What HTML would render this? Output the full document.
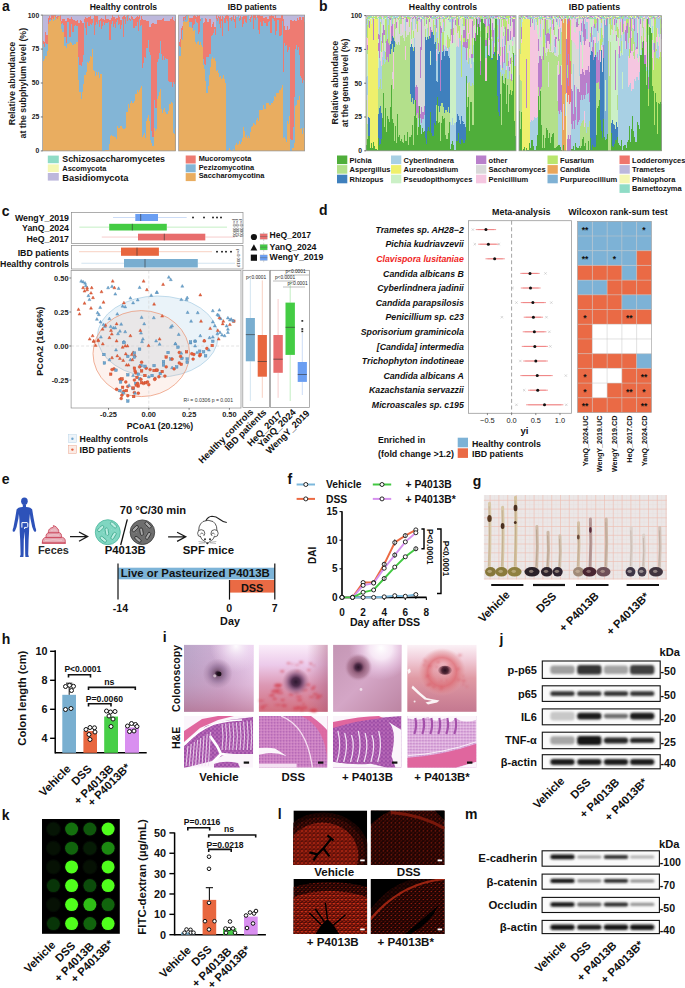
<!DOCTYPE html>
<html><head><meta charset="utf-8"><style>
html,body{margin:0;padding:0;background:#fff;}
svg{display:block;font-family:"Liberation Sans", sans-serif;}
</style></head><body>
<svg width="685" height="988" viewBox="0 0 685 988">
<defs><filter id="blur1" x="-20%" y="-50%" width="140%" height="200%"><feGaussianBlur stdDeviation="0.9"/></filter><filter id="blur2" x="-30%" y="-30%" width="160%" height="160%"><feGaussianBlur stdDeviation="1.3"/></filter></defs>
<rect x="0" y="0" width="685" height="988" fill="#fff"/>
<path fill="#e9ad60" d="M42.6 61.0h1.5v89.9h-1.5zM43.8 58.6h1.5v92.4h-1.5zM45.0 55.9h1.5v95.1h-1.5zM46.1 51.3h1.5v99.6h-1.5zM47.3 26.4h1.1v124.5h-1.1zM48.0 24.3h1.1v126.6h-1.1zM48.8 22.4h1.3v128.6h-1.3zM49.8 20.9h1.3v130.1h-1.3zM50.8 20.4h1.3v130.6h-1.3zM51.7 17.8h1.3v133.1h-1.3zM52.7 21.3h1.3v129.7h-1.3zM53.7 15.6h1.3v135.4h-1.3zM54.6 19.8h1.3v131.2h-1.3zM55.6 18.3h1.3v132.7h-1.3zM56.6 18.8h1.3v132.2h-1.3zM57.6 16.9h1.3v134.1h-1.3zM58.5 16.0h1.3v134.9h-1.3zM59.5 21.0h1.3v129.9h-1.3zM60.5 29.4h1.3v121.5h-1.3zM61.4 26.8h1.3v124.2h-1.3zM62.4 31.9h1.3v119.1h-1.3zM63.3 30.3h1.3v120.6h-1.3zM64.2 45.6h1.3v105.3h-1.3zM65.2 43.3h1.3v107.6h-1.3zM66.1 48.2h1.3v102.8h-1.3zM67.1 44.3h1.4v106.7h-1.4zM68.1 43.2h1.4v107.8h-1.4zM69.1 42.3h1.4v108.7h-1.4zM70.1 39.4h1.4v111.5h-1.4zM71.1 43.4h1.4v107.6h-1.4zM72.1 44.9h1.4v106.1h-1.4zM73.2 42.5h1.4v108.4h-1.4zM74.2 43.6h1.4v107.4h-1.4zM75.2 42.4h1.4v108.6h-1.4zM76.2 41.6h1.4v109.4h-1.4zM77.2 40.8h1.4v110.1h-1.4zM78.2 79.5h1.5v71.5h-1.5zM79.3 92.1h1.5v58.9h-1.5zM80.5 98.5h1.3v52.5h-1.3zM81.4 91.7h1.3v59.3h-1.3zM82.4 84.2h1.3v66.7h-1.3zM83.3 73.0h1.3v77.9h-1.3zM84.2 74.6h1.3v76.3h-1.3zM85.2 72.2h1.3v78.8h-1.3zM86.1 65.4h1.3v85.5h-1.3zM87.1 61.5h1.3v89.4h-1.3zM88.0 62.9h1.3v88.0h-1.3zM89.0 61.1h1.3v89.9h-1.3zM90.0 56.1h1.3v94.8h-1.3zM90.9 56.5h1.3v94.4h-1.3zM91.8 48.5h1.3v102.5h-1.3zM92.8 69.8h1.3v81.1h-1.3zM93.8 71.4h1.3v79.6h-1.3zM94.8 76.0h1.3v75.0h-1.3zM95.7 71.9h1.3v79.0h-1.3zM96.7 75.3h1.3v75.7h-1.3zM97.7 71.6h1.3v79.4h-1.3zM98.7 77.9h1.3v73.1h-1.3zM99.6 73.7h1.3v77.2h-1.3zM100.6 74.3h1.3v76.7h-1.3zM101.6 125.3h1.2v25.6h-1.2zM105.0 149.9h1.5v1.0h-1.5zM106.1 149.4h1.5v1.5h-1.5zM107.2 149.5h1.5v1.4h-1.5zM108.3 144.0h1.5v6.9h-1.5zM109.4 136.0h1.4v15.0h-1.4zM110.5 134.6h1.4v16.3h-1.4zM111.6 136.2h1.4v14.7h-1.4zM112.7 135.9h1.4v15.1h-1.4zM113.8 137.0h1.3v13.9h-1.3zM114.8 137.0h1.3v13.9h-1.3zM115.7 138.8h1.3v12.1h-1.3zM116.7 125.5h1.3v25.5h-1.3zM117.7 127.6h1.3v23.3h-1.3zM118.7 127.8h1.3v23.2h-1.3zM119.7 125.8h1.3v25.1h-1.3zM120.7 126.1h1.3v24.8h-1.3zM121.6 127.9h1.3v23.1h-1.3zM122.6 128.8h1.3v22.1h-1.3zM123.6 128.7h1.3v22.3h-1.3zM124.6 127.7h1.3v23.3h-1.3zM125.6 111.6h1.3v39.4h-1.3zM126.6 111.8h1.3v39.1h-1.3zM127.6 104.3h1.3v46.6h-1.3zM128.5 107.8h1.3v43.2h-1.3zM129.5 102.9h1.3v48.0h-1.3zM130.5 100.4h1.3v50.5h-1.3zM131.5 101.3h1.3v49.6h-1.3zM132.4 102.7h1.3v48.3h-1.3zM133.4 100.9h1.3v50.0h-1.3zM134.4 90.3h1.4v60.7h-1.4zM135.4 93.6h1.4v57.3h-1.4zM136.5 90.1h1.4v60.8h-1.4zM137.5 92.2h1.4v58.7h-1.4zM138.6 89.4h1.4v61.6h-1.4zM139.6 88.1h1.4v62.8h-1.4zM140.7 85.9h1.4v65.1h-1.4zM141.7 137.2h1.4v13.7h-1.4zM142.8 134.6h1.4v16.4h-1.4zM143.8 133.3h1.4v17.7h-1.4zM144.9 137.7h1.4v13.3h-1.4zM146.0 121.3h1.4v29.6h-1.4zM147.0 118.2h1.4v32.7h-1.4zM148.0 115.0h1.4v35.9h-1.4zM149.0 120.9h1.5v30.0h-1.5zM150.2 140.4h1.5v10.5h-1.5zM151.3 142.6h1.4v8.4h-1.4zM152.4 145.9h1.4v5.0h-1.4zM153.5 127.8h1.3v23.2h-1.3zM154.5 131.2h1.3v19.8h-1.3zM155.4 128.8h1.3v22.1h-1.3zM156.4 98.5h1.5v52.5h-1.5zM157.5 95.9h1.5v55.1h-1.5zM158.6 91.9h1.5v59.0h-1.5zM159.7 89.1h1.5v61.9h-1.5zM160.8 109.1h1.4v41.8h-1.4zM161.9 112.8h1.4v38.2h-1.4zM162.9 109.4h1.4v41.6h-1.4zM164.0 107.6h1.4v43.3h-1.4zM165.0 111.9h1.4v39.1h-1.4zM166.1 113.8h1.4v37.2h-1.4zM167.1 110.8h1.4v40.1h-1.4zM168.2 101.0h1.5v49.9h-1.5zM169.3 103.5h1.5v47.4h-1.5zM170.4 101.9h1.5v49.0h-1.5zM171.5 102.6h1.5v48.3h-1.5zM172.6 132.8h1.3v18.2h-1.3zM173.5 133.9h1.3v17.0h-1.3zM174.4 128.1h1.3v22.9h-1.3z" shape-rendering="crispEdges"/>
<path fill="#83b5d6" d="M42.6 43.5h1.5v17.6h-1.5zM43.8 46.7h1.5v11.9h-1.5zM45.0 43.4h1.5v12.5h-1.5zM46.1 43.6h1.5v7.8h-1.5zM47.3 22.6h1.1v3.9h-1.1zM48.8 19.4h1.3v3.0h-1.3zM49.8 19.3h1.3v1.6h-1.3zM52.7 18.5h1.3v2.8h-1.3zM54.6 16.4h1.3v3.4h-1.3zM59.5 20.9h1.3v0.2h-1.3zM60.5 24.1h1.3v5.3h-1.3zM61.4 21.0h1.3v5.8h-1.3zM62.4 23.1h1.3v8.8h-1.3zM63.3 25.1h1.3v5.2h-1.3zM64.2 37.2h1.3v8.4h-1.3zM65.2 37.0h1.3v6.4h-1.3zM66.1 43.2h1.3v5.1h-1.3zM67.1 21.9h1.4v22.5h-1.4zM68.1 21.7h1.4v21.5h-1.4zM69.1 37.2h1.4v5.1h-1.4zM70.1 19.9h1.4v19.6h-1.4zM71.1 23.9h1.4v19.5h-1.4zM72.1 32.2h1.4v12.7h-1.4zM73.2 26.2h1.4v16.3h-1.4zM74.2 24.7h1.4v18.9h-1.4zM75.2 23.2h1.4v19.2h-1.4zM76.2 25.7h1.4v16.0h-1.4zM77.2 25.6h1.4v15.3h-1.4zM78.2 57.1h1.5v22.5h-1.5zM79.3 65.0h1.5v27.1h-1.5zM80.5 65.5h1.3v33.0h-1.3zM81.4 61.4h1.3v30.3h-1.3zM82.4 54.8h1.3v29.5h-1.3zM83.3 21.5h1.3v51.5h-1.3zM84.2 20.7h1.3v54.0h-1.3zM85.2 28.0h1.3v44.2h-1.3zM86.1 34.6h1.3v30.9h-1.3zM87.1 21.7h1.3v39.8h-1.3zM88.0 25.5h1.3v37.5h-1.3zM89.0 26.0h1.3v35.1h-1.3zM90.0 23.9h1.3v32.3h-1.3zM90.9 24.6h1.3v32.0h-1.3zM91.8 23.2h1.3v25.3h-1.3zM92.8 18.4h1.3v51.5h-1.3zM93.8 35.1h1.3v36.3h-1.3zM94.8 24.9h1.3v51.1h-1.3zM95.7 21.6h1.3v50.4h-1.3zM96.7 24.3h1.3v51.0h-1.3zM97.7 19.6h1.3v52.1h-1.3zM98.7 26.7h1.3v51.3h-1.3zM99.6 20.4h1.3v53.4h-1.3zM100.6 29.3h1.3v45.0h-1.3zM101.6 25.5h1.2v99.9h-1.2zM102.4 22.2h1.2v128.7h-1.2zM103.3 19.2h1.2v131.7h-1.2zM104.1 25.2h1.2v125.7h-1.2zM105.0 22.7h1.5v127.3h-1.5zM106.1 23.2h1.5v126.2h-1.5zM107.2 17.2h1.5v132.4h-1.5zM108.3 22.2h1.5v121.9h-1.5zM109.4 39.5h1.4v96.6h-1.4zM110.5 23.8h1.4v110.9h-1.4zM111.6 21.2h1.4v115.0h-1.4zM112.7 26.9h1.4v109.0h-1.4zM113.8 24.4h1.3v112.6h-1.3zM114.8 27.5h1.3v109.6h-1.3zM115.7 22.0h1.3v116.8h-1.3zM116.7 19.7h1.3v105.9h-1.3zM117.7 24.4h1.3v103.3h-1.3zM118.7 23.9h1.3v103.9h-1.3zM119.7 29.3h1.3v96.6h-1.3zM120.7 25.4h1.3v100.8h-1.3zM121.6 19.2h1.3v108.8h-1.3zM122.6 36.9h1.3v92.0h-1.3zM123.6 18.6h1.3v110.1h-1.3zM124.6 23.7h1.3v104.0h-1.3zM125.6 16.0h1.3v95.6h-1.3zM126.6 20.7h1.3v91.2h-1.3zM127.6 16.4h1.3v88.0h-1.3zM128.5 19.7h1.3v88.1h-1.3zM129.5 21.2h1.3v81.8h-1.3zM130.5 18.8h1.3v81.7h-1.3zM131.5 20.0h1.3v81.3h-1.3zM132.4 18.0h1.3v84.8h-1.3zM133.4 27.6h1.3v73.4h-1.3zM134.4 22.7h1.4v67.6h-1.4zM135.4 25.9h1.4v67.8h-1.4zM136.5 22.4h1.4v67.8h-1.4zM137.5 31.0h1.4v61.3h-1.4zM138.6 18.6h1.4v70.9h-1.4zM139.6 25.6h1.4v62.6h-1.4zM140.7 24.7h1.4v61.3h-1.4zM141.7 67.9h1.4v69.4h-1.4zM142.8 63.0h1.4v71.7h-1.4zM143.8 56.6h1.4v76.7h-1.4zM144.9 58.1h1.4v79.6h-1.4zM146.0 47.6h1.4v73.8h-1.4zM147.0 48.4h1.4v69.9h-1.4zM148.0 39.8h1.4v75.3h-1.4zM149.0 52.1h1.5v68.9h-1.5zM150.2 54.5h1.5v85.9h-1.5zM151.3 130.8h1.4v11.9h-1.4zM152.4 137.3h1.4v8.6h-1.4zM153.5 99.6h1.3v28.2h-1.3zM154.5 106.5h1.3v24.7h-1.3zM155.4 107.4h1.3v21.5h-1.3zM156.4 61.6h1.5v36.9h-1.5zM157.5 58.5h1.5v37.4h-1.5zM158.6 52.9h1.5v39.1h-1.5zM159.7 41.1h1.5v48.0h-1.5zM160.8 53.6h1.4v55.5h-1.4zM161.9 59.5h1.4v53.3h-1.4zM162.9 56.4h1.4v53.1h-1.4zM164.0 60.2h1.4v47.5h-1.4zM165.0 57.6h1.4v54.3h-1.4zM166.1 58.6h1.4v55.3h-1.4zM167.1 56.2h1.4v54.6h-1.4zM168.2 81.3h1.5v19.8h-1.5zM169.3 82.2h1.5v21.4h-1.5zM170.4 81.7h1.5v20.2h-1.5zM171.5 86.4h1.5v16.2h-1.5zM172.6 82.0h1.3v50.8h-1.3zM173.5 83.9h1.3v50.0h-1.3zM174.4 82.3h1.3v45.8h-1.3z" shape-rendering="crispEdges"/>
<path fill="#ee7b72" d="M42.6 40.8h1.5v2.7h-1.5zM43.8 41.4h1.5v5.4h-1.5zM45.0 32.3h1.5v11.1h-1.5zM46.1 34.4h1.5v9.2h-1.5zM47.3 18.3h1.1v4.4h-1.1zM48.0 18.3h1.1v6.1h-1.1zM48.8 16.4h1.3v3.1h-1.3zM49.8 17.6h1.3v1.8h-1.3zM50.8 15.1h1.3v5.3h-1.3zM51.7 15.1h1.3v2.8h-1.3zM52.7 15.1h1.3v3.5h-1.3zM53.7 15.1h1.3v0.5h-1.3zM54.6 15.1h1.3v1.4h-1.3zM55.6 16.4h1.3v1.9h-1.3zM56.6 15.8h1.3v3.0h-1.3zM57.6 16.4h1.3v0.5h-1.3zM59.5 15.1h1.3v5.8h-1.3zM60.5 21.0h1.3v3.2h-1.3zM61.4 19.0h1.3v2.1h-1.3zM62.4 16.7h1.3v6.5h-1.3zM63.3 18.9h1.3v6.3h-1.3zM64.2 18.8h1.3v18.5h-1.3zM65.2 20.4h1.3v16.6h-1.3zM66.1 18.5h1.3v24.7h-1.3zM67.1 17.9h1.4v4.0h-1.4zM68.1 17.1h1.4v4.6h-1.4zM69.1 19.3h1.4v18.0h-1.4zM70.1 16.2h1.4v3.7h-1.4zM71.1 16.9h1.4v7.1h-1.4zM72.1 19.2h1.4v13.1h-1.4zM73.2 19.7h1.4v6.6h-1.4zM74.2 16.7h1.4v8.1h-1.4zM75.2 20.4h1.4v2.8h-1.4zM76.2 19.9h1.4v5.8h-1.4zM77.2 17.2h1.4v8.4h-1.4zM78.2 22.5h1.5v34.7h-1.5zM79.3 19.6h1.5v45.5h-1.5zM80.5 18.9h1.3v46.7h-1.3zM81.4 21.1h1.3v40.4h-1.3zM82.4 22.9h1.3v31.9h-1.3zM83.3 18.9h1.3v2.7h-1.3zM84.2 16.5h1.3v4.3h-1.3zM85.2 15.8h1.3v12.3h-1.3zM86.1 17.4h1.3v17.2h-1.3zM87.1 17.8h1.3v4.0h-1.3zM88.0 16.9h1.3v8.7h-1.3zM89.0 16.9h1.3v9.2h-1.3zM90.0 15.8h1.3v8.2h-1.3zM90.9 18.8h1.3v5.9h-1.3zM91.8 19.4h1.3v3.9h-1.3zM93.8 15.2h1.3v20.0h-1.3zM94.8 15.6h1.3v9.4h-1.3zM95.7 16.0h1.3v5.7h-1.3zM96.7 15.8h1.3v8.5h-1.3zM98.7 20.1h1.3v6.6h-1.3zM99.6 18.7h1.3v1.8h-1.3zM100.6 17.4h1.3v11.9h-1.3zM101.6 17.5h1.2v8.1h-1.2zM102.4 19.0h1.2v3.3h-1.2zM104.1 19.9h1.2v5.4h-1.2zM105.0 15.1h1.5v7.6h-1.5zM106.1 18.5h1.5v4.8h-1.5zM108.3 18.5h1.5v3.8h-1.5zM109.4 20.3h1.4v19.2h-1.4zM110.5 18.1h1.4v5.8h-1.4zM111.6 15.3h1.4v6.0h-1.4zM112.7 17.2h1.4v9.8h-1.4zM113.8 16.9h1.3v7.5h-1.3zM114.8 19.2h1.3v8.4h-1.3zM115.7 18.1h1.3v4.0h-1.3zM116.7 17.7h1.3v2.0h-1.3zM117.7 15.3h1.3v9.2h-1.3zM118.7 16.9h1.3v7.1h-1.3zM119.7 19.7h1.3v9.6h-1.3zM120.7 19.4h1.3v6.0h-1.3zM121.6 17.2h1.3v2.0h-1.3zM122.6 15.5h1.3v21.4h-1.3zM123.6 15.1h1.3v3.6h-1.3zM124.6 17.1h1.3v6.7h-1.3zM126.6 15.1h1.3v5.6h-1.3zM127.6 15.1h1.3v1.3h-1.3zM128.5 18.3h1.3v1.5h-1.3zM129.5 18.8h1.3v2.4h-1.3zM130.5 16.2h1.3v2.6h-1.3zM131.5 17.3h1.3v2.7h-1.3zM132.4 16.9h1.3v1.1h-1.3zM133.4 18.4h1.3v9.2h-1.3zM134.4 17.7h1.4v5.1h-1.4zM135.4 17.0h1.4v9.0h-1.4zM136.5 16.1h1.4v6.3h-1.4zM137.5 17.3h1.4v13.8h-1.4zM138.6 15.1h1.4v3.5h-1.4zM139.6 19.5h1.4v6.2h-1.4zM140.7 15.7h1.4v9.0h-1.4zM141.7 18.6h1.4v49.3h-1.4zM142.8 20.0h1.4v43.0h-1.4zM143.8 20.1h1.4v36.5h-1.4zM144.9 20.2h1.4v38.0h-1.4zM146.0 20.7h1.4v26.9h-1.4zM147.0 20.6h1.4v27.8h-1.4zM148.0 21.2h1.4v18.6h-1.4zM149.0 26.6h1.5v25.6h-1.5zM150.2 23.5h1.5v31.1h-1.5zM151.3 22.5h1.4v108.3h-1.4zM152.4 22.8h1.4v114.5h-1.4zM153.5 24.0h1.3v75.7h-1.3zM154.5 23.0h1.3v83.5h-1.3zM155.4 23.6h1.3v83.9h-1.3zM156.4 20.0h1.5v41.7h-1.5zM157.5 20.3h1.5v38.2h-1.5zM158.6 19.5h1.5v33.4h-1.5zM159.7 20.3h1.5v20.9h-1.5zM160.8 20.1h1.4v33.5h-1.4zM161.9 18.9h1.4v40.7h-1.4zM162.9 18.0h1.4v38.4h-1.4zM164.0 20.5h1.4v39.7h-1.4zM165.0 21.3h1.4v36.4h-1.4zM166.1 20.8h1.4v37.8h-1.4zM167.1 19.5h1.4v36.8h-1.4zM168.2 20.8h1.5v60.5h-1.5zM169.3 17.1h1.5v65.1h-1.5zM170.4 19.4h1.5v62.4h-1.5zM171.5 16.5h1.5v70.0h-1.5zM172.6 20.4h1.3v61.7h-1.3zM173.5 20.9h1.3v63.0h-1.3zM174.4 19.3h1.3v63.1h-1.3z" shape-rendering="crispEdges"/>
<path fill="#bdb8dc" d="M42.6 15.1h1.5v25.8h-1.5zM43.8 15.1h1.5v26.4h-1.5zM45.0 15.1h1.5v17.2h-1.5zM46.1 15.1h1.5v19.4h-1.5zM47.3 15.1h1.1v3.2h-1.1zM48.0 15.1h1.1v3.3h-1.1zM48.8 15.1h1.3v1.3h-1.3zM49.8 15.1h1.3v2.5h-1.3zM55.6 15.1h1.3v1.4h-1.3zM56.6 15.1h1.3v0.7h-1.3zM57.6 15.1h1.3v1.3h-1.3zM58.5 15.1h1.3v1.0h-1.3zM60.5 15.1h1.3v5.9h-1.3zM61.4 15.1h1.3v3.9h-1.3zM62.4 15.1h1.3v1.7h-1.3zM63.3 15.1h1.3v3.9h-1.3zM64.2 15.1h1.3v3.7h-1.3zM65.2 15.1h1.3v5.4h-1.3zM66.1 15.1h1.3v3.5h-1.3zM67.1 15.1h1.4v2.8h-1.4zM68.1 15.1h1.4v2.1h-1.4zM69.1 15.1h1.4v4.2h-1.4zM70.1 15.1h1.4v1.2h-1.4zM71.1 15.1h1.4v1.8h-1.4zM72.1 15.1h1.4v4.1h-1.4zM73.2 15.1h1.4v4.6h-1.4zM74.2 15.1h1.4v1.6h-1.4zM75.2 15.1h1.4v5.4h-1.4zM76.2 15.1h1.4v4.9h-1.4zM77.2 15.1h1.4v2.2h-1.4zM78.2 15.1h1.5v7.4h-1.5zM79.3 15.1h1.5v4.5h-1.5zM80.5 15.1h1.3v3.9h-1.3zM81.4 15.1h1.3v6.1h-1.3zM82.4 15.1h1.3v7.9h-1.3zM83.3 15.1h1.3v3.8h-1.3zM84.2 15.1h1.3v1.4h-1.3zM85.2 15.1h1.3v0.7h-1.3zM86.1 15.1h1.3v2.4h-1.3zM87.1 15.1h1.3v2.7h-1.3zM88.0 15.1h1.3v1.8h-1.3zM89.0 15.1h1.3v1.9h-1.3zM90.0 15.1h1.3v0.7h-1.3zM90.9 15.1h1.3v3.7h-1.3zM91.8 15.1h1.3v4.3h-1.3zM92.8 15.1h1.3v3.3h-1.3zM93.8 15.1h1.3v0.1h-1.3zM94.8 15.1h1.3v0.5h-1.3zM95.7 15.1h1.3v0.9h-1.3zM96.7 15.1h1.3v0.8h-1.3zM97.7 15.1h1.3v4.5h-1.3zM98.7 15.1h1.3v5.1h-1.3zM99.6 15.1h1.3v3.6h-1.3zM100.6 15.1h1.3v2.4h-1.3zM101.6 15.1h1.2v2.4h-1.2zM102.4 15.1h1.2v4.0h-1.2zM103.3 15.1h1.2v4.2h-1.2zM104.1 15.1h1.2v4.9h-1.2zM106.1 15.1h1.5v3.5h-1.5zM107.2 15.1h1.5v2.1h-1.5zM108.3 15.1h1.5v3.4h-1.5zM109.4 15.1h1.4v5.3h-1.4zM110.5 15.1h1.4v3.0h-1.4zM111.6 15.1h1.4v0.2h-1.4zM112.7 15.1h1.4v2.1h-1.4zM113.8 15.1h1.3v1.9h-1.3zM114.8 15.1h1.3v4.1h-1.3zM115.7 15.1h1.3v3.0h-1.3zM116.7 15.1h1.3v2.7h-1.3zM117.7 15.1h1.3v0.2h-1.3zM118.7 15.1h1.3v1.8h-1.3zM119.7 15.1h1.3v4.7h-1.3zM120.7 15.1h1.3v4.4h-1.3zM121.6 15.1h1.3v2.1h-1.3zM122.6 15.1h1.3v0.5h-1.3zM124.6 15.1h1.3v2.0h-1.3zM125.6 15.1h1.3v0.9h-1.3zM128.5 15.1h1.3v3.3h-1.3zM129.5 15.1h1.3v3.8h-1.3zM130.5 15.1h1.3v1.2h-1.3zM131.5 15.1h1.3v2.3h-1.3zM132.4 15.1h1.3v1.9h-1.3zM133.4 15.1h1.3v3.4h-1.3zM134.4 15.1h1.4v2.6h-1.4zM135.4 15.1h1.4v1.9h-1.4zM136.5 15.1h1.4v1.1h-1.4zM137.5 15.1h1.4v2.2h-1.4zM139.6 15.1h1.4v4.4h-1.4zM140.7 15.1h1.4v0.6h-1.4zM141.7 15.1h1.4v3.6h-1.4zM142.8 15.1h1.4v5.0h-1.4zM143.8 15.1h1.4v5.1h-1.4zM144.9 15.1h1.4v5.1h-1.4zM146.0 15.1h1.4v5.7h-1.4zM147.0 15.1h1.4v5.6h-1.4zM148.0 15.1h1.4v6.1h-1.4zM149.0 15.1h1.5v11.5h-1.5zM150.2 15.1h1.5v8.5h-1.5zM151.3 15.1h1.4v7.5h-1.4zM152.4 15.1h1.4v7.8h-1.4zM153.5 15.1h1.3v8.9h-1.3zM154.5 15.1h1.3v8.0h-1.3zM155.4 15.1h1.3v8.5h-1.3zM156.4 15.1h1.5v4.9h-1.5zM157.5 15.1h1.5v5.3h-1.5zM158.6 15.1h1.5v4.5h-1.5zM159.7 15.1h1.5v5.2h-1.5zM160.8 15.1h1.4v5.1h-1.4zM161.9 15.1h1.4v3.8h-1.4zM162.9 15.1h1.4v3.0h-1.4zM164.0 15.1h1.4v5.5h-1.4zM165.0 15.1h1.4v6.3h-1.4zM166.1 15.1h1.4v5.8h-1.4zM167.1 15.1h1.4v4.5h-1.4zM168.2 15.1h1.5v5.7h-1.5zM169.3 15.1h1.5v2.1h-1.5zM170.4 15.1h1.5v4.3h-1.5zM171.5 15.1h1.5v1.5h-1.5zM172.6 15.1h1.3v5.3h-1.3zM173.5 15.1h1.3v5.9h-1.3zM174.4 15.1h1.3v4.2h-1.3z" shape-rendering="crispEdges"/>
<path fill="#e9ad60" d="M178.6 55.5h1.3v95.5h-1.3zM179.5 56.3h1.3v94.7h-1.3zM180.4 38.8h1.4v112.1h-1.4zM181.5 40.3h1.4v110.7h-1.4zM182.6 21.6h1.3v129.4h-1.3zM183.5 21.2h1.3v129.7h-1.3zM184.5 19.9h1.3v131.0h-1.3zM185.4 21.6h1.3v129.3h-1.3zM186.4 20.4h1.3v130.5h-1.3zM187.3 15.1h1.3v135.9h-1.3zM188.3 15.1h1.3v135.9h-1.3zM189.2 27.2h1.3v123.7h-1.3zM190.2 26.6h1.3v124.3h-1.3zM191.1 27.7h1.3v123.2h-1.3zM192.1 28.3h1.3v122.7h-1.3zM193.1 30.6h1.3v120.4h-1.3zM194.0 30.0h1.3v121.0h-1.3zM195.0 42.2h1.4v108.7h-1.4zM196.0 43.9h1.4v107.0h-1.4zM197.0 42.2h1.4v108.8h-1.4zM198.0 40.7h1.4v110.3h-1.4zM199.0 45.4h1.4v105.6h-1.4zM200.0 41.8h1.4v109.2h-1.4zM201.0 45.1h1.4v105.8h-1.4zM202.0 47.2h1.4v103.7h-1.4zM203.0 64.5h1.4v86.5h-1.4zM204.0 68.7h1.4v82.3h-1.4zM205.0 81.1h1.4v69.9h-1.4zM206.0 92.9h1.5v58.0h-1.5zM207.1 85.6h1.5v65.3h-1.5zM208.2 74.4h1.5v76.5h-1.5zM209.4 67.0h1.5v84.0h-1.5zM210.5 58.8h1.4v92.1h-1.4zM211.5 57.0h1.4v93.9h-1.4zM212.5 59.1h1.4v91.8h-1.4zM213.6 58.2h1.4v92.8h-1.4zM214.6 61.0h1.4v90.0h-1.4zM215.6 71.2h1.4v79.7h-1.4zM216.6 69.7h1.4v81.3h-1.4zM217.7 73.3h1.4v77.6h-1.4zM218.7 76.5h1.4v74.4h-1.4zM219.7 76.4h1.4v74.6h-1.4zM220.8 78.8h1.4v72.1h-1.4zM221.8 77.8h1.4v73.1h-1.4zM222.8 75.3h1.4v75.6h-1.4zM223.8 78.8h1.4v72.1h-1.4zM224.9 82.4h1.4v68.5h-1.4zM226.9 150.6h1.3v0.4h-1.3zM227.9 150.2h1.3v0.7h-1.3zM228.8 147.6h1.3v3.4h-1.3zM229.8 150.1h1.3v0.8h-1.3zM232.7 149.3h1.3v1.7h-1.3zM233.7 150.8h1.3v0.2h-1.3zM234.7 144.5h1.4v6.4h-1.4zM235.7 143.0h1.4v7.9h-1.4zM236.8 144.6h1.4v6.4h-1.4zM237.8 143.9h1.4v7.1h-1.4zM238.8 140.9h1.4v10.1h-1.4zM239.9 144.2h1.4v6.8h-1.4zM240.9 141.4h1.4v9.6h-1.4zM242.0 138.0h1.4v12.9h-1.4zM243.0 126.5h1.4v24.5h-1.4zM244.0 131.0h1.4v20.0h-1.4zM245.0 137.2h1.4v13.8h-1.4zM246.0 135.0h1.4v15.9h-1.4zM247.0 137.9h1.4v13.1h-1.4zM248.0 136.3h1.4v14.6h-1.4zM249.0 137.6h1.4v13.4h-1.4zM250.0 132.0h1.4v18.9h-1.4zM251.0 127.1h1.4v23.8h-1.4zM252.0 125.5h1.4v25.5h-1.4zM253.0 123.1h1.4v27.9h-1.4zM254.0 123.6h1.4v27.3h-1.4zM255.0 125.1h1.4v25.8h-1.4zM256.0 119.6h1.4v31.3h-1.4zM257.0 117.9h1.4v33.0h-1.4zM258.0 121.0h1.4v29.9h-1.4zM259.0 109.6h1.4v41.4h-1.4zM260.0 109.7h1.4v41.2h-1.4zM261.1 110.4h1.4v40.6h-1.4zM262.1 105.2h1.4v45.8h-1.4zM263.1 105.4h1.4v45.6h-1.4zM264.1 108.8h1.4v42.1h-1.4zM265.2 103.0h1.4v47.9h-1.4zM266.2 101.9h1.4v49.1h-1.4zM267.2 103.2h1.4v47.8h-1.4zM268.3 98.8h1.4v52.1h-1.4zM269.3 105.1h1.3v45.8h-1.3zM270.3 103.3h1.3v47.7h-1.3zM271.2 102.9h1.3v48.1h-1.3zM272.2 100.7h1.3v50.2h-1.3zM273.1 99.1h1.3v51.8h-1.3zM274.1 95.9h1.3v55.0h-1.3zM275.0 97.0h1.3v53.9h-1.3zM276.0 93.3h1.4v57.6h-1.4zM277.1 93.4h1.4v57.5h-1.4zM278.2 86.9h1.4v64.0h-1.4zM279.2 89.6h1.4v61.3h-1.4zM280.3 87.9h1.4v63.0h-1.4zM281.4 84.8h1.4v66.1h-1.4zM282.5 137.5h1.1v13.5h-1.1zM283.2 137.0h1.1v14.0h-1.1zM284.0 137.1h1.4v13.9h-1.4zM285.0 139.2h1.4v11.7h-1.4zM286.0 142.2h1.4v8.7h-1.4zM287.0 121.1h1.4v29.9h-1.4zM288.0 124.2h1.4v26.7h-1.4zM289.0 115.7h1.4v35.2h-1.4zM291.3 145.9h1.3v5.1h-1.3zM292.2 147.8h1.3v3.2h-1.3zM293.1 143.7h1.3v7.2h-1.3zM294.1 143.2h1.3v7.8h-1.3zM295.0 105.6h1.4v45.3h-1.4zM296.0 105.2h1.4v45.7h-1.4zM297.0 99.7h1.4v51.3h-1.4zM298.0 100.0h1.4v50.9h-1.4zM299.0 95.8h1.4v55.2h-1.4zM300.0 128.6h1.3v22.4h-1.3zM300.9 127.5h1.3v23.4h-1.3zM301.8 133.6h1.3v17.3h-1.3zM302.8 128.2h1.3v22.7h-1.3zM303.7 133.2h1.3v17.7h-1.3z" shape-rendering="crispEdges"/>
<path fill="#83b5d6" d="M178.6 45.4h1.3v10.1h-1.3zM179.5 47.1h1.3v9.2h-1.3zM181.5 29.6h1.4v10.7h-1.4zM182.6 21.3h1.3v0.3h-1.3zM183.5 17.9h1.3v3.3h-1.3zM185.4 16.4h1.3v5.3h-1.3zM186.4 15.1h1.3v5.4h-1.3zM189.2 22.2h1.3v5.1h-1.3zM190.2 21.9h1.3v4.8h-1.3zM191.1 18.6h1.3v9.1h-1.3zM192.1 28.1h1.3v0.2h-1.3zM193.1 24.6h1.3v6.0h-1.3zM194.0 23.4h1.3v6.6h-1.3zM195.0 19.0h1.4v23.3h-1.4zM196.0 21.6h1.4v22.4h-1.4zM197.0 22.6h1.4v19.6h-1.4zM198.0 33.7h1.4v7.0h-1.4zM199.0 31.9h1.4v13.5h-1.4zM200.0 21.3h1.4v20.6h-1.4zM201.0 17.4h1.4v27.8h-1.4zM202.0 17.8h1.4v29.5h-1.4zM203.0 59.4h1.4v5.1h-1.4zM204.0 64.1h1.4v4.6h-1.4zM205.0 65.0h1.4v16.1h-1.4zM206.0 57.1h1.5v35.9h-1.5zM207.1 57.2h1.5v28.5h-1.5zM208.2 53.9h1.5v20.6h-1.5zM209.4 54.2h1.5v12.8h-1.5zM210.5 35.6h1.4v23.3h-1.4zM211.5 35.1h1.4v22.0h-1.4zM212.5 32.9h1.4v26.2h-1.4zM213.6 28.7h1.4v29.6h-1.4zM214.6 34.8h1.4v26.2h-1.4zM215.6 19.1h1.4v52.2h-1.4zM216.6 21.4h1.4v48.4h-1.4zM217.7 18.2h1.4v55.2h-1.4zM218.7 24.3h1.4v52.2h-1.4zM219.7 27.6h1.4v48.8h-1.4zM220.8 21.4h1.4v57.5h-1.4zM221.8 35.9h1.4v42.0h-1.4zM222.8 17.3h1.4v58.1h-1.4zM223.8 22.8h1.4v56.0h-1.4zM224.9 22.5h1.4v60.0h-1.4zM225.9 19.0h1.3v131.9h-1.3zM226.9 20.9h1.3v129.7h-1.3zM227.9 30.9h1.3v119.4h-1.3zM228.8 17.8h1.3v129.9h-1.3zM229.8 19.3h1.3v130.9h-1.3zM230.8 20.9h1.3v130.0h-1.3zM231.8 17.1h1.3v133.9h-1.3zM232.7 19.5h1.3v129.8h-1.3zM233.7 22.3h1.3v128.5h-1.3zM234.7 27.6h1.4v117.0h-1.4zM235.7 17.4h1.4v125.7h-1.4zM236.8 16.7h1.4v127.9h-1.4zM237.8 15.5h1.4v128.5h-1.4zM238.8 20.8h1.4v120.1h-1.4zM239.9 19.8h1.4v124.5h-1.4zM240.9 16.6h1.4v124.9h-1.4zM242.0 27.2h1.4v110.9h-1.4zM243.0 23.6h1.4v103.0h-1.4zM244.0 18.5h1.4v112.6h-1.4zM245.0 22.3h1.4v114.9h-1.4zM246.0 22.5h1.4v112.6h-1.4zM247.0 16.0h1.4v122.0h-1.4zM248.0 15.1h1.4v121.3h-1.4zM249.0 19.7h1.4v118.0h-1.4zM250.0 21.8h1.4v110.3h-1.4zM251.0 17.5h1.4v109.7h-1.4zM252.0 15.4h1.4v110.1h-1.4zM253.0 28.7h1.4v94.4h-1.4zM254.0 17.8h1.4v105.9h-1.4zM255.0 19.5h1.4v105.7h-1.4zM256.0 16.6h1.4v103.1h-1.4zM257.0 18.3h1.4v99.7h-1.4zM258.0 29.8h1.4v91.3h-1.4zM259.0 33.9h1.4v75.7h-1.4zM260.0 21.9h1.4v87.9h-1.4zM261.1 26.1h1.4v84.3h-1.4zM262.1 18.6h1.4v86.6h-1.4zM263.1 21.2h1.4v84.2h-1.4zM264.1 23.3h1.4v85.6h-1.4zM265.2 17.5h1.4v85.5h-1.4zM266.2 25.6h1.4v76.3h-1.4zM267.2 21.5h1.4v81.7h-1.4zM268.3 20.9h1.4v78.0h-1.4zM269.3 16.2h1.3v89.0h-1.3zM270.3 33.0h1.3v70.3h-1.3zM271.2 18.0h1.3v85.0h-1.3zM272.2 16.4h1.3v84.4h-1.3zM273.1 18.9h1.3v80.3h-1.3zM274.1 20.7h1.3v75.2h-1.3zM275.0 35.1h1.3v62.0h-1.3zM276.0 30.6h1.4v62.8h-1.4zM277.1 20.3h1.4v73.1h-1.4zM278.2 20.3h1.4v66.7h-1.4zM279.2 35.5h1.4v54.2h-1.4zM280.3 35.0h1.4v53.0h-1.4zM281.4 20.7h1.4v64.2h-1.4zM282.5 70.0h1.1v67.5h-1.1zM283.2 71.5h1.1v65.5h-1.1zM284.0 42.9h1.4v94.2h-1.4zM285.0 45.6h1.4v93.6h-1.4zM286.0 45.3h1.4v97.0h-1.4zM287.0 51.6h1.4v69.5h-1.4zM288.0 50.3h1.4v74.0h-1.4zM289.0 46.9h1.4v68.8h-1.4zM290.0 138.7h1.7v12.3h-1.7zM291.3 140.2h1.3v5.8h-1.3zM292.2 127.1h1.3v20.7h-1.3zM293.1 113.1h1.3v30.7h-1.3zM294.1 97.0h1.3v46.2h-1.3zM295.0 48.5h1.4v57.1h-1.4zM296.0 44.7h1.4v60.5h-1.4zM297.0 50.4h1.4v49.3h-1.4zM298.0 47.0h1.4v53.0h-1.4zM299.0 54.6h1.4v41.2h-1.4zM300.0 75.9h1.3v52.7h-1.3zM300.9 78.3h1.3v49.3h-1.3zM301.8 82.8h1.3v50.9h-1.3zM302.8 79.8h1.3v48.5h-1.3zM303.7 80.6h1.3v52.7h-1.3z" shape-rendering="crispEdges"/>
<path fill="#ee7b72" d="M178.6 42.0h1.3v3.5h-1.3zM179.5 38.6h1.3v8.6h-1.3zM180.4 28.2h1.4v10.6h-1.4zM181.5 26.0h1.4v3.6h-1.4zM182.6 16.9h1.3v4.5h-1.3zM183.5 16.4h1.3v1.6h-1.3zM184.5 16.0h1.3v4.0h-1.3zM185.4 15.1h1.3v1.3h-1.3zM189.2 17.7h1.3v4.6h-1.3zM190.2 16.0h1.3v5.9h-1.3zM191.1 18.0h1.3v0.7h-1.3zM192.1 17.9h1.3v10.3h-1.3zM193.1 15.6h1.3v9.1h-1.3zM194.0 15.3h1.3v8.2h-1.3zM195.0 16.3h1.4v2.8h-1.4zM196.0 17.1h1.4v4.5h-1.4zM197.0 15.4h1.4v7.3h-1.4zM198.0 15.8h1.4v18.0h-1.4zM199.0 15.1h1.4v16.8h-1.4zM200.0 18.7h1.4v2.6h-1.4zM203.0 23.1h1.4v36.3h-1.4zM204.0 22.2h1.4v41.9h-1.4zM205.0 17.9h1.4v47.2h-1.4zM206.0 18.5h1.5v38.6h-1.5zM207.1 21.7h1.5v35.5h-1.5zM208.2 17.0h1.5v36.9h-1.5zM209.4 19.3h1.5v34.9h-1.5zM210.5 26.8h1.4v8.9h-1.4zM211.5 24.1h1.4v11.0h-1.4zM212.5 22.1h1.4v10.9h-1.4zM213.6 27.2h1.4v1.5h-1.4zM214.6 27.1h1.4v7.7h-1.4zM215.6 15.1h1.4v4.1h-1.4zM216.6 17.4h1.4v4.0h-1.4zM217.7 15.5h1.4v2.7h-1.4zM218.7 17.0h1.4v7.4h-1.4zM219.7 15.9h1.4v11.8h-1.4zM220.8 18.7h1.4v2.7h-1.4zM221.8 16.4h1.4v19.6h-1.4zM223.8 17.6h1.4v5.3h-1.4zM224.9 15.5h1.4v7.0h-1.4zM225.9 15.1h1.3v4.0h-1.3zM226.9 15.1h1.3v5.8h-1.3zM227.9 15.5h1.3v15.5h-1.3zM229.8 18.0h1.3v1.3h-1.3zM230.8 17.1h1.3v3.8h-1.3zM232.7 15.1h1.3v4.4h-1.3zM233.7 18.7h1.3v3.6h-1.3zM234.7 15.4h1.4v12.2h-1.4zM235.7 16.5h1.4v0.9h-1.4zM237.8 15.1h1.4v0.4h-1.4zM238.8 17.9h1.4v3.0h-1.4zM239.9 15.5h1.4v4.3h-1.4zM242.0 16.9h1.4v10.3h-1.4zM243.0 15.7h1.4v8.0h-1.4zM244.0 15.5h1.4v3.0h-1.4zM245.0 16.2h1.4v6.1h-1.4zM246.0 16.4h1.4v6.1h-1.4zM249.0 19.0h1.4v0.7h-1.4zM250.0 16.4h1.4v5.4h-1.4zM251.0 15.1h1.4v2.4h-1.4zM253.0 15.1h1.4v13.7h-1.4zM254.0 15.1h1.4v2.8h-1.4zM255.0 15.3h1.4v4.2h-1.4zM257.0 15.1h1.4v3.3h-1.4zM258.0 15.1h1.4v14.7h-1.4zM259.0 15.1h1.4v18.9h-1.4zM260.0 16.1h1.4v5.8h-1.4zM261.1 16.0h1.4v10.1h-1.4zM262.1 15.1h1.4v3.5h-1.4zM263.1 17.7h1.4v3.5h-1.4zM264.1 15.1h1.4v8.2h-1.4zM265.2 17.0h1.4v0.6h-1.4zM266.2 16.9h1.4v8.8h-1.4zM267.2 19.1h1.4v2.5h-1.4zM268.3 16.3h1.4v4.7h-1.4zM270.3 15.1h1.3v18.0h-1.3zM271.2 15.1h1.3v2.9h-1.3zM273.1 15.1h1.3v3.9h-1.3zM274.1 17.9h1.3v2.9h-1.3zM275.0 15.1h1.3v20.0h-1.3zM276.0 17.4h1.4v13.2h-1.4zM277.1 17.6h1.4v2.8h-1.4zM278.2 15.7h1.4v4.7h-1.4zM279.2 17.9h1.4v17.7h-1.4zM280.3 15.1h1.4v19.9h-1.4zM281.4 15.1h1.4v5.6h-1.4zM282.5 19.2h1.1v50.9h-1.1zM283.2 17.8h1.1v53.8h-1.1zM284.0 26.1h1.4v16.9h-1.4zM285.0 29.4h1.4v16.3h-1.4zM286.0 29.5h1.4v15.9h-1.4zM287.0 26.2h1.4v25.5h-1.4zM288.0 29.4h1.4v20.9h-1.4zM289.0 29.0h1.4v17.9h-1.4zM290.0 19.8h1.7v119.0h-1.7zM291.3 20.2h1.3v120.0h-1.3zM292.2 20.8h1.3v106.4h-1.3zM293.1 20.0h1.3v93.1h-1.3zM294.1 20.1h1.3v77.0h-1.3zM295.0 21.1h1.4v27.5h-1.4zM296.0 21.2h1.4v23.6h-1.4zM297.0 17.7h1.4v32.7h-1.4zM298.0 19.8h1.4v27.3h-1.4zM299.0 17.3h1.4v37.3h-1.4zM300.0 16.5h1.3v59.4h-1.3zM300.9 19.7h1.3v58.7h-1.3zM301.8 16.5h1.3v66.4h-1.3zM302.8 16.9h1.3v63.0h-1.3zM303.7 21.8h1.3v58.8h-1.3z" shape-rendering="crispEdges"/>
<path fill="#bdb8dc" d="M178.6 15.1h1.3v26.9h-1.3zM179.5 15.1h1.3v23.6h-1.3zM180.4 15.1h1.4v13.2h-1.4zM181.5 15.1h1.4v10.9h-1.4zM182.6 15.1h1.3v1.9h-1.3zM183.5 15.1h1.3v1.4h-1.3zM184.5 15.1h1.3v0.9h-1.3zM189.2 15.1h1.3v2.6h-1.3zM190.2 15.1h1.3v1.0h-1.3zM191.1 15.1h1.3v3.0h-1.3zM192.1 15.1h1.3v2.8h-1.3zM193.1 15.1h1.3v0.6h-1.3zM194.0 15.1h1.3v0.3h-1.3zM195.0 15.1h1.4v1.3h-1.4zM196.0 15.1h1.4v2.0h-1.4zM197.0 15.1h1.4v0.3h-1.4zM198.0 15.1h1.4v0.8h-1.4zM200.0 15.1h1.4v3.7h-1.4zM201.0 15.1h1.4v2.4h-1.4zM202.0 15.1h1.4v2.7h-1.4zM203.0 15.1h1.4v8.1h-1.4zM204.0 15.1h1.4v7.2h-1.4zM205.0 15.1h1.4v2.8h-1.4zM206.0 15.1h1.5v3.5h-1.5zM207.1 15.1h1.5v6.7h-1.5zM208.2 15.1h1.5v1.9h-1.5zM209.4 15.1h1.5v4.3h-1.5zM210.5 15.1h1.4v11.7h-1.4zM211.5 15.1h1.4v9.1h-1.4zM212.5 15.1h1.4v7.1h-1.4zM213.6 15.1h1.4v12.2h-1.4zM214.6 15.1h1.4v12.1h-1.4zM216.6 15.1h1.4v2.4h-1.4zM217.7 15.1h1.4v0.5h-1.4zM218.7 15.1h1.4v1.9h-1.4zM219.7 15.1h1.4v0.9h-1.4zM220.8 15.1h1.4v3.6h-1.4zM221.8 15.1h1.4v1.3h-1.4zM222.8 15.1h1.4v2.3h-1.4zM223.8 15.1h1.4v2.5h-1.4zM224.9 15.1h1.4v0.4h-1.4zM227.9 15.1h1.3v0.4h-1.3zM228.8 15.1h1.3v2.7h-1.3zM229.8 15.1h1.3v3.0h-1.3zM230.8 15.1h1.3v2.1h-1.3zM231.8 15.1h1.3v2.0h-1.3zM233.7 15.1h1.3v3.7h-1.3zM234.7 15.1h1.4v0.4h-1.4zM235.7 15.1h1.4v1.4h-1.4zM236.8 15.1h1.4v1.7h-1.4zM238.8 15.1h1.4v2.9h-1.4zM239.9 15.1h1.4v0.4h-1.4zM240.9 15.1h1.4v1.5h-1.4zM242.0 15.1h1.4v1.9h-1.4zM243.0 15.1h1.4v0.6h-1.4zM244.0 15.1h1.4v0.4h-1.4zM245.0 15.1h1.4v1.2h-1.4zM246.0 15.1h1.4v1.3h-1.4zM247.0 15.1h1.4v0.9h-1.4zM249.0 15.1h1.4v4.0h-1.4zM250.0 15.1h1.4v1.4h-1.4zM252.0 15.1h1.4v0.4h-1.4zM255.0 15.1h1.4v0.3h-1.4zM256.0 15.1h1.4v1.5h-1.4zM260.0 15.1h1.4v1.0h-1.4zM261.1 15.1h1.4v1.0h-1.4zM263.1 15.1h1.4v2.7h-1.4zM265.2 15.1h1.4v1.9h-1.4zM266.2 15.1h1.4v1.8h-1.4zM267.2 15.1h1.4v4.1h-1.4zM268.3 15.1h1.4v1.2h-1.4zM269.3 15.1h1.3v1.1h-1.3zM272.2 15.1h1.3v1.3h-1.3zM274.1 15.1h1.3v2.9h-1.3zM276.0 15.1h1.4v2.4h-1.4zM277.1 15.1h1.4v2.5h-1.4zM278.2 15.1h1.4v0.6h-1.4zM279.2 15.1h1.4v2.8h-1.4zM282.5 15.1h1.1v4.1h-1.1zM283.2 15.1h1.1v2.8h-1.1zM284.0 15.1h1.4v11.0h-1.4zM285.0 15.1h1.4v14.4h-1.4zM286.0 15.1h1.4v14.4h-1.4zM287.0 15.1h1.4v11.1h-1.4zM288.0 15.1h1.4v14.4h-1.4zM289.0 15.1h1.4v14.0h-1.4zM290.0 15.1h1.7v4.7h-1.7zM291.3 15.1h1.3v5.1h-1.3zM292.2 15.1h1.3v5.7h-1.3zM293.1 15.1h1.3v5.0h-1.3zM294.1 15.1h1.3v5.0h-1.3zM295.0 15.1h1.4v6.1h-1.4zM296.0 15.1h1.4v6.1h-1.4zM297.0 15.1h1.4v2.7h-1.4zM298.0 15.1h1.4v4.7h-1.4zM299.0 15.1h1.4v2.3h-1.4zM300.0 15.1h1.3v1.5h-1.3zM300.9 15.1h1.3v4.6h-1.3zM301.8 15.1h1.3v1.4h-1.3zM302.8 15.1h1.3v1.9h-1.3zM303.7 15.1h1.3v6.8h-1.3z" shape-rendering="crispEdges"/>
<rect x="42.60" y="15.10" width="132.70" height="135.80" fill="none" stroke="#9a9a9a" stroke-width="0.8"/>
<rect x="178.60" y="15.10" width="126.00" height="135.80" fill="none" stroke="#9a9a9a" stroke-width="0.8"/>
<line x1="40.80" y1="150.90" x2="42.60" y2="150.90" stroke="#333" stroke-width="0.7"/>
<text x="39.20" y="153.30" font-size="6.8" font-weight="bold" text-anchor="end" fill="#222">0</text>
<line x1="40.80" y1="116.95" x2="42.60" y2="116.95" stroke="#333" stroke-width="0.7"/>
<text x="39.20" y="119.35" font-size="6.8" font-weight="bold" text-anchor="end" fill="#222">25</text>
<line x1="40.80" y1="83.00" x2="42.60" y2="83.00" stroke="#333" stroke-width="0.7"/>
<text x="39.20" y="85.40" font-size="6.8" font-weight="bold" text-anchor="end" fill="#222">50</text>
<line x1="40.80" y1="49.05" x2="42.60" y2="49.05" stroke="#333" stroke-width="0.7"/>
<text x="39.20" y="51.45" font-size="6.8" font-weight="bold" text-anchor="end" fill="#222">75</text>
<line x1="40.80" y1="15.10" x2="42.60" y2="15.10" stroke="#333" stroke-width="0.7"/>
<text x="39.20" y="17.50" font-size="6.8" font-weight="bold" text-anchor="end" fill="#222">100</text>
<text x="123.40" y="10.20" font-size="8.7" font-weight="bold" text-anchor="middle" fill="#111" textLength="67.50" lengthAdjust="spacingAndGlyphs">Healthy controls</text>
<text x="252.20" y="10.20" font-size="8.7" font-weight="bold" text-anchor="middle" fill="#111" textLength="48.90" lengthAdjust="spacingAndGlyphs">IBD patients</text>
<text x="15.10" y="83.50" font-size="8.9" font-weight="bold" text-anchor="middle" fill="#1a1a1a" transform="rotate(-90 15.10 83.50)" textLength="83.60" lengthAdjust="spacingAndGlyphs">Relative abundance</text>
<text x="25.70" y="83.20" font-size="8.9" font-weight="bold" text-anchor="middle" fill="#1a1a1a" transform="rotate(-90 25.70 83.20)" textLength="110.50" lengthAdjust="spacingAndGlyphs">at the subphylum level (%)</text>
<text x="1.90" y="10.90" font-size="14" font-weight="bold" text-anchor="start" fill="#111">a</text>
<rect x="47.80" y="155.60" width="11.00" height="7.60" fill="#8fdcc6"/>
<text x="62.30" y="162.40" font-size="8.9" font-weight="bold" text-anchor="start" fill="#111" textLength="102.70" lengthAdjust="spacingAndGlyphs">Schizosaccharomycetes</text>
<rect x="47.80" y="164.40" width="11.00" height="7.60" fill="#f5f8b4"/>
<text x="62.30" y="170.90" font-size="7.4" font-weight="bold" text-anchor="start" fill="#111">Ascomycota</text>
<rect x="47.80" y="173.00" width="11.00" height="7.60" fill="#bdb8dc"/>
<text x="62.30" y="181.30" font-size="9.3" font-weight="bold" text-anchor="start" fill="#111" textLength="66.20" lengthAdjust="spacingAndGlyphs">Basidiomycota</text>
<rect x="185.70" y="155.50" width="10.00" height="8.00" fill="#ee7b72"/>
<text x="198.70" y="160.80" font-size="7.4" font-weight="bold" text-anchor="start" fill="#111">Mucoromycota</text>
<rect x="185.70" y="164.30" width="10.00" height="8.00" fill="#83b5d6"/>
<text x="198.70" y="169.60" font-size="7.4" font-weight="bold" text-anchor="start" fill="#111">Pezizomycotina</text>
<rect x="185.70" y="173.10" width="10.00" height="8.00" fill="#e9ad60"/>
<text x="198.70" y="178.40" font-size="7.4" font-weight="bold" text-anchor="start" fill="#111">Saccharomycotina</text>
<path fill="#4fae3a" d="M366.0 144.7h1.3v6.1h-1.3zM367.0 139.3h1.3v11.5h-1.3zM368.0 135.9h1.3v14.9h-1.3zM369.0 135.9h1.3v14.9h-1.3zM370.0 148.1h1.2v2.8h-1.2zM370.9 143.4h1.2v7.5h-1.2zM371.8 147.4h1.2v3.4h-1.2zM372.7 142.0h1.2v8.8h-1.2zM373.6 134.6h1.2v16.3h-1.2zM374.4 146.1h1.2v4.8h-1.2zM375.3 148.8h1.2v2.1h-1.2zM376.2 146.7h1.2v4.1h-1.2zM377.1 149.4h1.2v1.4h-1.2zM378.0 138.0h1.3v12.9h-1.3zM379.0 145.4h1.3v5.5h-1.3zM380.0 144.0h1.3v6.8h-1.3zM381.0 139.3h1.3v11.5h-1.3zM382.0 118.4h1.3v32.5h-1.3zM383.0 92.7h1.3v58.2h-1.3zM384.0 126.5h1.3v24.4h-1.3zM385.0 108.2h1.3v42.6h-1.3zM386.0 131.9h1.3v19.0h-1.3zM387.0 116.3h1.3v34.5h-1.3zM388.0 119.0h1.3v31.8h-1.3zM389.0 121.7h1.3v29.1h-1.3zM390.0 106.9h1.1v44.0h-1.1zM390.8 85.2h1.1v65.6h-1.1zM391.7 119.0h1.1v31.8h-1.1zM392.5 102.8h1.1v48.0h-1.1zM393.3 123.1h1.1v27.8h-1.1zM394.2 141.3h1.1v9.5h-1.1zM395.0 125.8h1.1v25.1h-1.1zM395.8 142.7h1.1v8.2h-1.1zM396.7 114.3h1.1v36.6h-1.1zM397.5 137.3h1.1v13.6h-1.1zM398.3 132.5h1.1v18.3h-1.1zM399.2 135.3h1.1v15.6h-1.1zM400.0 141.3h1.2v9.5h-1.2zM400.9 139.3h1.2v11.5h-1.2zM401.8 142.0h1.2v8.8h-1.2zM402.7 142.7h1.2v8.2h-1.2zM403.6 135.3h1.2v15.6h-1.2zM404.5 141.3h1.2v9.5h-1.2zM405.5 140.7h1.2v10.2h-1.2zM406.4 118.4h1.2v32.5h-1.2zM407.3 131.9h1.2v19.0h-1.2zM408.2 145.4h1.2v5.5h-1.2zM409.1 137.3h1.2v13.6h-1.2zM410.0 136.6h1.1v14.2h-1.1zM410.8 135.3h1.1v15.6h-1.1zM411.7 124.4h1.1v26.4h-1.1zM412.5 130.5h1.1v20.3h-1.1zM413.3 144.7h1.1v6.1h-1.1zM414.2 116.3h1.1v34.5h-1.1zM415.0 99.4h1.3v51.4h-1.3zM416.0 118.4h1.3v32.5h-1.3zM417.0 134.6h1.3v16.3h-1.3zM418.0 127.1h1.2v23.7h-1.2zM418.9 106.2h1.2v44.7h-1.2zM419.8 125.1h1.2v25.7h-1.2zM420.6 133.9h1.2v17.0h-1.2zM421.5 126.5h1.2v24.4h-1.2zM422.4 127.8h1.2v23.0h-1.2zM423.2 131.9h1.2v19.0h-1.2zM424.1 131.2h1.2v19.7h-1.2zM425.0 138.0h1.2v12.9h-1.2zM425.9 144.0h1.2v6.8h-1.2zM426.8 131.2h1.2v19.7h-1.2zM427.8 127.1h1.2v23.7h-1.2zM428.7 130.5h1.2v20.3h-1.2zM429.6 111.6h1.2v39.3h-1.2zM430.5 126.5h1.2v24.4h-1.2zM431.4 132.5h1.2v18.3h-1.2zM432.3 135.9h1.2v14.9h-1.2zM433.2 116.3h1.2v34.5h-1.2zM434.2 122.4h1.2v28.4h-1.2zM435.1 124.4h1.2v26.4h-1.2zM436.0 121.1h1.3v29.8h-1.3zM437.0 97.4h1.3v53.5h-1.3zM438.0 122.4h1.2v28.4h-1.2zM438.9 121.7h1.2v29.1h-1.2zM439.8 140.7h1.2v10.2h-1.2zM440.8 122.4h1.2v28.4h-1.2zM441.7 116.3h1.2v34.5h-1.2zM442.6 119.0h1.2v31.8h-1.2zM443.5 118.4h1.2v32.5h-1.2zM444.5 134.6h1.2v16.3h-1.2zM445.4 133.9h1.2v17.0h-1.2zM446.3 139.3h1.2v11.5h-1.2zM447.2 136.6h1.2v14.2h-1.2zM448.2 133.2h1.2v17.6h-1.2zM449.1 121.7h1.2v29.1h-1.2zM450.0 148.8h1.2v2.1h-1.2zM450.9 144.0h1.2v6.8h-1.2zM451.7 141.3h1.2v9.5h-1.2zM452.6 145.4h1.2v5.5h-1.2zM453.4 140.7h1.2v10.2h-1.2zM454.3 149.4h1.2v1.4h-1.2zM455.1 138.0h1.2v12.9h-1.2zM456.0 140.7h1.2v10.2h-1.2zM456.9 141.3h1.2v9.5h-1.2zM457.8 132.5h1.2v18.3h-1.2zM458.7 143.4h1.2v7.5h-1.2zM459.6 143.4h1.2v7.5h-1.2zM460.5 139.3h1.2v11.5h-1.2zM461.5 140.0h1.2v10.9h-1.2zM462.4 123.1h1.2v27.8h-1.2zM463.3 143.4h1.2v7.5h-1.2zM464.2 140.0h1.2v10.9h-1.2zM465.1 140.0h1.2v10.9h-1.2zM466.0 75.8h1.2v75.1h-1.2zM466.9 106.9h1.2v44.0h-1.2zM467.8 97.4h1.2v53.5h-1.2zM468.7 130.5h1.2v20.3h-1.2zM469.6 102.1h1.2v48.7h-1.2zM470.4 102.1h1.2v48.7h-1.2zM471.3 96.7h1.2v54.1h-1.2zM472.2 125.1h1.2v25.7h-1.2zM473.1 125.1h1.2v25.7h-1.2zM474.0 37.9h1.2v112.9h-1.2zM474.9 41.3h1.2v109.6h-1.2zM475.8 19.0h1.2v131.9h-1.2zM476.6 35.2h1.2v115.6h-1.2zM477.5 19.0h1.2v131.9h-1.2zM478.4 23.7h1.2v127.1h-1.2zM479.2 26.4h1.2v124.4h-1.2zM480.1 75.1h1.2v75.8h-1.2zM481.0 19.0h1.2v131.9h-1.2zM481.9 19.0h1.2v131.9h-1.2zM482.8 23.0h1.2v127.8h-1.2zM483.6 23.7h1.2v127.1h-1.2zM484.5 34.5h1.2v116.3h-1.2zM485.4 81.2h1.2v69.7h-1.2zM486.2 37.9h1.2v112.9h-1.2zM487.1 33.2h1.2v117.7h-1.2zM488.0 55.5h1.2v95.4h-1.2zM488.9 55.5h1.2v95.4h-1.2zM489.8 19.0h1.2v131.9h-1.2zM490.8 60.2h1.2v90.6h-1.2zM491.7 58.9h1.2v92.0h-1.2zM492.6 54.1h1.2v96.7h-1.2zM493.5 56.2h1.2v94.7h-1.2zM494.5 19.0h1.2v131.9h-1.2zM495.4 19.0h1.2v131.9h-1.2zM496.3 19.0h1.2v131.9h-1.2zM497.2 96.0h1.2v54.8h-1.2zM498.2 111.6h1.2v39.3h-1.2zM499.1 116.3h1.2v34.5h-1.2zM500.0 94.0h1.2v56.8h-1.2zM500.9 125.1h1.2v25.7h-1.2zM501.8 75.8h1.2v75.1h-1.2zM502.7 83.2h1.2v67.7h-1.2zM503.6 83.9h1.2v67.0h-1.2zM504.5 77.8h1.2v73.1h-1.2zM505.5 103.5h1.2v47.4h-1.2zM506.4 32.5h1.2v118.4h-1.2zM507.3 85.2h1.2v65.6h-1.2zM508.2 112.3h1.2v38.6h-1.2zM509.1 94.0h1.2v56.8h-1.2zM510.0 90.0h1.2v60.9h-1.2zM510.9 94.7h1.2v56.2h-1.2zM511.7 91.3h1.2v59.5h-1.2zM512.6 44.7h1.2v106.2h-1.2zM513.4 52.8h1.2v98.1h-1.2zM514.3 121.1h1.2v29.8h-1.2zM515.1 135.9h1.2v14.9h-1.2z" shape-rendering="crispEdges"/>
<path fill="#b3e08b" d="M366.0 99.4h1.3v45.3h-1.3zM366.0 19.0h1.3v4.8h-1.3zM367.0 123.8h1.3v15.6h-1.3zM367.0 49.4h1.3v4.1h-1.3zM368.0 16.3h1.3v0.7h-1.3zM369.0 17.6h1.3v1.4h-1.3zM370.9 17.0h1.2v1.4h-1.2zM370.9 15.6h1.2v0.7h-1.2zM371.8 15.6h1.2v0.7h-1.2zM372.7 17.0h1.2v0.7h-1.2zM373.6 17.0h1.2v0.7h-1.2zM374.4 16.3h1.2v0.7h-1.2zM375.3 17.6h1.2v0.7h-1.2zM375.3 16.3h1.2v0.7h-1.2zM376.2 19.0h1.2v6.8h-1.2zM378.0 88.6h1.3v25.7h-1.3zM379.0 87.3h1.3v21.0h-1.3zM379.0 15.6h1.3v1.4h-1.3zM380.0 79.1h1.3v26.4h-1.3zM380.0 27.1h1.3v10.2h-1.3zM381.0 88.6h1.3v24.4h-1.3zM381.0 17.0h1.3v0.7h-1.3zM382.0 64.9h1.3v53.5h-1.3zM383.0 60.2h1.3v32.5h-1.3zM383.0 35.2h1.3v16.3h-1.3zM384.0 64.3h1.3v62.2h-1.3zM385.0 61.6h1.3v46.7h-1.3zM385.0 25.7h1.3v17.6h-1.3zM385.0 17.6h1.3v0.7h-1.3zM385.0 15.6h1.3v0.7h-1.3zM386.0 60.2h1.3v71.7h-1.3zM386.0 19.0h1.3v22.4h-1.3zM387.0 56.8h1.3v59.5h-1.3zM388.0 61.6h1.3v57.5h-1.3zM388.0 33.9h1.3v4.1h-1.3zM389.0 54.1h1.3v67.7h-1.3zM389.0 19.0h1.3v26.4h-1.3zM389.0 15.6h1.3v0.7h-1.3zM390.0 53.5h1.1v53.5h-1.1zM390.0 17.0h1.1v0.7h-1.1zM390.8 49.4h1.1v35.9h-1.1zM390.8 17.6h1.1v1.4h-1.1zM391.7 78.5h1.1v40.6h-1.1zM391.7 44.0h1.1v27.8h-1.1zM391.7 19.0h1.1v5.5h-1.1zM392.5 52.1h1.1v50.8h-1.1zM392.5 32.5h1.1v5.5h-1.1zM392.5 18.3h1.1v1.4h-1.1zM392.5 16.3h1.1v1.4h-1.1zM393.3 88.6h1.1v34.5h-1.1zM393.3 36.6h1.1v3.4h-1.1zM394.2 46.7h1.1v94.7h-1.1zM394.2 23.7h1.1v17.6h-1.1zM394.2 17.6h1.1v0.7h-1.1zM395.0 42.0h1.1v83.9h-1.1zM395.0 19.0h1.1v10.2h-1.1zM395.8 44.0h1.1v98.7h-1.1zM395.8 15.6h1.1v0.7h-1.1zM396.7 45.3h1.1v69.0h-1.1zM396.7 18.3h1.1v0.7h-1.1zM396.7 15.6h1.1v0.7h-1.1zM397.5 42.0h1.1v95.4h-1.1zM397.5 19.0h1.1v1.4h-1.1zM398.3 36.6h1.1v96.0h-1.1zM398.3 19.0h1.1v14.2h-1.1zM398.3 17.6h1.1v0.7h-1.1zM398.3 16.3h1.1v0.7h-1.1zM399.2 45.3h1.1v90.0h-1.1zM399.2 20.3h1.1v13.6h-1.1zM399.2 16.3h1.1v0.7h-1.1zM400.0 35.9h1.2v105.5h-1.2zM400.0 19.0h1.2v5.5h-1.2zM400.9 35.9h1.2v103.5h-1.2zM400.9 19.0h1.2v5.5h-1.2zM400.9 17.0h1.2v0.7h-1.2zM401.8 34.5h1.2v107.5h-1.2zM401.8 18.3h1.2v0.7h-1.2zM402.7 37.9h1.2v104.8h-1.2zM403.6 41.3h1.2v94.0h-1.2zM403.6 17.0h1.2v1.4h-1.2zM404.5 59.5h1.2v81.8h-1.2zM404.5 31.1h1.2v14.9h-1.2zM405.5 36.6h1.2v104.2h-1.2zM405.5 25.1h1.2v4.8h-1.2zM405.5 17.0h1.2v0.7h-1.2zM406.4 32.5h1.2v85.9h-1.2zM407.3 34.5h1.2v97.4h-1.2zM408.2 32.5h1.2v112.9h-1.2zM409.1 31.8h1.2v105.5h-1.2zM409.1 17.0h1.2v0.7h-1.2zM409.1 15.6h1.2v0.7h-1.2zM410.0 94.0h1.1v42.6h-1.1zM410.0 18.3h1.1v0.7h-1.1zM410.8 102.1h1.1v33.2h-1.1zM410.8 21.7h1.1v17.6h-1.1zM411.7 97.4h1.1v27.1h-1.1zM412.5 102.8h1.1v27.8h-1.1zM412.5 17.6h1.1v0.7h-1.1zM413.3 103.5h1.1v41.3h-1.1zM413.3 37.9h1.1v10.2h-1.1zM414.2 100.1h1.1v16.3h-1.1zM416.0 115.0h1.3v3.4h-1.3zM416.0 19.0h1.3v5.5h-1.3zM417.0 112.9h1.3v21.7h-1.3zM421.5 18.3h1.2v0.7h-1.2zM424.1 19.0h1.2v7.5h-1.2zM424.1 17.0h1.2v0.7h-1.2zM425.0 29.1h1.2v7.5h-1.2zM425.0 16.3h1.2v0.7h-1.2zM425.9 17.0h1.2v0.7h-1.2zM426.8 18.3h1.2v0.7h-1.2zM427.8 19.0h1.2v20.3h-1.2zM430.5 19.0h1.2v2.8h-1.2zM431.4 17.6h1.2v0.7h-1.2zM432.3 16.3h1.2v0.7h-1.2zM433.2 17.6h1.2v1.4h-1.2zM434.2 25.1h1.2v1.4h-1.2zM434.2 18.3h1.2v0.7h-1.2zM435.1 24.4h1.2v17.6h-1.2zM435.1 15.6h1.2v0.7h-1.2zM436.0 104.8h1.3v16.3h-1.3zM436.0 44.0h1.3v5.5h-1.3zM438.0 105.5h1.2v17.0h-1.2zM438.0 17.6h1.2v0.7h-1.2zM438.9 112.3h1.2v9.5h-1.2zM438.9 37.9h1.2v14.2h-1.2zM439.8 106.2h1.2v34.5h-1.2zM439.8 21.7h1.2v4.1h-1.2zM439.8 18.3h1.2v0.7h-1.2zM440.8 102.8h1.2v19.7h-1.2zM441.7 102.8h1.2v13.6h-1.2zM441.7 31.8h1.2v6.1h-1.2zM442.6 106.9h1.2v12.2h-1.2zM443.5 112.9h1.2v5.5h-1.2zM443.5 19.0h1.2v12.2h-1.2zM443.5 16.3h1.2v0.7h-1.2zM444.5 109.6h1.2v25.1h-1.2zM444.5 27.1h1.2v14.9h-1.2zM445.4 108.2h1.2v25.7h-1.2zM446.3 110.2h1.2v29.1h-1.2zM446.3 16.3h1.2v0.7h-1.2zM447.2 111.6h1.2v25.1h-1.2zM447.2 15.6h1.2v0.7h-1.2zM448.2 106.9h1.2v26.4h-1.2zM448.2 37.2h1.2v11.5h-1.2zM449.1 112.9h1.2v8.8h-1.2zM450.0 29.1h1.2v11.5h-1.2zM451.7 18.3h1.2v0.7h-1.2zM451.7 15.6h1.2v0.7h-1.2zM452.6 19.0h1.2v3.4h-1.2zM452.6 17.0h1.2v0.7h-1.2zM453.4 17.0h1.2v0.7h-1.2zM454.3 17.6h1.2v0.7h-1.2zM455.1 17.6h1.2v1.4h-1.2zM456.0 18.3h1.2v8.2h-1.2zM456.9 17.6h1.2v0.7h-1.2zM457.8 24.4h1.2v6.1h-1.2zM459.6 16.3h1.2v0.7h-1.2zM461.5 18.3h1.2v0.7h-1.2zM461.5 17.0h1.2v0.7h-1.2zM462.4 15.6h1.2v0.7h-1.2zM463.3 17.6h1.2v0.7h-1.2zM463.3 15.6h1.2v0.7h-1.2zM466.0 18.3h1.2v23.0h-1.2zM466.9 96.7h1.2v10.2h-1.2zM467.8 83.2h1.2v14.2h-1.2zM467.8 55.5h1.2v8.8h-1.2zM467.8 19.0h1.2v4.8h-1.2zM467.8 17.6h1.2v0.7h-1.2zM468.7 81.8h1.2v48.7h-1.2zM468.7 33.9h1.2v15.6h-1.2zM468.7 18.3h1.2v0.7h-1.2zM469.6 82.5h1.2v19.7h-1.2zM469.6 19.0h1.2v4.1h-1.2zM469.6 17.6h1.2v0.7h-1.2zM470.4 85.9h1.2v16.3h-1.2zM471.3 83.2h1.2v13.6h-1.2zM471.3 19.0h1.2v8.8h-1.2zM471.3 17.6h1.2v0.7h-1.2zM472.2 80.5h1.2v44.7h-1.2zM473.1 84.6h1.2v40.6h-1.2zM473.1 17.6h1.2v8.2h-1.2zM474.0 19.0h1.2v6.1h-1.2zM474.9 16.3h1.2v0.7h-1.2zM476.6 16.3h1.2v0.7h-1.2zM477.5 18.3h1.2v0.7h-1.2zM478.4 15.6h1.2v1.4h-1.2zM480.1 30.5h1.2v6.1h-1.2zM480.1 16.3h1.2v1.4h-1.2zM481.0 17.0h1.2v0.7h-1.2zM481.9 18.3h1.2v0.7h-1.2zM482.8 17.0h1.2v0.7h-1.2zM483.6 17.0h1.2v0.7h-1.2zM484.5 26.4h1.2v8.2h-1.2zM485.4 19.0h1.2v21.0h-1.2zM485.4 17.0h1.2v0.7h-1.2zM485.4 15.6h1.2v0.7h-1.2zM486.2 16.3h1.2v0.7h-1.2zM487.1 17.0h1.2v1.4h-1.2zM488.0 25.7h1.2v12.2h-1.2zM488.0 18.3h1.2v0.7h-1.2zM488.9 17.0h1.2v0.7h-1.2zM489.8 15.6h1.2v0.7h-1.2zM490.8 39.3h1.2v19.0h-1.2zM491.7 36.6h1.2v4.8h-1.2zM493.5 18.3h1.2v0.7h-1.2zM494.5 17.6h1.2v0.7h-1.2zM495.4 15.6h1.2v0.7h-1.2zM496.3 17.0h1.2v1.4h-1.2zM497.2 24.4h1.2v12.9h-1.2zM497.2 15.6h1.2v0.7h-1.2zM498.2 17.0h1.2v0.7h-1.2zM499.1 53.5h1.2v2.1h-1.2zM500.0 71.7h1.2v22.4h-1.2zM500.0 46.7h1.2v9.5h-1.2zM500.9 75.8h1.2v49.4h-1.2zM500.9 19.0h1.2v8.2h-1.2zM501.8 73.7h1.2v2.1h-1.2zM501.8 19.0h1.2v1.4h-1.2zM502.7 79.8h1.2v3.4h-1.2zM502.7 31.8h1.2v4.1h-1.2zM502.7 16.3h1.2v0.7h-1.2zM503.6 74.4h1.2v9.5h-1.2zM503.6 19.0h1.2v10.2h-1.2zM504.5 70.4h1.2v7.5h-1.2zM505.5 70.4h1.2v33.2h-1.2zM505.5 52.1h1.2v14.2h-1.2zM505.5 17.0h1.2v0.7h-1.2zM505.5 15.6h1.2v0.7h-1.2zM506.4 16.3h1.2v0.7h-1.2zM507.3 79.1h1.2v6.1h-1.2zM507.3 52.8h1.2v12.9h-1.2zM508.2 79.1h1.2v33.2h-1.2zM508.2 16.3h1.2v0.7h-1.2zM509.1 71.0h1.2v23.0h-1.2zM511.7 46.0h1.2v7.5h-1.2zM511.7 17.6h1.2v0.7h-1.2zM512.6 15.6h1.2v1.4h-1.2zM513.4 15.6h1.2v0.7h-1.2z" shape-rendering="crispEdges"/>
<path fill="#a8d0e4" d="M366.0 77.1h1.3v22.4h-1.3zM366.0 23.7h1.3v13.6h-1.3zM367.0 75.8h1.3v19.7h-1.3zM367.0 19.0h1.3v6.1h-1.3zM372.7 18.3h1.2v0.7h-1.2zM377.1 17.6h1.2v0.7h-1.2zM377.1 15.6h1.2v0.7h-1.2zM378.0 68.3h1.3v20.3h-1.3zM379.0 58.2h1.3v29.1h-1.3zM379.0 19.0h1.3v16.3h-1.3zM380.0 60.9h1.3v18.3h-1.3zM380.0 37.2h1.3v14.2h-1.3zM381.0 65.6h1.3v23.0h-1.3zM381.0 19.0h1.3v4.8h-1.3zM381.0 17.6h1.3v0.7h-1.3zM382.0 56.8h1.3v8.2h-1.3zM383.0 51.4h1.3v8.8h-1.3zM383.0 17.0h1.3v0.7h-1.3zM384.0 50.8h1.3v13.6h-1.3zM384.0 18.3h1.3v0.7h-1.3zM385.0 58.9h1.3v2.8h-1.3zM386.0 18.3h1.3v0.7h-1.3zM386.0 17.0h1.3v0.7h-1.3zM387.0 18.3h1.3v21.0h-1.3zM387.0 16.3h1.3v0.7h-1.3zM388.0 19.0h1.3v6.1h-1.3zM390.8 19.0h1.1v7.5h-1.1zM393.3 18.3h1.1v0.7h-1.1zM393.3 16.3h1.1v1.4h-1.1zM395.8 16.3h1.1v0.7h-1.1zM396.7 16.3h1.1v1.4h-1.1zM397.5 17.0h1.1v0.7h-1.1zM398.3 18.3h1.1v0.7h-1.1zM399.2 17.6h1.1v0.7h-1.1zM403.6 15.6h1.2v0.7h-1.2zM404.5 19.0h1.2v12.2h-1.2zM406.4 16.3h1.2v0.7h-1.2zM408.2 18.3h1.2v0.7h-1.2zM408.2 16.3h1.2v0.7h-1.2zM410.0 17.6h1.1v0.7h-1.1zM410.0 15.6h1.1v0.7h-1.1zM410.8 17.6h1.1v0.7h-1.1zM411.7 19.0h1.1v10.9h-1.1zM411.7 16.3h1.1v0.7h-1.1zM412.5 18.3h1.1v0.7h-1.1zM413.3 16.3h1.1v0.7h-1.1zM414.2 37.9h1.1v8.8h-1.1zM415.0 19.0h1.3v10.2h-1.3zM415.0 16.3h1.3v0.7h-1.3zM417.0 17.0h1.3v0.7h-1.3zM418.0 117.7h1.2v9.5h-1.2zM418.9 19.0h1.2v0.7h-1.2zM419.8 117.7h1.2v7.5h-1.2zM419.8 19.0h1.2v3.4h-1.2zM419.8 17.6h1.2v0.7h-1.2zM420.6 122.4h1.2v11.5h-1.2zM420.6 17.0h1.2v0.7h-1.2zM421.5 113.6h1.2v12.9h-1.2zM422.4 119.0h1.2v8.8h-1.2zM422.4 17.6h1.2v0.7h-1.2zM423.2 114.3h1.2v17.6h-1.2zM424.1 115.0h1.2v16.3h-1.2zM424.1 17.6h1.2v0.7h-1.2zM425.0 17.6h1.2v0.7h-1.2zM425.9 17.6h1.2v0.7h-1.2zM426.8 27.8h1.2v8.8h-1.2zM426.8 17.6h1.2v0.7h-1.2zM430.5 18.3h1.2v0.7h-1.2zM433.2 19.0h1.2v1.4h-1.2zM434.2 26.4h1.2v17.6h-1.2zM434.2 17.6h1.2v0.7h-1.2zM435.1 19.0h1.2v5.5h-1.2zM435.1 17.0h1.2v0.7h-1.2zM436.0 60.9h1.3v20.3h-1.3zM436.0 31.8h1.3v12.2h-1.3zM436.0 18.3h1.3v0.7h-1.3zM437.0 44.0h1.3v37.9h-1.3zM437.0 19.7h1.3v18.3h-1.3zM437.0 15.6h1.3v1.4h-1.3zM438.0 50.8h1.2v2.8h-1.2zM438.0 16.3h1.2v0.7h-1.2zM440.8 32.5h1.2v27.1h-1.2zM440.8 17.6h1.2v1.4h-1.2zM441.7 50.8h1.2v1.4h-1.2zM442.6 21.7h1.2v10.2h-1.2zM443.5 48.7h1.2v7.5h-1.2zM444.5 42.0h1.2v16.3h-1.2zM445.4 46.0h1.2v4.8h-1.2zM446.3 46.7h1.2v4.1h-1.2zM446.3 18.3h1.2v0.7h-1.2zM447.2 54.8h1.2v0.7h-1.2zM447.2 27.1h1.2v8.2h-1.2zM448.2 48.7h1.2v7.5h-1.2zM448.2 18.3h1.2v0.7h-1.2zM448.2 16.3h1.2v0.7h-1.2zM449.1 47.4h1.2v10.9h-1.2zM449.1 19.0h1.2v2.8h-1.2zM450.0 121.7h1.2v27.1h-1.2zM450.0 19.0h1.2v2.8h-1.2zM450.9 124.4h1.2v19.7h-1.2zM450.9 19.0h1.2v10.2h-1.2zM451.7 117.7h1.2v23.7h-1.2zM452.6 124.4h1.2v21.0h-1.2zM452.6 17.6h1.2v0.7h-1.2zM453.4 119.0h1.2v21.7h-1.2zM453.4 19.0h1.2v14.9h-1.2zM454.3 123.1h1.2v26.4h-1.2zM454.3 16.3h1.2v1.4h-1.2zM455.1 119.7h1.2v18.3h-1.2zM455.1 25.1h1.2v10.2h-1.2zM455.1 19.0h1.2v1.4h-1.2zM456.0 47.4h1.2v75.1h-1.2zM456.9 46.0h1.2v67.7h-1.2zM457.8 46.7h1.2v69.7h-1.2zM458.7 37.9h1.2v82.5h-1.2zM458.7 17.0h1.2v1.4h-1.2zM458.7 15.6h1.2v0.7h-1.2zM459.6 41.3h1.2v82.5h-1.2zM460.5 76.4h1.2v39.3h-1.2zM461.5 45.3h1.2v75.8h-1.2zM461.5 19.0h1.2v6.8h-1.2zM462.4 23.7h1.2v98.1h-1.2zM463.3 46.7h1.2v77.8h-1.2zM464.2 42.0h1.2v84.6h-1.2zM465.1 48.0h1.2v78.5h-1.2zM465.1 18.3h1.2v0.7h-1.2zM466.0 60.2h1.2v15.6h-1.2zM466.0 41.3h1.2v0.7h-1.2zM466.9 61.6h1.2v21.7h-1.2zM467.8 64.3h1.2v19.0h-1.2zM467.8 18.3h1.2v0.7h-1.2zM468.7 58.2h1.2v23.7h-1.2zM468.7 16.3h1.2v0.7h-1.2zM469.6 67.7h1.2v14.9h-1.2zM469.6 23.0h1.2v28.4h-1.2zM470.4 68.3h1.2v17.6h-1.2zM470.4 57.5h1.2v6.1h-1.2zM471.3 58.2h1.2v25.1h-1.2zM472.2 54.1h1.2v26.4h-1.2zM472.2 18.3h1.2v0.7h-1.2zM472.2 16.3h1.2v0.7h-1.2zM473.1 62.2h1.2v22.4h-1.2zM473.1 45.3h1.2v12.9h-1.2zM473.1 15.6h1.2v1.4h-1.2zM474.9 17.6h1.2v0.7h-1.2zM475.8 16.3h1.2v0.7h-1.2zM477.5 17.6h1.2v0.7h-1.2zM478.4 18.3h1.2v5.5h-1.2zM483.6 17.6h1.2v0.7h-1.2zM485.4 46.0h1.2v12.2h-1.2zM487.1 19.0h1.2v7.5h-1.2zM488.9 45.3h1.2v10.2h-1.2zM488.9 19.0h1.2v4.8h-1.2zM488.9 17.6h1.2v0.7h-1.2zM489.8 16.3h1.2v0.7h-1.2zM490.8 15.6h1.2v0.7h-1.2zM491.7 41.3h1.2v16.3h-1.2zM491.7 17.6h1.2v0.7h-1.2zM491.7 16.3h1.2v0.7h-1.2zM493.5 27.8h1.2v14.9h-1.2zM493.5 16.3h1.2v0.7h-1.2zM497.2 37.2h1.2v13.6h-1.2zM497.2 19.0h1.2v5.5h-1.2zM497.2 17.6h1.2v0.7h-1.2zM498.2 19.0h1.2v20.3h-1.2zM499.1 16.3h1.2v0.7h-1.2zM500.0 64.9h1.2v6.8h-1.2zM500.0 15.6h1.2v0.7h-1.2zM500.9 69.7h1.2v6.1h-1.2zM501.8 69.7h1.2v4.1h-1.2zM501.8 39.3h1.2v8.2h-1.2zM501.8 17.6h1.2v0.7h-1.2zM502.7 62.2h1.2v17.6h-1.2zM503.6 62.9h1.2v11.5h-1.2zM503.6 35.9h1.2v10.2h-1.2zM504.5 44.7h1.2v25.7h-1.2zM504.5 18.3h1.2v0.7h-1.2zM506.4 18.3h1.2v10.9h-1.2zM507.3 65.6h1.2v13.6h-1.2zM507.3 18.3h1.2v0.7h-1.2zM508.2 65.6h1.2v13.6h-1.2zM508.2 24.4h1.2v36.6h-1.2zM508.2 17.6h1.2v0.7h-1.2zM509.1 44.7h1.2v6.1h-1.2zM509.1 17.6h1.2v0.7h-1.2zM510.9 15.6h1.2v0.7h-1.2zM511.7 36.6h1.2v4.8h-1.2zM512.6 17.6h1.2v0.7h-1.2zM513.4 17.6h1.2v0.7h-1.2zM514.3 54.8h1.2v11.5h-1.2zM514.3 16.3h1.2v0.7h-1.2zM515.1 44.0h1.2v12.2h-1.2zM515.1 18.3h1.2v3.4h-1.2z" shape-rendering="crispEdges"/>
<path fill="#cbf0c6" d="M366.0 49.4h1.3v27.8h-1.3zM367.0 53.5h1.3v22.4h-1.3zM369.0 19.0h1.3v2.1h-1.3zM370.9 19.0h1.2v4.8h-1.2zM378.0 50.8h1.3v17.6h-1.3zM378.0 38.6h1.3v4.1h-1.3zM380.0 51.4h1.3v9.5h-1.3zM381.0 23.7h1.3v17.0h-1.3zM384.0 35.2h1.3v15.6h-1.3zM384.0 19.0h1.3v10.9h-1.3zM385.0 43.3h1.3v8.8h-1.3zM392.5 19.7h1.1v12.9h-1.1zM393.3 19.0h1.1v4.8h-1.1zM395.8 27.8h1.1v8.2h-1.1zM395.8 19.0h1.1v3.4h-1.1zM397.5 20.3h1.1v16.3h-1.1zM403.6 19.0h1.2v4.8h-1.2zM410.0 35.2h1.1v12.2h-1.1zM411.7 29.8h1.1v17.6h-1.1zM413.3 19.0h1.1v11.5h-1.1zM422.4 19.0h1.2v2.8h-1.2zM423.2 19.0h1.2v4.1h-1.2zM425.0 19.0h1.2v10.2h-1.2zM425.9 29.1h1.2v10.9h-1.2zM426.8 19.0h1.2v8.8h-1.2zM429.6 50.8h1.2v14.2h-1.2zM429.6 19.0h1.2v8.2h-1.2zM434.2 19.0h1.2v6.1h-1.2zM440.8 19.0h1.2v8.8h-1.2zM441.7 29.1h1.2v2.8h-1.2zM443.5 32.5h1.2v16.3h-1.2zM445.4 19.0h1.2v27.1h-1.2zM446.3 19.0h1.2v21.0h-1.2zM447.2 19.0h1.2v8.2h-1.2zM448.2 19.7h1.2v17.6h-1.2zM449.1 21.7h1.2v17.0h-1.2zM450.0 40.6h1.2v81.2h-1.2zM450.0 21.7h1.2v7.5h-1.2zM450.9 44.0h1.2v80.5h-1.2zM451.7 43.3h1.2v74.4h-1.2zM452.6 35.2h1.2v89.3h-1.2zM452.6 22.4h1.2v6.1h-1.2zM453.4 43.3h1.2v75.8h-1.2zM454.3 33.2h1.2v90.0h-1.2zM455.1 35.2h1.2v84.6h-1.2zM457.8 30.5h1.2v8.8h-1.2zM460.5 19.0h1.2v16.3h-1.2zM461.5 25.7h1.2v10.2h-1.2zM466.9 48.0h1.2v4.8h-1.2zM469.6 51.4h1.2v16.3h-1.2zM473.1 58.2h1.2v4.1h-1.2zM473.1 25.7h1.2v19.7h-1.2zM474.9 26.4h1.2v6.8h-1.2zM480.1 22.4h1.2v8.2h-1.2zM482.8 19.0h1.2v4.1h-1.2zM486.2 32.5h1.2v5.5h-1.2zM493.5 42.6h1.2v4.8h-1.2zM493.5 19.0h1.2v8.8h-1.2zM500.0 19.0h1.2v27.8h-1.2zM502.7 49.4h1.2v4.8h-1.2zM502.7 25.7h1.2v6.1h-1.2zM503.6 29.1h1.2v6.8h-1.2zM506.4 29.1h1.2v3.4h-1.2zM509.1 19.0h1.2v15.6h-1.2zM510.0 39.9h1.2v18.3h-1.2zM510.9 39.3h1.2v17.6h-1.2zM510.9 19.0h1.2v8.8h-1.2zM511.7 62.2h1.2v17.6h-1.2zM513.4 37.2h1.2v15.6h-1.2zM514.3 40.6h1.2v14.2h-1.2zM514.3 19.0h1.2v10.9h-1.2zM515.1 21.7h1.2v6.8h-1.2z" shape-rendering="crispEdges"/>
<path fill="#f5c6e0" d="M366.0 37.2h1.3v12.2h-1.3zM366.0 17.0h1.3v0.7h-1.3zM367.0 37.9h1.3v6.8h-1.3zM367.0 15.6h1.3v0.7h-1.3zM373.6 18.3h1.2v0.7h-1.2zM374.4 15.6h1.2v0.7h-1.2zM375.3 15.6h1.2v0.7h-1.2zM377.1 16.3h1.2v0.7h-1.2zM378.0 16.3h1.3v0.7h-1.3zM379.0 17.6h1.3v0.7h-1.3zM380.0 17.6h1.3v0.7h-1.3zM381.0 52.1h1.3v13.6h-1.3zM382.0 43.3h1.3v6.8h-1.3zM382.0 16.3h1.3v1.4h-1.3zM384.0 15.6h1.3v0.7h-1.3zM386.0 17.6h1.3v0.7h-1.3zM388.0 15.6h1.3v1.4h-1.3zM390.0 20.3h1.1v12.2h-1.1zM390.8 15.6h1.1v0.7h-1.1zM393.3 39.9h1.1v48.7h-1.1zM393.3 23.7h1.1v12.9h-1.1zM394.2 19.0h1.1v4.8h-1.1zM395.0 16.3h1.1v0.7h-1.1zM395.8 18.3h1.1v0.7h-1.1zM396.7 19.0h1.1v10.9h-1.1zM396.7 17.6h1.1v0.7h-1.1zM401.8 19.0h1.2v12.9h-1.2zM401.8 17.6h1.2v0.7h-1.2zM401.8 16.3h1.2v0.7h-1.2zM402.7 17.0h1.2v0.7h-1.2zM404.5 46.0h1.2v13.6h-1.2zM404.5 18.3h1.2v0.7h-1.2zM405.5 18.3h1.2v0.7h-1.2zM405.5 16.3h1.2v0.7h-1.2zM406.4 22.4h1.2v8.2h-1.2zM407.3 19.0h1.2v6.1h-1.2zM408.2 19.0h1.2v3.4h-1.2zM408.2 17.0h1.2v1.4h-1.2zM409.1 17.6h1.2v0.7h-1.2zM410.0 19.0h1.1v16.3h-1.1zM410.0 16.3h1.1v0.7h-1.1zM410.8 39.3h1.1v4.8h-1.1zM410.8 18.3h1.1v0.7h-1.1zM411.7 17.0h1.1v0.7h-1.1zM414.2 17.0h1.1v1.4h-1.1zM416.0 24.4h1.3v6.1h-1.3zM416.0 16.3h1.3v0.7h-1.3zM418.0 17.0h1.2v0.7h-1.2zM418.0 15.6h1.2v0.7h-1.2zM418.9 19.7h1.2v4.8h-1.2zM421.5 23.0h1.2v31.1h-1.2zM421.5 16.3h1.2v0.7h-1.2zM423.2 18.3h1.2v0.7h-1.2zM423.2 15.6h1.2v0.7h-1.2zM425.0 18.3h1.2v0.7h-1.2zM425.0 17.0h1.2v0.7h-1.2zM425.9 24.4h1.2v4.8h-1.2zM428.7 21.7h1.2v14.2h-1.2zM428.7 15.6h1.2v0.7h-1.2zM431.4 19.0h1.2v12.9h-1.2zM432.3 15.6h1.2v0.7h-1.2zM436.0 49.4h1.3v11.5h-1.3zM436.0 27.8h1.3v4.1h-1.3zM436.0 15.6h1.3v1.4h-1.3zM437.0 19.0h1.3v0.7h-1.3zM438.0 15.6h1.2v0.7h-1.2zM440.8 17.0h1.2v0.7h-1.2zM441.7 19.0h1.2v10.2h-1.2zM441.7 16.3h1.2v0.7h-1.2zM444.5 18.3h1.2v8.8h-1.2zM446.3 39.9h1.2v6.8h-1.2zM446.3 17.0h1.2v0.7h-1.2zM447.2 48.0h1.2v6.8h-1.2zM447.2 17.6h1.2v0.7h-1.2zM449.1 17.6h1.2v0.7h-1.2zM450.0 15.6h1.2v0.7h-1.2zM450.9 35.2h1.2v8.8h-1.2zM451.7 17.6h1.2v0.7h-1.2zM451.7 16.3h1.2v0.7h-1.2zM452.6 15.6h1.2v0.7h-1.2zM453.4 16.3h1.2v0.7h-1.2zM454.3 18.3h1.2v2.8h-1.2zM456.0 26.4h1.2v13.6h-1.2zM456.0 15.6h1.2v0.7h-1.2zM457.8 39.3h1.2v7.5h-1.2zM457.8 15.6h1.2v0.7h-1.2zM459.6 27.8h1.2v13.6h-1.2zM463.3 17.0h1.2v0.7h-1.2zM464.2 17.6h1.2v0.7h-1.2zM466.9 19.0h1.2v20.3h-1.2zM467.8 32.5h1.2v6.8h-1.2zM467.8 17.0h1.2v0.7h-1.2zM467.8 15.6h1.2v0.7h-1.2zM468.7 49.4h1.2v8.8h-1.2zM468.7 19.0h1.2v14.9h-1.2zM468.7 15.6h1.2v0.7h-1.2zM470.4 19.0h1.2v25.7h-1.2zM470.4 17.0h1.2v0.7h-1.2zM471.3 16.3h1.2v0.7h-1.2zM472.2 19.0h1.2v2.1h-1.2zM474.0 25.1h1.2v12.9h-1.2zM474.0 18.3h1.2v0.7h-1.2zM476.6 18.3h1.2v0.7h-1.2zM476.6 17.0h1.2v0.7h-1.2zM477.5 16.3h1.2v0.7h-1.2zM479.2 17.0h1.2v0.7h-1.2zM480.1 47.4h1.2v13.6h-1.2zM481.0 17.6h1.2v0.7h-1.2zM482.8 18.3h1.2v0.7h-1.2zM482.8 16.3h1.2v0.7h-1.2zM485.4 58.2h1.2v23.0h-1.2zM486.2 19.0h1.2v13.6h-1.2zM488.0 37.9h1.2v17.0h-1.2zM489.8 17.6h1.2v0.7h-1.2zM490.8 17.6h1.2v0.7h-1.2zM491.7 19.0h1.2v4.1h-1.2zM492.6 15.6h1.2v0.7h-1.2zM493.5 17.0h1.2v0.7h-1.2zM495.4 16.3h1.2v0.7h-1.2zM496.3 18.3h1.2v0.7h-1.2zM496.3 15.6h1.2v0.7h-1.2zM497.2 50.8h1.2v8.8h-1.2zM497.2 18.3h1.2v0.7h-1.2zM497.2 16.3h1.2v0.7h-1.2zM499.1 17.0h1.2v0.7h-1.2zM499.1 15.6h1.2v0.7h-1.2zM500.0 56.2h1.2v8.8h-1.2zM500.9 27.1h1.2v34.5h-1.2zM501.8 20.3h1.2v8.8h-1.2zM502.7 54.1h1.2v8.2h-1.2zM502.7 35.9h1.2v13.6h-1.2zM505.5 66.3h1.2v4.1h-1.2zM506.4 17.6h1.2v0.7h-1.2zM507.3 19.0h1.2v10.2h-1.2zM509.1 50.8h1.2v16.3h-1.2zM510.0 15.6h1.2v0.7h-1.2zM510.9 27.8h1.2v11.5h-1.2zM510.9 16.3h1.2v1.4h-1.2zM511.7 41.3h1.2v4.8h-1.2zM511.7 21.7h1.2v14.9h-1.2zM511.7 17.0h1.2v0.7h-1.2zM511.7 15.6h1.2v0.7h-1.2zM514.3 18.3h1.2v0.7h-1.2zM514.3 15.6h1.2v0.7h-1.2zM515.1 56.2h1.2v15.6h-1.2zM515.1 15.6h1.2v0.7h-1.2z" shape-rendering="crispEdges"/>
<path fill="#f4f7b3" d="M366.0 18.3h1.3v0.7h-1.3zM366.0 15.6h1.3v0.7h-1.3zM370.0 18.3h1.2v0.7h-1.2zM370.9 18.3h1.2v0.7h-1.2zM371.8 16.3h1.2v0.7h-1.2zM373.6 17.6h1.2v0.7h-1.2zM373.6 15.6h1.2v1.4h-1.2zM374.4 18.3h1.2v0.7h-1.2zM377.1 17.0h1.2v0.7h-1.2zM378.0 18.3h1.3v0.7h-1.3zM382.0 18.3h1.3v0.7h-1.3zM385.0 18.3h1.3v0.7h-1.3zM388.0 18.3h1.3v0.7h-1.3zM391.7 17.0h1.1v0.7h-1.1zM393.3 17.6h1.1v0.7h-1.1zM398.3 17.0h1.1v0.7h-1.1zM399.2 15.6h1.1v0.7h-1.1zM401.8 17.0h1.2v0.7h-1.2zM403.6 18.3h1.2v0.7h-1.2zM405.5 17.6h1.2v0.7h-1.2zM410.8 16.3h1.1v0.7h-1.1zM412.5 15.6h1.1v1.4h-1.1zM414.2 18.3h1.1v0.7h-1.1zM417.0 17.6h1.3v0.7h-1.3zM419.8 18.3h1.2v0.7h-1.2zM419.8 17.0h1.2v0.7h-1.2zM420.6 18.3h1.2v0.7h-1.2zM422.4 16.3h1.2v0.7h-1.2zM425.9 15.6h1.2v0.7h-1.2zM427.8 18.3h1.2v0.7h-1.2zM428.7 17.0h1.2v0.7h-1.2zM429.6 18.3h1.2v0.7h-1.2zM430.5 17.0h1.2v1.4h-1.2zM431.4 16.3h1.2v0.7h-1.2zM432.3 17.0h1.2v0.7h-1.2zM436.0 17.6h1.3v0.7h-1.3zM438.0 17.0h1.2v0.7h-1.2zM439.8 17.0h1.2v0.7h-1.2zM442.6 16.3h1.2v0.7h-1.2zM443.5 17.0h1.2v0.7h-1.2zM446.3 17.6h1.2v0.7h-1.2zM447.2 18.3h1.2v0.7h-1.2zM448.2 17.0h1.2v0.7h-1.2zM448.2 15.6h1.2v0.7h-1.2zM449.1 15.6h1.2v0.7h-1.2zM450.0 18.3h1.2v0.7h-1.2zM452.6 16.3h1.2v0.7h-1.2zM455.1 16.3h1.2v0.7h-1.2zM456.9 17.0h1.2v0.7h-1.2zM456.9 15.6h1.2v0.7h-1.2zM458.7 16.3h1.2v0.7h-1.2zM459.6 17.6h1.2v1.4h-1.2zM460.5 18.3h1.2v0.7h-1.2zM460.5 17.0h1.2v0.7h-1.2zM461.5 17.6h1.2v0.7h-1.2zM462.4 17.0h1.2v0.7h-1.2zM464.2 16.3h1.2v0.7h-1.2zM466.0 15.6h1.2v0.7h-1.2zM466.9 17.6h1.2v0.7h-1.2zM470.4 17.6h1.2v0.7h-1.2zM472.2 17.6h1.2v0.7h-1.2zM474.0 17.0h1.2v0.7h-1.2zM478.4 17.6h1.2v0.7h-1.2zM481.9 15.6h1.2v0.7h-1.2zM482.8 15.6h1.2v0.7h-1.2zM484.5 17.6h1.2v0.7h-1.2zM485.4 17.6h1.2v0.7h-1.2zM490.8 18.3h1.2v0.7h-1.2zM491.7 15.6h1.2v0.7h-1.2zM495.4 17.6h1.2v0.7h-1.2zM497.2 17.0h1.2v0.7h-1.2zM499.1 18.3h1.2v0.7h-1.2zM500.9 18.3h1.2v0.7h-1.2zM500.9 16.3h1.2v0.7h-1.2zM503.6 17.0h1.2v0.7h-1.2zM504.5 17.6h1.2v0.7h-1.2zM504.5 15.6h1.2v0.7h-1.2zM506.4 15.6h1.2v0.7h-1.2zM509.1 18.3h1.2v0.7h-1.2zM512.6 18.3h1.2v0.7h-1.2zM512.6 17.0h1.2v0.7h-1.2zM513.4 18.3h1.2v0.7h-1.2z" shape-rendering="crispEdges"/>
<path fill="#8fdcc6" d="M366.0 17.6h1.3v0.7h-1.3zM368.0 17.0h1.3v2.1h-1.3zM368.0 15.6h1.3v0.7h-1.3zM369.0 17.0h1.3v0.7h-1.3zM370.0 15.6h1.2v2.1h-1.2zM370.9 16.3h1.2v0.7h-1.2zM371.8 17.6h1.2v0.7h-1.2zM372.7 15.6h1.2v1.4h-1.2zM376.2 18.3h1.2v0.7h-1.2zM376.2 15.6h1.2v0.7h-1.2zM377.1 18.3h1.2v0.7h-1.2zM378.0 17.0h1.3v1.4h-1.3zM379.0 18.3h1.3v0.7h-1.3zM379.0 17.0h1.3v0.7h-1.3zM380.0 18.3h1.3v0.7h-1.3zM380.0 17.0h1.3v0.7h-1.3zM380.0 15.6h1.3v0.7h-1.3zM382.0 17.6h1.3v0.7h-1.3zM383.0 18.3h1.3v0.7h-1.3zM383.0 15.6h1.3v0.7h-1.3zM384.0 17.6h1.3v0.7h-1.3zM385.0 16.3h1.3v0.7h-1.3zM386.0 15.6h1.3v0.7h-1.3zM387.0 17.0h1.3v0.7h-1.3zM390.0 17.6h1.1v0.7h-1.1zM390.0 16.3h1.1v0.7h-1.1zM391.7 18.3h1.1v0.7h-1.1zM391.7 15.6h1.1v1.4h-1.1zM392.5 17.6h1.1v0.7h-1.1zM394.2 16.3h1.1v1.4h-1.1zM395.0 17.0h1.1v0.7h-1.1zM395.0 15.6h1.1v0.7h-1.1zM395.8 17.0h1.1v1.4h-1.1zM400.0 17.0h1.2v2.1h-1.2zM400.9 15.6h1.2v0.7h-1.2zM403.6 16.3h1.2v0.7h-1.2zM404.5 16.3h1.2v0.7h-1.2zM407.3 15.6h1.2v1.4h-1.2zM410.0 17.0h1.1v0.7h-1.1zM413.3 18.3h1.1v0.7h-1.1zM413.3 17.0h1.1v0.7h-1.1zM413.3 15.6h1.1v0.7h-1.1zM414.2 15.6h1.1v0.7h-1.1zM415.0 17.6h1.3v0.7h-1.3zM415.0 15.6h1.3v0.7h-1.3zM416.0 17.0h1.3v0.7h-1.3zM418.9 16.3h1.2v0.7h-1.2zM420.6 17.6h1.2v0.7h-1.2zM421.5 17.0h1.2v0.7h-1.2zM422.4 18.3h1.2v0.7h-1.2zM422.4 17.0h1.2v0.7h-1.2zM422.4 15.6h1.2v0.7h-1.2zM423.2 16.3h1.2v0.7h-1.2zM424.1 15.6h1.2v0.7h-1.2zM425.0 15.6h1.2v0.7h-1.2zM425.9 18.3h1.2v0.7h-1.2zM426.8 15.6h1.2v0.7h-1.2zM428.7 17.6h1.2v0.7h-1.2zM430.5 15.6h1.2v0.7h-1.2zM431.4 17.0h1.2v0.7h-1.2zM432.3 17.6h1.2v1.4h-1.2zM433.2 16.3h1.2v1.4h-1.2zM434.2 16.3h1.2v0.7h-1.2zM435.1 17.6h1.2v0.7h-1.2zM436.0 17.0h1.3v0.7h-1.3zM437.0 17.6h1.3v0.7h-1.3zM438.9 17.6h1.2v0.7h-1.2zM439.8 17.6h1.2v0.7h-1.2zM440.8 16.3h1.2v0.7h-1.2zM442.6 17.0h1.2v2.1h-1.2zM443.5 18.3h1.2v0.7h-1.2zM444.5 16.3h1.2v1.4h-1.2zM445.4 16.3h1.2v0.7h-1.2zM448.2 17.6h1.2v0.7h-1.2zM449.1 17.0h1.2v0.7h-1.2zM450.9 18.3h1.2v0.7h-1.2zM450.9 17.0h1.2v0.7h-1.2zM451.7 17.0h1.2v0.7h-1.2zM452.6 18.3h1.2v0.7h-1.2zM453.4 17.6h1.2v0.7h-1.2zM454.3 15.6h1.2v0.7h-1.2zM455.1 17.0h1.2v0.7h-1.2zM456.0 17.6h1.2v0.7h-1.2zM457.8 17.6h1.2v1.4h-1.2zM457.8 16.3h1.2v0.7h-1.2zM460.5 17.6h1.2v0.7h-1.2zM460.5 15.6h1.2v1.4h-1.2zM462.4 18.3h1.2v0.7h-1.2zM463.3 16.3h1.2v0.7h-1.2zM464.2 17.0h1.2v0.7h-1.2zM464.2 15.6h1.2v0.7h-1.2zM465.1 17.6h1.2v0.7h-1.2zM466.0 16.3h1.2v1.4h-1.2zM466.9 18.3h1.2v0.7h-1.2zM468.7 17.6h1.2v0.7h-1.2zM469.6 16.3h1.2v0.7h-1.2zM470.4 18.3h1.2v0.7h-1.2zM470.4 16.3h1.2v0.7h-1.2zM471.3 18.3h1.2v0.7h-1.2zM472.2 17.0h1.2v0.7h-1.2zM472.2 15.6h1.2v0.7h-1.2zM473.1 17.0h1.2v0.7h-1.2zM474.0 17.6h1.2v0.7h-1.2zM474.0 15.6h1.2v0.7h-1.2zM475.8 17.0h1.2v1.4h-1.2zM479.2 17.6h1.2v0.7h-1.2zM479.2 15.6h1.2v0.7h-1.2zM480.1 17.6h1.2v0.7h-1.2zM481.0 18.3h1.2v0.7h-1.2zM481.9 16.3h1.2v2.1h-1.2zM482.8 17.6h1.2v0.7h-1.2zM483.6 18.3h1.2v0.7h-1.2zM484.5 17.0h1.2v0.7h-1.2zM485.4 16.3h1.2v0.7h-1.2zM486.2 17.0h1.2v0.7h-1.2zM486.2 15.6h1.2v0.7h-1.2zM487.1 18.3h1.2v0.7h-1.2zM487.1 15.6h1.2v0.7h-1.2zM488.9 15.6h1.2v0.7h-1.2zM489.8 17.0h1.2v0.7h-1.2zM490.8 17.0h1.2v0.7h-1.2zM491.7 17.0h1.2v0.7h-1.2zM492.6 18.3h1.2v0.7h-1.2zM492.6 16.3h1.2v0.7h-1.2zM493.5 17.6h1.2v0.7h-1.2zM493.5 15.6h1.2v0.7h-1.2zM494.5 18.3h1.2v0.7h-1.2zM494.5 15.6h1.2v0.7h-1.2zM495.4 18.3h1.2v0.7h-1.2zM498.2 16.3h1.2v0.7h-1.2zM500.0 17.0h1.2v0.7h-1.2zM500.9 17.6h1.2v0.7h-1.2zM501.8 16.3h1.2v0.7h-1.2zM502.7 17.0h1.2v0.7h-1.2zM503.6 17.6h1.2v0.7h-1.2zM504.5 17.0h1.2v0.7h-1.2zM505.5 18.3h1.2v0.7h-1.2zM507.3 17.0h1.2v0.7h-1.2zM509.1 17.0h1.2v0.7h-1.2zM510.9 18.3h1.2v0.7h-1.2zM511.7 16.3h1.2v0.7h-1.2zM514.3 17.0h1.2v1.4h-1.2zM515.1 16.3h1.2v1.4h-1.2z" shape-rendering="crispEdges"/>
<path fill="#bcb8dc" d="M366.0 16.3h1.3v0.7h-1.3zM367.0 16.3h1.3v0.7h-1.3zM369.0 15.6h1.3v0.7h-1.3zM371.8 18.3h1.2v0.7h-1.2zM372.7 17.6h1.2v0.7h-1.2zM375.3 17.0h1.2v0.7h-1.2zM376.2 17.6h1.2v0.7h-1.2zM381.0 16.3h1.3v0.7h-1.3zM382.0 15.6h1.3v0.7h-1.3zM383.0 17.6h1.3v0.7h-1.3zM383.0 16.3h1.3v0.7h-1.3zM387.0 17.6h1.3v0.7h-1.3zM389.0 16.3h1.3v1.4h-1.3zM390.8 17.0h1.1v0.7h-1.1zM391.7 17.6h1.1v0.7h-1.1zM397.5 15.6h1.1v1.4h-1.1zM399.2 18.3h1.1v0.7h-1.1zM400.0 15.6h1.2v0.7h-1.2zM402.7 17.6h1.2v0.7h-1.2zM402.7 16.3h1.2v0.7h-1.2zM404.5 17.6h1.2v0.7h-1.2zM405.5 15.6h1.2v0.7h-1.2zM406.4 17.6h1.2v0.7h-1.2zM406.4 15.6h1.2v0.7h-1.2zM409.1 16.3h1.2v0.7h-1.2zM410.8 17.0h1.1v0.7h-1.1zM411.7 17.6h1.1v0.7h-1.1zM413.3 17.6h1.1v0.7h-1.1zM416.0 17.6h1.3v1.4h-1.3zM416.0 15.6h1.3v0.7h-1.3zM418.0 16.3h1.2v0.7h-1.2zM418.9 17.0h1.2v0.7h-1.2zM419.8 16.3h1.2v0.7h-1.2zM420.6 16.3h1.2v0.7h-1.2zM423.2 17.0h1.2v0.7h-1.2zM424.1 18.3h1.2v0.7h-1.2zM427.8 17.6h1.2v0.7h-1.2zM427.8 16.3h1.2v0.7h-1.2zM431.4 18.3h1.2v0.7h-1.2zM434.2 17.0h1.2v0.7h-1.2zM437.0 18.3h1.3v0.7h-1.3zM438.0 18.3h1.2v0.7h-1.2zM438.9 15.6h1.2v0.7h-1.2zM439.8 16.3h1.2v0.7h-1.2zM441.7 18.3h1.2v0.7h-1.2zM441.7 17.0h1.2v0.7h-1.2zM443.5 15.6h1.2v0.7h-1.2zM445.4 17.0h1.2v1.4h-1.2zM450.0 17.0h1.2v0.7h-1.2zM450.9 17.6h1.2v0.7h-1.2zM453.4 18.3h1.2v0.7h-1.2zM453.4 15.6h1.2v0.7h-1.2zM457.8 17.0h1.2v0.7h-1.2zM458.7 18.3h1.2v0.7h-1.2zM459.6 15.6h1.2v0.7h-1.2zM462.4 17.6h1.2v0.7h-1.2zM462.4 16.3h1.2v0.7h-1.2zM465.1 16.3h1.2v0.7h-1.2zM466.0 17.6h1.2v0.7h-1.2zM466.9 16.3h1.2v0.7h-1.2zM471.3 15.6h1.2v0.7h-1.2zM474.0 16.3h1.2v0.7h-1.2zM474.9 17.0h1.2v0.7h-1.2zM477.5 17.0h1.2v0.7h-1.2zM477.5 15.6h1.2v0.7h-1.2zM478.4 17.0h1.2v0.7h-1.2zM486.2 18.3h1.2v0.7h-1.2zM487.1 16.3h1.2v0.7h-1.2zM488.0 16.3h1.2v2.1h-1.2zM491.7 18.3h1.2v0.7h-1.2zM494.5 17.0h1.2v0.7h-1.2zM495.4 17.0h1.2v0.7h-1.2zM500.0 17.6h1.2v1.4h-1.2zM501.8 18.3h1.2v0.7h-1.2zM503.6 15.6h1.2v1.4h-1.2zM508.2 15.6h1.2v0.7h-1.2zM510.0 18.3h1.2v0.7h-1.2zM510.9 17.6h1.2v0.7h-1.2z" shape-rendering="crispEdges"/>
<path fill="#d9d9d9" d="M367.0 95.4h1.3v28.4h-1.3zM368.0 19.0h1.3v0.7h-1.3zM378.0 19.0h1.3v14.9h-1.3zM380.0 19.0h1.3v3.4h-1.3zM382.0 50.1h1.3v6.8h-1.3zM382.0 19.0h1.3v13.6h-1.3zM383.0 19.0h1.3v6.1h-1.3zM390.0 32.5h1.1v11.5h-1.1zM391.7 71.7h1.1v6.8h-1.1zM395.0 29.1h1.1v12.9h-1.1zM395.8 35.9h1.1v8.2h-1.1zM396.7 29.8h1.1v15.6h-1.1zM397.5 36.6h1.1v5.5h-1.1zM398.3 33.2h1.1v3.4h-1.1zM399.2 33.9h1.1v11.5h-1.1zM399.2 19.0h1.1v1.4h-1.1zM400.0 24.4h1.2v11.5h-1.2zM400.9 24.4h1.2v11.5h-1.2zM401.8 31.8h1.2v2.8h-1.2zM402.7 19.0h1.2v19.0h-1.2zM403.6 23.7h1.2v17.6h-1.2zM405.5 29.8h1.2v6.8h-1.2zM405.5 19.0h1.2v6.1h-1.2zM406.4 30.5h1.2v2.1h-1.2zM407.3 25.1h1.2v9.5h-1.2zM408.2 22.4h1.2v10.2h-1.2zM409.1 27.1h1.2v4.8h-1.2zM410.8 19.0h1.1v2.8h-1.1zM412.5 19.0h1.1v31.8h-1.1zM414.2 19.0h1.1v19.0h-1.1zM415.0 29.1h1.3v57.5h-1.3zM416.0 30.5h1.3v54.8h-1.3zM417.0 31.8h1.3v55.5h-1.3zM418.0 19.0h1.2v87.3h-1.2zM418.9 24.4h1.2v81.8h-1.2zM419.8 77.8h1.2v35.9h-1.2zM419.8 22.4h1.2v24.4h-1.2zM420.6 50.1h1.2v56.8h-1.2zM421.5 54.1h1.2v58.9h-1.2zM421.5 19.0h1.2v4.1h-1.2zM422.4 21.7h1.2v90.0h-1.2zM423.2 23.0h1.2v91.3h-1.2zM424.1 26.4h1.2v79.8h-1.2zM430.5 21.7h1.2v8.2h-1.2zM432.3 19.0h1.2v22.4h-1.2zM438.0 19.0h1.2v24.4h-1.2zM439.8 19.0h1.2v2.8h-1.2zM443.5 31.1h1.2v1.4h-1.2zM453.4 33.9h1.2v9.5h-1.2zM454.3 21.0h1.2v12.2h-1.2zM456.0 39.9h1.2v7.5h-1.2zM456.9 32.5h1.2v13.6h-1.2zM458.7 19.0h1.2v7.5h-1.2zM459.6 19.0h1.2v8.8h-1.2zM461.5 35.9h1.2v9.5h-1.2zM462.4 19.0h1.2v4.8h-1.2zM463.3 25.7h1.2v4.1h-1.2zM464.2 19.0h1.2v23.0h-1.2zM466.9 83.2h1.2v13.6h-1.2zM466.9 52.8h1.2v8.8h-1.2zM470.4 63.6h1.2v4.8h-1.2zM470.4 44.7h1.2v12.9h-1.2zM471.3 27.8h1.2v25.7h-1.2zM474.9 19.0h1.2v7.5h-1.2zM476.6 27.1h1.2v8.2h-1.2zM480.1 36.6h1.2v10.9h-1.2zM488.9 39.9h1.2v5.5h-1.2zM490.8 36.6h1.2v2.8h-1.2zM490.8 19.0h1.2v10.9h-1.2zM492.6 19.0h1.2v10.9h-1.2zM498.2 42.0h1.2v12.2h-1.2zM500.9 61.6h1.2v8.2h-1.2zM501.8 29.1h1.2v10.2h-1.2zM505.5 19.0h1.2v2.1h-1.2zM507.3 41.3h1.2v11.5h-1.2zM509.1 34.5h1.2v10.2h-1.2zM510.0 64.3h1.2v14.2h-1.2zM510.0 25.7h1.2v5.5h-1.2zM511.7 53.5h1.2v7.5h-1.2zM512.6 19.0h1.2v25.7h-1.2zM514.3 29.8h1.2v10.9h-1.2zM515.1 71.7h1.2v4.8h-1.2zM515.1 28.4h1.2v15.6h-1.2z" shape-rendering="crispEdges"/>
<path fill="#b97fcb" d="M367.0 44.7h1.3v4.8h-1.3zM367.0 17.6h1.3v0.7h-1.3zM369.0 21.0h1.3v6.8h-1.3zM372.7 19.0h1.2v21.0h-1.2zM374.4 17.6h1.2v0.7h-1.2zM376.2 46.7h1.2v27.8h-1.2zM378.0 42.6h1.3v8.2h-1.3zM378.0 33.9h1.3v4.8h-1.3zM378.0 15.6h1.3v0.7h-1.3zM379.0 35.2h1.3v23.0h-1.3zM382.0 32.5h1.3v10.9h-1.3zM383.0 25.1h1.3v10.2h-1.3zM384.0 29.8h1.3v5.5h-1.3zM386.0 41.3h1.3v19.0h-1.3zM387.0 39.3h1.3v17.6h-1.3zM387.0 15.6h1.3v0.7h-1.3zM388.0 42.6h1.3v19.0h-1.3zM388.0 17.0h1.3v1.4h-1.3zM389.0 45.3h1.3v8.8h-1.3zM389.0 17.6h1.3v1.4h-1.3zM390.0 18.3h1.1v2.1h-1.1zM390.0 15.6h1.1v0.7h-1.1zM390.8 26.4h1.1v14.2h-1.1zM391.7 24.4h1.1v11.5h-1.1zM392.5 15.6h1.1v0.7h-1.1zM395.0 18.3h1.1v0.7h-1.1zM395.8 22.4h1.1v5.5h-1.1zM397.5 17.6h1.1v0.7h-1.1zM400.9 17.6h1.2v1.4h-1.2zM400.9 16.3h1.2v0.7h-1.2zM401.8 15.6h1.2v0.7h-1.2zM402.7 18.3h1.2v0.7h-1.2zM402.7 15.6h1.2v0.7h-1.2zM404.5 15.6h1.2v0.7h-1.2zM406.4 18.3h1.2v4.1h-1.2zM406.4 17.0h1.2v0.7h-1.2zM407.3 17.6h1.2v0.7h-1.2zM411.7 18.3h1.1v0.7h-1.1zM412.5 17.0h1.1v0.7h-1.1zM414.2 16.3h1.1v0.7h-1.1zM415.0 86.6h1.3v12.9h-1.3zM415.0 18.3h1.3v0.7h-1.3zM415.0 17.0h1.3v0.7h-1.3zM416.0 85.2h1.3v29.8h-1.3zM417.0 87.3h1.3v25.7h-1.3zM417.0 19.0h1.3v2.1h-1.3zM418.0 106.2h1.2v11.5h-1.2zM418.0 17.6h1.2v1.4h-1.2zM418.9 17.6h1.2v1.4h-1.2zM419.8 113.6h1.2v4.1h-1.2zM419.8 46.7h1.2v31.1h-1.2zM419.8 15.6h1.2v0.7h-1.2zM420.6 106.9h1.2v15.6h-1.2zM420.6 19.0h1.2v31.1h-1.2zM420.6 15.6h1.2v0.7h-1.2zM421.5 112.9h1.2v0.7h-1.2zM422.4 111.6h1.2v7.5h-1.2zM424.1 106.2h1.2v8.8h-1.2zM424.1 16.3h1.2v0.7h-1.2zM425.9 20.3h1.2v4.1h-1.2zM425.9 16.3h1.2v0.7h-1.2zM426.8 16.3h1.2v0.7h-1.2zM427.8 17.0h1.2v0.7h-1.2zM427.8 15.6h1.2v0.7h-1.2zM428.7 19.0h1.2v2.8h-1.2zM429.6 27.1h1.2v10.9h-1.2zM429.6 15.6h1.2v2.1h-1.2zM430.5 29.8h1.2v5.5h-1.2zM430.5 16.3h1.2v0.7h-1.2zM433.2 15.6h1.2v0.7h-1.2zM435.1 16.3h1.2v0.7h-1.2zM436.0 19.0h1.3v8.8h-1.3zM438.0 43.3h1.2v7.5h-1.2zM438.9 18.3h1.2v0.7h-1.2zM438.9 17.0h1.2v0.7h-1.2zM439.8 25.7h1.2v65.6h-1.2zM440.8 27.8h1.2v4.8h-1.2zM440.8 15.6h1.2v0.7h-1.2zM441.7 15.6h1.2v0.7h-1.2zM442.6 44.7h1.2v6.1h-1.2zM442.6 15.6h1.2v0.7h-1.2zM443.5 17.6h1.2v0.7h-1.2zM444.5 17.6h1.2v0.7h-1.2zM445.4 15.6h1.2v0.7h-1.2zM447.2 16.3h1.2v0.7h-1.2zM448.2 19.0h1.2v0.7h-1.2zM450.0 16.3h1.2v0.7h-1.2zM450.9 29.1h1.2v6.1h-1.2zM450.9 15.6h1.2v0.7h-1.2zM451.7 19.0h1.2v24.4h-1.2zM455.1 20.3h1.2v4.8h-1.2zM455.1 15.6h1.2v0.7h-1.2zM456.0 16.3h1.2v0.7h-1.2zM457.8 19.0h1.2v5.5h-1.2zM461.5 15.6h1.2v0.7h-1.2zM463.3 42.0h1.2v4.8h-1.2zM463.3 29.8h1.2v8.2h-1.2zM465.1 19.0h1.2v29.1h-1.2zM465.1 17.0h1.2v0.7h-1.2zM466.0 42.0h1.2v18.3h-1.2zM466.9 39.3h1.2v8.8h-1.2zM466.9 17.0h1.2v0.7h-1.2zM469.6 17.0h1.2v0.7h-1.2zM469.6 15.6h1.2v0.7h-1.2zM471.3 53.5h1.2v4.8h-1.2zM472.2 21.0h1.2v17.0h-1.2zM474.9 33.2h1.2v8.2h-1.2zM475.8 18.3h1.2v0.7h-1.2zM475.8 15.6h1.2v0.7h-1.2zM476.6 19.0h1.2v8.2h-1.2zM479.2 18.3h1.2v8.2h-1.2zM480.1 60.9h1.2v14.2h-1.2zM480.1 19.0h1.2v3.4h-1.2zM481.0 15.6h1.2v0.7h-1.2zM483.6 19.0h1.2v4.8h-1.2zM483.6 15.6h1.2v1.4h-1.2zM484.5 19.0h1.2v7.5h-1.2zM484.5 15.6h1.2v1.4h-1.2zM485.4 39.9h1.2v6.1h-1.2zM485.4 18.3h1.2v0.7h-1.2zM486.2 17.6h1.2v0.7h-1.2zM488.0 19.0h1.2v6.8h-1.2zM488.9 23.7h1.2v16.3h-1.2zM488.9 18.3h1.2v0.7h-1.2zM489.8 18.3h1.2v0.7h-1.2zM490.8 16.3h1.2v0.7h-1.2zM491.7 23.0h1.2v13.6h-1.2zM492.6 29.8h1.2v24.4h-1.2zM492.6 17.0h1.2v0.7h-1.2zM494.5 16.3h1.2v0.7h-1.2zM496.3 16.3h1.2v0.7h-1.2zM498.2 15.6h1.2v0.7h-1.2zM499.1 19.0h1.2v34.5h-1.2zM499.1 17.6h1.2v0.7h-1.2zM500.9 17.0h1.2v0.7h-1.2zM500.9 15.6h1.2v0.7h-1.2zM501.8 47.4h1.2v21.0h-1.2zM501.8 15.6h1.2v0.7h-1.2zM502.7 17.6h1.2v1.4h-1.2zM502.7 15.6h1.2v0.7h-1.2zM503.6 46.0h1.2v17.0h-1.2zM503.6 18.3h1.2v0.7h-1.2zM504.5 27.1h1.2v17.6h-1.2zM504.5 16.3h1.2v0.7h-1.2zM507.3 29.1h1.2v12.2h-1.2zM507.3 15.6h1.2v0.7h-1.2zM508.2 60.9h1.2v4.8h-1.2zM509.1 67.0h1.2v4.1h-1.2zM510.0 58.2h1.2v6.1h-1.2zM510.0 31.1h1.2v8.8h-1.2zM510.0 19.0h1.2v6.8h-1.2zM510.0 16.3h1.2v2.1h-1.2zM510.9 74.4h1.2v6.8h-1.2zM511.7 19.0h1.2v2.8h-1.2zM513.4 19.0h1.2v18.3h-1.2zM513.4 16.3h1.2v0.7h-1.2zM515.1 17.6h1.2v0.7h-1.2z" shape-rendering="crispEdges"/>
<path fill="#b9e66d" d="M367.0 25.1h1.3v12.9h-1.3zM367.0 18.3h1.3v0.7h-1.3zM367.0 17.0h1.3v0.7h-1.3zM368.0 19.7h1.3v7.5h-1.3zM369.0 16.3h1.3v0.7h-1.3zM370.0 17.6h1.2v0.7h-1.2zM371.8 17.0h1.2v0.7h-1.2zM374.4 17.0h1.2v0.7h-1.2zM375.3 18.3h1.2v0.7h-1.2zM376.2 16.3h1.2v1.4h-1.2zM380.0 22.4h1.3v4.8h-1.3zM380.0 16.3h1.3v0.7h-1.3zM381.0 40.6h1.3v11.5h-1.3zM381.0 18.3h1.3v0.7h-1.3zM381.0 15.6h1.3v0.7h-1.3zM384.0 16.3h1.3v1.4h-1.3zM385.0 52.1h1.3v6.8h-1.3zM385.0 19.0h1.3v6.8h-1.3zM385.0 17.0h1.3v0.7h-1.3zM386.0 16.3h1.3v0.7h-1.3zM388.0 37.9h1.3v4.8h-1.3zM388.0 25.1h1.3v8.8h-1.3zM390.8 16.3h1.1v0.7h-1.1zM393.3 15.6h1.1v0.7h-1.1zM394.2 18.3h1.1v0.7h-1.1zM394.2 15.6h1.1v0.7h-1.1zM395.0 17.6h1.1v0.7h-1.1zM397.5 18.3h1.1v0.7h-1.1zM398.3 15.6h1.1v0.7h-1.1zM399.2 17.0h1.1v0.7h-1.1zM400.0 16.3h1.2v0.7h-1.2zM404.5 17.0h1.2v0.7h-1.2zM407.3 18.3h1.2v0.7h-1.2zM407.3 17.0h1.2v0.7h-1.2zM408.2 15.6h1.2v0.7h-1.2zM409.1 18.3h1.2v8.8h-1.2zM410.8 15.6h1.1v0.7h-1.1zM411.7 15.6h1.1v0.7h-1.1zM413.3 48.0h1.1v4.1h-1.1zM413.3 30.5h1.1v7.5h-1.1zM417.0 21.0h1.3v10.9h-1.3zM417.0 18.3h1.3v0.7h-1.3zM417.0 15.6h1.3v1.4h-1.3zM418.9 15.6h1.2v0.7h-1.2zM421.5 17.6h1.2v0.7h-1.2zM421.5 15.6h1.2v0.7h-1.2zM423.2 17.6h1.2v0.7h-1.2zM425.9 19.0h1.2v1.4h-1.2zM426.8 17.0h1.2v0.7h-1.2zM428.7 18.3h1.2v0.7h-1.2zM428.7 16.3h1.2v0.7h-1.2zM429.6 17.6h1.2v0.7h-1.2zM431.4 15.6h1.2v0.7h-1.2zM433.2 20.3h1.2v14.9h-1.2zM434.2 15.6h1.2v0.7h-1.2zM435.1 18.3h1.2v0.7h-1.2zM437.0 37.9h1.3v6.1h-1.3zM437.0 17.0h1.3v0.7h-1.3zM438.9 19.0h1.2v19.0h-1.2zM438.9 16.3h1.2v0.7h-1.2zM439.8 15.6h1.2v0.7h-1.2zM441.7 37.9h1.2v12.9h-1.2zM441.7 17.6h1.2v0.7h-1.2zM442.6 31.8h1.2v12.9h-1.2zM442.6 19.0h1.2v2.8h-1.2zM444.5 15.6h1.2v0.7h-1.2zM445.4 18.3h1.2v0.7h-1.2zM446.3 15.6h1.2v0.7h-1.2zM447.2 35.2h1.2v12.9h-1.2zM447.2 17.0h1.2v0.7h-1.2zM449.1 38.6h1.2v8.8h-1.2zM449.1 18.3h1.2v0.7h-1.2zM449.1 16.3h1.2v0.7h-1.2zM450.0 17.6h1.2v0.7h-1.2zM450.9 16.3h1.2v0.7h-1.2zM452.6 28.4h1.2v6.8h-1.2zM456.0 17.0h1.2v0.7h-1.2zM456.9 18.3h1.2v14.2h-1.2zM456.9 16.3h1.2v0.7h-1.2zM458.7 26.4h1.2v11.5h-1.2zM459.6 17.0h1.2v0.7h-1.2zM460.5 35.2h1.2v41.3h-1.2zM461.5 16.3h1.2v0.7h-1.2zM463.3 37.9h1.2v4.1h-1.2zM463.3 18.3h1.2v7.5h-1.2zM464.2 18.3h1.2v0.7h-1.2zM465.1 15.6h1.2v0.7h-1.2zM466.9 15.6h1.2v0.7h-1.2zM467.8 39.3h1.2v16.3h-1.2zM467.8 23.7h1.2v8.8h-1.2zM467.8 16.3h1.2v0.7h-1.2zM468.7 17.0h1.2v0.7h-1.2zM469.6 18.3h1.2v0.7h-1.2zM470.4 15.6h1.2v0.7h-1.2zM471.3 17.0h1.2v0.7h-1.2zM472.2 37.9h1.2v16.3h-1.2zM474.9 18.3h1.2v0.7h-1.2zM474.9 15.6h1.2v0.7h-1.2zM476.6 17.6h1.2v0.7h-1.2zM476.6 15.6h1.2v0.7h-1.2zM479.2 16.3h1.2v0.7h-1.2zM480.1 18.3h1.2v0.7h-1.2zM480.1 15.6h1.2v0.7h-1.2zM481.0 16.3h1.2v0.7h-1.2zM484.5 18.3h1.2v0.7h-1.2zM487.1 26.4h1.2v6.8h-1.2zM488.0 15.6h1.2v0.7h-1.2zM488.9 16.3h1.2v0.7h-1.2zM490.8 29.8h1.2v6.8h-1.2zM492.6 17.6h1.2v0.7h-1.2zM493.5 47.4h1.2v4.8h-1.2zM498.2 39.3h1.2v2.8h-1.2zM498.2 17.6h1.2v1.4h-1.2zM500.0 16.3h1.2v0.7h-1.2zM501.8 68.3h1.2v1.4h-1.2zM501.8 17.0h1.2v0.7h-1.2zM502.7 19.0h1.2v6.8h-1.2zM504.5 19.0h1.2v8.2h-1.2zM505.5 21.0h1.2v31.1h-1.2zM505.5 17.6h1.2v0.7h-1.2zM505.5 16.3h1.2v0.7h-1.2zM506.4 17.0h1.2v0.7h-1.2zM507.3 17.6h1.2v0.7h-1.2zM507.3 16.3h1.2v0.7h-1.2zM508.2 18.3h1.2v6.1h-1.2zM508.2 17.0h1.2v0.7h-1.2zM509.1 15.6h1.2v1.4h-1.2zM510.0 78.5h1.2v11.5h-1.2zM510.9 81.2h1.2v13.6h-1.2zM510.9 56.8h1.2v17.6h-1.2zM511.7 79.8h1.2v11.5h-1.2zM511.7 60.9h1.2v1.4h-1.2zM511.7 18.3h1.2v0.7h-1.2zM513.4 17.0h1.2v0.7h-1.2zM514.3 66.3h1.2v54.8h-1.2zM515.1 76.4h1.2v59.5h-1.2z" shape-rendering="crispEdges"/>
<path fill="#3f80bd" d="M368.0 117.0h1.3v19.0h-1.3zM369.0 117.7h1.3v18.3h-1.3zM378.0 114.3h1.3v23.7h-1.3zM379.0 108.2h1.3v37.2h-1.3zM380.0 105.5h1.3v38.6h-1.3zM381.0 112.9h1.3v26.4h-1.3zM390.0 44.0h1.1v9.5h-1.1zM390.8 40.6h1.1v8.8h-1.1zM391.7 35.9h1.1v8.2h-1.1zM392.5 37.9h1.1v14.2h-1.1zM394.2 41.3h1.1v5.5h-1.1zM410.0 47.4h1.1v46.7h-1.1zM410.8 44.0h1.1v58.2h-1.1zM411.7 47.4h1.1v50.1h-1.1zM412.5 50.8h1.1v52.1h-1.1zM413.3 52.1h1.1v51.4h-1.1zM414.2 46.7h1.1v53.5h-1.1zM425.0 36.6h1.2v101.5h-1.2zM425.9 39.9h1.2v104.2h-1.2zM426.8 36.6h1.2v94.7h-1.2zM427.8 39.3h1.2v87.9h-1.2zM428.7 35.9h1.2v94.7h-1.2zM429.6 64.9h1.2v46.7h-1.2zM429.6 37.9h1.2v12.9h-1.2zM430.5 35.2h1.2v91.3h-1.2zM431.4 31.8h1.2v100.8h-1.2zM432.3 41.3h1.2v94.7h-1.2zM433.2 35.2h1.2v81.2h-1.2zM434.2 44.0h1.2v78.5h-1.2zM435.1 42.0h1.2v82.5h-1.2zM436.0 81.2h1.3v23.7h-1.3zM437.0 81.8h1.3v15.6h-1.3zM438.0 53.5h1.2v52.1h-1.2zM438.9 52.1h1.2v60.2h-1.2zM439.8 91.3h1.2v14.9h-1.2zM440.8 59.5h1.2v43.3h-1.2zM441.7 52.1h1.2v50.8h-1.2zM442.6 50.8h1.2v56.2h-1.2zM443.5 56.2h1.2v56.8h-1.2zM444.5 58.2h1.2v51.4h-1.2zM445.4 50.8h1.2v57.5h-1.2zM446.3 50.8h1.2v59.5h-1.2zM447.2 55.5h1.2v56.2h-1.2zM448.2 56.2h1.2v50.8h-1.2zM449.1 58.2h1.2v54.8h-1.2zM456.0 122.4h1.2v18.3h-1.2zM456.9 113.6h1.2v27.8h-1.2zM457.8 116.3h1.2v16.3h-1.2zM458.7 120.4h1.2v23.0h-1.2zM459.6 123.8h1.2v19.7h-1.2zM460.5 115.6h1.2v23.7h-1.2zM461.5 121.1h1.2v19.0h-1.2zM462.4 121.7h1.2v1.4h-1.2zM463.3 124.4h1.2v19.0h-1.2zM464.2 126.5h1.2v13.6h-1.2zM465.1 126.5h1.2v13.6h-1.2zM488.0 54.8h1.2v0.7h-1.2zM490.8 58.2h1.2v2.1h-1.2zM491.7 57.5h1.2v1.4h-1.2zM493.5 52.1h1.2v4.1h-1.2zM497.2 59.5h1.2v36.6h-1.2zM498.2 54.1h1.2v57.5h-1.2zM499.1 55.5h1.2v60.9h-1.2z" shape-rendering="crispEdges"/>
<path fill="#eff06c" d="M368.0 27.1h1.3v90.0h-1.3zM369.0 27.8h1.3v90.0h-1.3zM370.0 19.0h1.2v129.2h-1.2zM370.9 23.7h1.2v119.7h-1.2zM371.8 19.0h1.2v128.5h-1.2zM372.7 39.9h1.2v102.1h-1.2zM373.6 19.0h1.2v115.6h-1.2zM374.4 19.0h1.2v127.1h-1.2zM375.3 19.0h1.2v129.8h-1.2zM376.2 74.4h1.2v72.4h-1.2zM376.2 25.7h1.2v21.0h-1.2zM377.1 19.0h1.2v130.5h-1.2z" shape-rendering="crispEdges"/>
<path fill="#4fae3a" d="M519.0 110.9h1.3v39.9h-1.3zM520.0 128.5h1.3v22.4h-1.3zM521.0 112.3h1.3v38.6h-1.3zM522.9 148.8h1.2v2.1h-1.2zM523.8 146.7h1.2v4.1h-1.2zM525.6 147.4h1.2v3.4h-1.2zM526.4 142.0h1.2v8.8h-1.2zM527.3 149.4h1.2v1.4h-1.2zM528.2 146.7h1.2v4.1h-1.2zM529.1 143.4h1.2v7.5h-1.2zM530.0 148.1h1.2v2.8h-1.2zM530.9 140.0h1.2v10.9h-1.2zM531.8 140.0h1.2v10.9h-1.2zM532.7 146.1h1.2v4.8h-1.2zM533.6 141.3h1.2v9.5h-1.2zM534.4 149.4h1.2v1.4h-1.2zM535.3 145.4h1.2v5.5h-1.2zM536.2 133.9h1.2v17.0h-1.2zM537.1 135.3h1.2v15.6h-1.2zM538.0 96.0h1.3v54.8h-1.3zM539.0 109.6h1.3v41.3h-1.3zM540.0 90.6h1.3v60.2h-1.3zM541.0 125.1h1.3v25.7h-1.3zM542.0 148.1h1.2v2.8h-1.2zM542.9 134.6h1.2v16.3h-1.2zM543.8 148.1h1.2v2.8h-1.2zM544.7 138.0h1.2v12.9h-1.2zM545.6 127.8h1.2v23.0h-1.2zM546.4 127.1h1.2v23.7h-1.2zM547.3 129.8h1.2v21.0h-1.2zM548.2 138.0h1.2v12.9h-1.2zM549.1 133.2h1.2v17.6h-1.2zM550.0 142.7h1.2v8.2h-1.2zM550.9 136.6h1.2v14.2h-1.2zM551.8 133.9h1.2v17.0h-1.2zM552.7 133.2h1.2v17.6h-1.2zM553.6 144.0h1.2v6.8h-1.2zM554.4 148.1h1.2v2.8h-1.2zM555.3 142.7h1.2v8.2h-1.2zM556.2 147.4h1.2v3.4h-1.2zM557.1 146.1h1.2v4.8h-1.2zM558.0 144.7h1.3v6.1h-1.3zM559.0 144.7h1.3v6.1h-1.3zM560.0 146.7h1.3v4.1h-1.3zM561.0 150.1h1.3v0.7h-1.3zM563.0 145.4h1.3v5.5h-1.3zM571.0 148.8h1.2v2.1h-1.2zM571.9 148.8h1.2v2.1h-1.2zM572.8 145.4h1.2v5.5h-1.2zM573.7 149.4h1.2v1.4h-1.2zM574.6 142.7h1.2v8.2h-1.2zM575.5 146.7h1.2v4.1h-1.2zM576.4 145.4h1.2v5.5h-1.2zM577.3 148.1h1.2v2.8h-1.2zM578.2 147.4h1.2v3.4h-1.2zM579.1 145.4h1.2v5.5h-1.2zM580.0 147.4h1.2v3.4h-1.2zM580.9 146.1h1.2v4.8h-1.2zM581.8 139.3h1.2v11.5h-1.2zM582.7 137.3h1.2v13.6h-1.2zM583.6 146.1h1.2v4.8h-1.2zM584.5 143.4h1.2v7.5h-1.2zM585.5 139.3h1.2v11.5h-1.2zM586.4 149.4h1.2v1.4h-1.2zM587.3 140.7h1.2v10.2h-1.2zM588.2 135.3h1.2v15.6h-1.2zM589.1 149.4h1.2v1.4h-1.2zM590.0 138.0h1.2v12.9h-1.2zM590.9 149.4h1.2v1.4h-1.2zM591.7 145.4h1.2v5.5h-1.2zM592.6 146.1h1.2v4.8h-1.2zM593.4 146.7h1.2v4.1h-1.2zM594.3 146.7h1.2v4.1h-1.2zM595.1 144.7h1.2v6.1h-1.2zM596.0 134.6h1.3v16.3h-1.3zM597.0 108.2h1.3v42.6h-1.3zM598.0 106.2h1.3v44.7h-1.3zM599.0 100.1h1.3v50.8h-1.3zM600.0 119.7h1.3v31.1h-1.3zM601.0 131.2h1.3v19.7h-1.3zM602.0 138.0h1.3v12.9h-1.3zM603.0 119.0h1.3v31.8h-1.3zM604.0 137.3h1.3v13.6h-1.3zM605.0 140.0h1.3v10.9h-1.3zM606.0 138.6h1.3v12.2h-1.3zM607.0 133.9h1.3v17.0h-1.3zM611.0 133.2h1.2v17.6h-1.2zM611.9 146.1h1.2v4.8h-1.2zM612.8 146.7h1.2v4.1h-1.2zM613.6 144.0h1.2v6.8h-1.2zM614.5 132.5h1.2v18.3h-1.2zM615.4 140.0h1.2v10.9h-1.2zM616.2 135.9h1.2v14.9h-1.2zM617.1 137.3h1.2v13.6h-1.2zM618.0 143.4h1.2v7.5h-1.2zM618.9 145.4h1.2v5.5h-1.2zM619.8 146.1h1.2v4.8h-1.2zM620.7 140.0h1.2v10.9h-1.2zM621.6 150.1h1.2v0.7h-1.2zM622.5 146.1h1.2v4.8h-1.2zM623.5 143.4h1.2v7.5h-1.2zM624.4 145.4h1.2v5.5h-1.2zM625.3 145.4h1.2v5.5h-1.2zM626.2 147.4h1.2v3.4h-1.2zM627.1 142.0h1.2v8.8h-1.2zM628.0 140.0h1.2v10.9h-1.2zM628.9 125.8h1.2v25.1h-1.2zM629.8 142.0h1.2v8.8h-1.2zM630.8 128.5h1.2v22.4h-1.2zM631.7 115.6h1.2v35.2h-1.2zM632.6 130.5h1.2v20.3h-1.2zM633.5 136.6h1.2v14.2h-1.2zM634.5 131.2h1.2v19.7h-1.2zM635.4 142.0h1.2v8.8h-1.2zM636.3 122.4h1.2v28.4h-1.2zM637.2 121.1h1.2v29.8h-1.2zM638.2 124.4h1.2v26.4h-1.2zM639.1 129.2h1.2v21.7h-1.2zM640.0 54.8h1.2v96.0h-1.2zM640.9 54.8h1.2v96.0h-1.2zM641.8 48.0h1.2v102.8h-1.2zM642.7 40.6h1.2v110.2h-1.2zM643.6 43.3h1.2v107.5h-1.2zM644.4 64.3h1.2v86.6h-1.2zM645.3 19.0h1.2v131.9h-1.2zM646.2 85.2h1.2v65.6h-1.2zM647.1 19.0h1.2v131.9h-1.2zM648.0 106.2h1.3v44.7h-1.3zM649.0 26.4h1.3v124.4h-1.3zM650.0 27.8h1.3v123.1h-1.3zM651.0 33.2h1.3v117.7h-1.3zM652.0 85.9h1.2v64.9h-1.2zM652.9 90.6h1.2v60.2h-1.2zM653.7 125.1h1.2v25.7h-1.2zM654.6 93.3h1.2v57.5h-1.2zM655.5 92.0h1.2v58.9h-1.2zM656.4 102.1h1.2v48.7h-1.2zM657.2 133.9h1.2v17.0h-1.2zM658.1 102.8h1.2v48.0h-1.2zM659.0 104.2h1.2v46.7h-1.2zM659.9 101.5h1.2v49.4h-1.2zM660.7 104.2h1.2v46.7h-1.2z" shape-rendering="crispEdges"/>
<path fill="#b3e08b" d="M519.0 75.1h1.3v35.9h-1.3zM520.0 79.8h1.3v48.7h-1.3zM520.0 19.0h1.3v35.2h-1.3zM520.0 16.3h1.3v0.7h-1.3zM521.0 80.5h1.3v31.8h-1.3zM521.0 17.0h1.3v0.7h-1.3zM522.0 18.3h1.2v0.7h-1.2zM522.9 16.3h1.2v1.4h-1.2zM526.4 68.3h1.2v52.8h-1.2zM530.0 15.6h1.2v1.4h-1.2zM530.9 18.3h1.2v0.7h-1.2zM534.4 43.3h1.2v25.1h-1.2zM535.3 18.3h1.2v8.2h-1.2zM537.1 17.0h1.2v2.1h-1.2zM538.0 87.3h1.3v8.8h-1.3zM539.0 95.4h1.3v14.2h-1.3zM540.0 88.6h1.3v2.1h-1.3zM540.0 19.0h1.3v4.8h-1.3zM541.0 87.3h1.3v37.9h-1.3zM541.0 17.6h1.3v0.7h-1.3zM542.0 55.5h1.2v92.7h-1.2zM542.9 60.2h1.2v74.4h-1.2zM543.8 52.8h1.2v95.4h-1.2zM543.8 28.4h1.2v8.2h-1.2zM544.7 52.8h1.2v85.2h-1.2zM545.6 55.5h1.2v72.4h-1.2zM545.6 19.7h1.2v17.6h-1.2zM545.6 18.3h1.2v0.7h-1.2zM546.4 51.4h1.2v75.8h-1.2zM546.4 19.0h1.2v14.9h-1.2zM547.3 48.7h1.2v81.2h-1.2zM547.3 19.7h1.2v13.6h-1.2zM547.3 15.6h1.2v0.7h-1.2zM548.2 86.6h1.2v51.4h-1.2zM548.2 54.8h1.2v6.8h-1.2zM548.2 28.4h1.2v14.2h-1.2zM548.2 17.0h1.2v0.7h-1.2zM549.1 52.1h1.2v81.2h-1.2zM549.1 17.0h1.2v0.7h-1.2zM550.0 52.1h1.2v90.6h-1.2zM550.0 43.3h1.2v7.5h-1.2zM550.0 19.0h1.2v1.4h-1.2zM550.9 52.1h1.2v84.6h-1.2zM551.8 52.8h1.2v81.2h-1.2zM551.8 15.6h1.2v0.7h-1.2zM552.7 52.1h1.2v81.2h-1.2zM553.6 51.4h1.2v92.7h-1.2zM553.6 27.1h1.2v8.2h-1.2zM553.6 15.6h1.2v0.7h-1.2zM554.4 54.8h1.2v93.3h-1.2zM554.4 19.0h1.2v19.0h-1.2zM555.3 55.5h1.2v87.3h-1.2zM555.3 16.3h1.2v0.7h-1.2zM556.2 54.1h1.2v93.3h-1.2zM556.2 22.4h1.2v16.3h-1.2zM557.1 100.8h1.2v45.3h-1.2zM557.1 56.8h1.2v8.2h-1.2zM557.1 15.6h1.2v0.7h-1.2zM558.0 54.8h1.3v6.1h-1.3zM559.0 38.6h1.3v35.9h-1.3zM560.0 54.1h1.3v11.5h-1.3zM560.0 17.6h1.3v0.7h-1.3zM561.0 31.8h1.3v33.2h-1.3zM562.0 16.3h1.3v1.4h-1.3zM564.0 17.6h1.3v1.4h-1.3zM566.0 16.3h1.3v0.7h-1.3zM567.0 17.0h1.3v0.7h-1.3zM571.0 39.9h1.2v33.9h-1.2zM571.0 17.0h1.2v0.7h-1.2zM573.7 15.6h1.2v0.7h-1.2zM574.6 17.0h1.2v0.7h-1.2zM579.1 18.3h1.2v0.7h-1.2zM580.0 125.8h1.2v21.7h-1.2zM580.0 17.0h1.2v0.7h-1.2zM580.9 122.4h1.2v23.7h-1.2zM581.8 121.1h1.2v18.3h-1.2zM582.7 119.7h1.2v17.6h-1.2zM582.7 16.3h1.2v0.7h-1.2zM583.6 127.1h1.2v19.0h-1.2zM583.6 16.3h1.2v0.7h-1.2zM584.5 123.1h1.2v20.3h-1.2zM584.5 17.0h1.2v0.7h-1.2zM585.5 132.5h1.2v6.8h-1.2zM585.5 15.6h1.2v1.4h-1.2zM586.4 117.0h1.2v32.5h-1.2zM586.4 15.6h1.2v0.7h-1.2zM587.3 126.5h1.2v14.2h-1.2zM587.3 17.0h1.2v0.7h-1.2zM588.2 125.1h1.2v10.2h-1.2zM588.2 19.0h1.2v25.7h-1.2zM589.1 121.1h1.2v28.4h-1.2zM590.0 17.0h1.2v0.7h-1.2zM592.6 18.3h1.2v0.7h-1.2zM596.0 82.5h1.3v52.1h-1.3zM596.0 19.0h1.3v4.1h-1.3zM597.0 83.2h1.3v25.1h-1.3zM598.0 81.8h1.3v24.4h-1.3zM598.0 15.6h1.3v0.7h-1.3zM599.0 88.6h1.3v11.5h-1.3zM600.0 19.0h1.3v0.7h-1.3zM601.0 15.6h1.3v0.7h-1.3zM602.0 35.2h1.3v6.8h-1.3zM604.0 17.0h1.3v0.7h-1.3zM606.0 16.3h1.3v0.7h-1.3zM608.0 41.3h1.3v109.6h-1.3zM609.0 75.8h1.3v75.1h-1.3zM609.0 19.0h1.3v5.5h-1.3zM609.0 17.0h1.3v1.4h-1.3zM610.0 42.0h1.3v108.9h-1.3zM610.0 16.3h1.3v0.7h-1.3zM611.0 25.1h1.2v4.1h-1.2zM611.9 18.3h1.2v11.5h-1.2zM612.8 16.3h1.2v0.7h-1.2zM613.6 15.6h1.2v0.7h-1.2zM614.5 29.8h1.2v10.2h-1.2zM614.5 17.6h1.2v0.7h-1.2zM615.4 23.0h1.2v7.5h-1.2zM616.2 20.3h1.2v14.2h-1.2zM617.1 94.7h1.2v15.6h-1.2zM617.1 17.6h1.2v0.7h-1.2zM618.0 28.4h1.2v9.5h-1.2zM619.8 22.4h1.2v15.6h-1.2zM619.8 15.6h1.2v0.7h-1.2zM620.7 40.6h1.2v12.2h-1.2zM621.6 17.0h1.2v0.7h-1.2zM622.5 23.7h1.2v10.2h-1.2zM628.0 19.0h1.2v23.7h-1.2zM628.9 27.1h1.2v10.9h-1.2zM628.9 15.6h1.2v0.7h-1.2zM631.7 30.5h1.2v21.0h-1.2zM632.6 52.1h1.2v4.1h-1.2zM632.6 29.1h1.2v14.9h-1.2zM633.5 42.0h1.2v17.0h-1.2zM633.5 15.6h1.2v0.7h-1.2zM634.5 19.0h1.2v4.1h-1.2zM635.4 46.7h1.2v6.8h-1.2zM636.3 16.3h1.2v0.7h-1.2zM637.2 23.0h1.2v15.6h-1.2zM640.0 17.0h1.2v1.4h-1.2zM640.9 35.9h1.2v14.2h-1.2zM641.8 19.0h1.2v9.5h-1.2zM642.7 26.4h1.2v6.1h-1.2zM642.7 18.3h1.2v0.7h-1.2zM644.4 17.6h1.2v1.4h-1.2zM644.4 15.6h1.2v0.7h-1.2zM646.2 71.0h1.2v14.2h-1.2zM646.2 32.5h1.2v9.5h-1.2zM648.0 23.7h1.3v10.9h-1.3zM652.0 17.0h1.2v0.7h-1.2zM654.6 24.4h1.2v39.9h-1.2zM655.5 19.0h1.2v15.6h-1.2zM658.1 18.3h1.2v0.7h-1.2zM659.0 17.0h1.2v0.7h-1.2zM659.9 19.0h1.2v14.9h-1.2zM659.9 16.3h1.2v0.7h-1.2zM660.7 18.3h1.2v0.7h-1.2z" shape-rendering="crispEdges"/>
<path fill="#eff06c" d="M519.0 49.4h1.3v25.7h-1.3zM520.0 54.1h1.3v25.7h-1.3zM521.0 43.3h1.3v37.2h-1.3zM522.0 22.4h1.2v128.5h-1.2zM522.9 19.0h1.2v129.8h-1.2zM523.8 19.0h1.2v127.8h-1.2zM524.7 19.0h1.2v131.9h-1.2zM525.6 108.2h1.2v39.3h-1.2zM525.6 19.0h1.2v39.9h-1.2zM526.4 121.1h1.2v21.0h-1.2zM526.4 19.0h1.2v49.4h-1.2zM527.3 19.0h1.2v130.5h-1.2zM528.2 19.0h1.2v127.8h-1.2zM529.1 20.3h1.2v123.1h-1.2z" shape-rendering="crispEdges"/>
<path fill="#d9d9d9" d="M519.0 45.3h1.3v4.1h-1.3zM532.7 21.7h1.2v4.8h-1.2zM534.4 19.0h1.2v6.1h-1.2zM536.2 22.4h1.2v8.8h-1.2zM538.0 50.8h1.3v12.2h-1.3zM539.0 35.2h1.3v14.2h-1.3zM540.0 36.6h1.3v8.2h-1.3zM541.0 40.6h1.3v18.3h-1.3zM542.9 19.0h1.2v10.2h-1.2zM544.7 42.6h1.2v10.2h-1.2zM545.6 37.2h1.2v18.3h-1.2zM546.4 47.4h1.2v4.1h-1.2zM548.2 61.6h1.2v25.1h-1.2zM549.1 44.0h1.2v8.2h-1.2zM549.1 22.4h1.2v5.5h-1.2zM550.0 50.8h1.2v1.4h-1.2zM550.9 46.0h1.2v6.1h-1.2zM550.9 29.1h1.2v4.8h-1.2zM551.8 34.5h1.2v18.3h-1.2zM552.7 29.8h1.2v22.4h-1.2zM553.6 46.0h1.2v5.5h-1.2zM553.6 19.0h1.2v8.2h-1.2zM554.4 52.8h1.2v2.1h-1.2zM554.4 37.9h1.2v9.5h-1.2zM555.3 48.7h1.2v6.8h-1.2zM556.2 49.4h1.2v4.8h-1.2zM557.1 64.9h1.2v35.9h-1.2zM557.1 46.0h1.2v10.9h-1.2zM561.0 25.7h1.3v6.1h-1.3zM567.0 102.1h1.3v37.2h-1.3zM568.0 94.7h1.3v40.6h-1.3zM569.0 103.5h1.3v35.9h-1.3zM570.0 101.5h1.3v33.9h-1.3zM570.0 19.0h1.3v0.7h-1.3zM571.0 73.7h1.2v14.9h-1.2zM571.0 19.0h1.2v6.8h-1.2zM571.9 40.6h1.2v50.1h-1.2zM572.8 42.0h1.2v22.4h-1.2zM573.7 42.6h1.2v42.6h-1.2zM573.7 19.0h1.2v9.5h-1.2zM574.6 45.3h1.2v61.6h-1.2zM574.6 22.4h1.2v10.9h-1.2zM575.5 48.7h1.2v37.9h-1.2zM575.5 21.7h1.2v8.8h-1.2zM576.4 46.7h1.2v48.0h-1.2zM577.3 49.4h1.2v39.9h-1.2zM577.3 25.1h1.2v9.5h-1.2zM578.2 48.0h1.2v47.4h-1.2zM579.1 75.8h1.2v16.3h-1.2zM581.8 31.8h1.2v10.9h-1.2zM583.6 19.0h1.2v4.8h-1.2zM589.1 19.0h1.2v20.3h-1.2zM590.9 42.0h1.2v8.8h-1.2zM591.7 24.4h1.2v4.8h-1.2zM592.6 36.6h1.2v3.4h-1.2zM593.4 33.9h1.2v25.7h-1.2zM593.4 19.0h1.2v5.5h-1.2zM594.3 43.3h1.2v13.6h-1.2zM595.1 24.4h1.2v11.5h-1.2zM597.0 31.1h1.3v12.2h-1.3zM600.0 19.7h1.3v8.2h-1.3zM602.0 46.7h1.3v25.7h-1.3zM602.0 19.0h1.3v4.1h-1.3zM603.0 19.0h1.3v3.4h-1.3zM605.0 19.7h1.3v5.5h-1.3zM609.0 37.9h1.3v37.9h-1.3zM611.9 33.2h1.2v8.2h-1.2zM615.4 49.4h1.2v30.5h-1.2zM615.4 30.5h1.2v4.1h-1.2zM621.6 31.8h1.2v9.5h-1.2zM624.4 41.3h1.2v10.2h-1.2zM625.3 34.5h1.2v14.2h-1.2zM640.9 19.0h1.2v17.0h-1.2zM641.8 28.4h1.2v13.6h-1.2zM642.7 21.0h1.2v5.5h-1.2zM643.6 19.0h1.2v24.4h-1.2zM644.4 27.8h1.2v8.8h-1.2zM648.0 52.8h1.3v17.6h-1.3zM655.5 34.5h1.2v14.9h-1.2zM656.4 42.0h1.2v8.8h-1.2zM659.9 33.9h1.2v18.3h-1.2z" shape-rendering="crispEdges"/>
<path fill="#cbf0c6" d="M519.0 19.0h1.3v26.4h-1.3zM522.0 19.0h1.2v3.4h-1.2zM529.1 19.0h1.2v1.4h-1.2zM530.9 19.0h1.2v7.5h-1.2zM532.7 19.0h1.2v2.8h-1.2zM536.2 50.1h1.2v19.7h-1.2zM537.1 24.4h1.2v9.5h-1.2zM538.0 19.0h1.3v20.3h-1.3zM540.0 44.7h1.3v11.5h-1.3zM542.0 19.7h1.2v35.9h-1.2zM547.3 19.0h1.2v0.7h-1.2zM548.2 19.0h1.2v9.5h-1.2zM550.9 33.9h1.2v12.2h-1.2zM551.8 19.0h1.2v1.4h-1.2zM555.3 19.0h1.2v18.3h-1.2zM557.1 24.4h1.2v21.7h-1.2zM558.0 41.3h1.3v13.6h-1.3zM561.0 64.9h1.3v20.3h-1.3zM563.0 19.0h1.3v4.1h-1.3zM573.7 28.4h1.2v3.4h-1.2zM577.3 19.0h1.2v4.8h-1.2zM578.2 19.0h1.2v7.5h-1.2zM579.1 19.0h1.2v6.1h-1.2zM581.8 42.6h1.2v25.7h-1.2zM581.8 19.0h1.2v2.1h-1.2zM585.5 32.5h1.2v10.9h-1.2zM588.2 65.6h1.2v17.0h-1.2zM589.1 39.3h1.2v2.8h-1.2zM590.0 19.0h1.2v13.6h-1.2zM590.9 19.0h1.2v8.2h-1.2zM591.7 29.1h1.2v5.5h-1.2zM591.7 19.0h1.2v5.5h-1.2zM599.0 19.0h1.3v31.1h-1.3zM602.0 23.0h1.3v12.2h-1.3zM605.0 79.8h1.3v31.1h-1.3zM605.0 19.0h1.3v0.7h-1.3zM608.0 19.0h1.3v22.4h-1.3zM609.0 24.4h1.3v13.6h-1.3zM610.0 34.5h1.3v7.5h-1.3zM611.0 29.1h1.2v94.0h-1.2zM611.9 41.3h1.2v78.5h-1.2zM611.9 29.8h1.2v3.4h-1.2zM612.8 33.9h1.2v90.0h-1.2zM613.6 25.1h1.2v100.1h-1.2zM614.5 90.0h1.2v39.3h-1.2zM614.5 39.9h1.2v10.2h-1.2zM615.4 79.8h1.2v48.7h-1.2zM615.4 34.5h1.2v14.9h-1.2zM616.2 41.3h1.2v81.2h-1.2zM617.1 110.2h1.2v17.0h-1.2zM617.1 36.6h1.2v58.2h-1.2zM617.1 19.0h1.2v8.2h-1.2zM618.0 19.0h1.2v9.5h-1.2zM618.9 33.2h1.2v12.9h-1.2zM619.8 50.8h1.2v4.8h-1.2zM621.6 71.7h1.2v17.6h-1.2zM621.6 41.3h1.2v13.6h-1.2zM625.3 19.0h1.2v6.8h-1.2zM626.2 29.1h1.2v5.5h-1.2zM638.2 19.0h1.2v42.6h-1.2zM640.0 38.6h1.2v16.3h-1.2zM648.0 34.5h1.3v18.3h-1.3zM650.0 26.4h1.3v1.4h-1.3zM651.0 19.0h1.3v14.2h-1.3zM652.0 19.0h1.2v6.8h-1.2zM652.9 25.7h1.2v17.0h-1.2zM658.1 33.9h1.2v12.2h-1.2z" shape-rendering="crispEdges"/>
<path fill="#b9e66d" d="M519.0 18.3h1.3v0.7h-1.3zM520.0 17.6h1.3v0.7h-1.3zM522.0 15.6h1.2v0.7h-1.2zM523.8 17.0h1.2v0.7h-1.2zM524.7 15.6h1.2v0.7h-1.2zM525.6 18.3h1.2v0.7h-1.2zM526.4 17.6h1.2v0.7h-1.2zM527.3 17.0h1.2v0.7h-1.2zM531.8 17.6h1.2v0.7h-1.2zM533.6 15.6h1.2v0.7h-1.2zM534.4 18.3h1.2v0.7h-1.2zM536.2 18.3h1.2v0.7h-1.2zM537.1 19.0h1.2v5.5h-1.2zM538.0 15.6h1.3v0.7h-1.3zM542.0 18.3h1.2v0.7h-1.2zM542.0 17.0h1.2v0.7h-1.2zM542.9 29.1h1.2v18.3h-1.2zM543.8 36.6h1.2v16.3h-1.2zM543.8 19.0h1.2v9.5h-1.2zM543.8 17.0h1.2v0.7h-1.2zM545.6 17.6h1.2v0.7h-1.2zM548.2 42.6h1.2v12.2h-1.2zM550.0 27.1h1.2v16.3h-1.2zM550.0 17.6h1.2v0.7h-1.2zM551.8 20.3h1.2v4.1h-1.2zM551.8 17.0h1.2v0.7h-1.2zM555.3 15.6h1.2v0.7h-1.2zM556.2 15.6h1.2v0.7h-1.2zM557.1 16.3h1.2v0.7h-1.2zM558.0 16.3h1.3v0.7h-1.3zM559.0 15.6h1.3v0.7h-1.3zM560.0 18.3h1.3v0.7h-1.3zM565.0 15.6h1.3v0.7h-1.3zM567.0 64.9h1.3v12.9h-1.3zM567.0 16.3h1.3v0.7h-1.3zM568.0 18.3h1.3v0.7h-1.3zM570.0 19.7h1.3v41.3h-1.3zM571.9 16.3h1.2v0.7h-1.2zM575.5 17.0h1.2v0.7h-1.2zM576.4 17.6h1.2v0.7h-1.2zM577.3 17.6h1.2v0.7h-1.2zM579.1 16.3h1.2v0.7h-1.2zM583.6 17.6h1.2v0.7h-1.2zM588.2 16.3h1.2v0.7h-1.2zM589.1 17.0h1.2v0.7h-1.2zM590.0 32.5h1.2v4.8h-1.2zM590.9 18.3h1.2v0.7h-1.2zM592.6 15.6h1.2v0.7h-1.2zM593.4 17.6h1.2v0.7h-1.2zM594.3 19.0h1.2v8.8h-1.2zM595.1 43.3h1.2v11.5h-1.2zM595.1 19.0h1.2v5.5h-1.2zM595.1 17.6h1.2v0.7h-1.2zM600.0 38.6h1.3v12.2h-1.3zM601.0 27.8h1.3v17.0h-1.3zM601.0 19.0h1.3v4.1h-1.3zM601.0 16.3h1.3v0.7h-1.3zM602.0 17.6h1.3v0.7h-1.3zM606.0 17.6h1.3v1.4h-1.3zM610.0 19.0h1.3v15.6h-1.3zM611.0 15.6h1.2v0.7h-1.2zM612.8 18.3h1.2v0.7h-1.2zM612.8 17.0h1.2v0.7h-1.2zM613.6 17.0h1.2v0.7h-1.2zM614.5 18.3h1.2v0.7h-1.2zM615.4 17.0h1.2v1.4h-1.2zM616.2 17.0h1.2v0.7h-1.2zM616.2 15.6h1.2v0.7h-1.2zM617.1 27.1h1.2v9.5h-1.2zM618.0 18.3h1.2v0.7h-1.2zM618.9 18.3h1.2v0.7h-1.2zM620.7 17.0h1.2v0.7h-1.2zM621.6 18.3h1.2v0.7h-1.2zM622.5 17.6h1.2v0.7h-1.2zM622.5 16.3h1.2v0.7h-1.2zM623.5 17.6h1.2v0.7h-1.2zM623.5 15.6h1.2v0.7h-1.2zM625.3 16.3h1.2v0.7h-1.2zM626.2 19.0h1.2v10.2h-1.2zM627.1 19.0h1.2v4.1h-1.2zM628.0 16.3h1.2v0.7h-1.2zM628.9 49.4h1.2v8.2h-1.2zM628.9 17.0h1.2v0.7h-1.2zM630.8 37.9h1.2v13.6h-1.2zM630.8 19.0h1.2v11.5h-1.2zM630.8 16.3h1.2v0.7h-1.2zM633.5 16.3h1.2v1.4h-1.2zM634.5 23.0h1.2v17.0h-1.2zM635.4 17.6h1.2v0.7h-1.2zM637.2 17.0h1.2v0.7h-1.2zM638.2 16.3h1.2v0.7h-1.2zM639.1 17.6h1.2v0.7h-1.2zM642.7 32.5h1.2v8.2h-1.2zM642.7 17.6h1.2v0.7h-1.2zM643.6 18.3h1.2v0.7h-1.2zM643.6 15.6h1.2v0.7h-1.2zM646.2 19.0h1.2v13.6h-1.2zM648.0 88.6h1.3v17.6h-1.3zM649.0 15.6h1.3v1.4h-1.3zM650.0 18.3h1.3v0.7h-1.3zM650.0 16.3h1.3v0.7h-1.3zM651.0 16.3h1.3v0.7h-1.3zM652.0 57.5h1.2v28.4h-1.2zM652.0 33.2h1.2v6.8h-1.2zM652.9 70.4h1.2v20.3h-1.2zM652.9 15.6h1.2v0.7h-1.2zM653.7 52.1h1.2v73.1h-1.2zM653.7 19.0h1.2v24.4h-1.2zM653.7 17.0h1.2v1.4h-1.2zM654.6 64.3h1.2v29.1h-1.2zM654.6 18.3h1.2v6.1h-1.2zM655.5 49.4h1.2v42.6h-1.2zM655.5 17.6h1.2v0.7h-1.2zM655.5 15.6h1.2v0.7h-1.2zM656.4 57.5h1.2v44.7h-1.2zM656.4 27.8h1.2v8.8h-1.2zM656.4 16.3h1.2v0.7h-1.2zM657.2 53.5h1.2v80.5h-1.2zM657.2 18.3h1.2v8.8h-1.2zM658.1 58.9h1.2v44.0h-1.2zM658.1 17.6h1.2v0.7h-1.2zM659.0 56.8h1.2v47.4h-1.2zM659.0 15.6h1.2v0.7h-1.2zM659.9 52.1h1.2v49.4h-1.2zM660.7 56.8h1.2v47.4h-1.2zM660.7 23.7h1.2v4.1h-1.2zM660.7 16.3h1.2v0.7h-1.2z" shape-rendering="crispEdges"/>
<path fill="#b97fcb" d="M519.0 17.6h1.3v0.7h-1.3zM520.0 18.3h1.3v0.7h-1.3zM521.0 27.1h1.3v11.5h-1.3zM521.0 16.3h1.3v0.7h-1.3zM523.8 17.6h1.2v0.7h-1.2zM524.7 17.6h1.2v0.7h-1.2zM525.6 58.9h1.2v49.4h-1.2zM525.6 16.3h1.2v0.7h-1.2zM526.4 16.3h1.2v0.7h-1.2zM527.3 15.6h1.2v1.4h-1.2zM529.1 17.6h1.2v0.7h-1.2zM530.0 18.3h1.2v8.8h-1.2zM531.8 19.0h1.2v4.1h-1.2zM531.8 15.6h1.2v0.7h-1.2zM534.4 17.6h1.2v0.7h-1.2zM534.4 16.3h1.2v0.7h-1.2zM535.3 17.6h1.2v0.7h-1.2zM536.2 17.6h1.2v0.7h-1.2zM538.0 62.9h1.3v24.4h-1.3zM538.0 39.3h1.3v11.5h-1.3zM539.0 56.2h1.3v39.3h-1.3zM539.0 17.6h1.3v0.7h-1.3zM540.0 56.2h1.3v32.5h-1.3zM541.0 58.9h1.3v28.4h-1.3zM542.0 19.0h1.2v0.7h-1.2zM542.9 47.4h1.2v12.9h-1.2zM543.8 16.3h1.2v0.7h-1.2zM544.7 19.0h1.2v16.3h-1.2zM544.7 16.3h1.2v0.7h-1.2zM546.4 33.9h1.2v13.6h-1.2zM547.3 33.2h1.2v8.2h-1.2zM549.1 33.9h1.2v10.2h-1.2zM549.1 17.6h1.2v0.7h-1.2zM549.1 16.3h1.2v0.7h-1.2zM550.0 15.6h1.2v0.7h-1.2zM550.9 16.3h1.2v1.4h-1.2zM552.7 19.0h1.2v10.9h-1.2zM552.7 15.6h1.2v0.7h-1.2zM554.4 17.0h1.2v0.7h-1.2zM555.3 37.2h1.2v11.5h-1.2zM556.2 19.0h1.2v3.4h-1.2zM556.2 16.3h1.2v0.7h-1.2zM558.0 74.4h1.3v36.6h-1.3zM558.0 29.1h1.3v12.2h-1.3zM559.0 74.4h1.3v39.9h-1.3zM559.0 16.3h1.3v1.4h-1.3zM560.0 65.6h1.3v44.7h-1.3zM560.0 17.0h1.3v0.7h-1.3zM561.0 85.2h1.3v26.4h-1.3zM561.0 19.0h1.3v2.1h-1.3zM565.0 17.0h1.3v0.7h-1.3zM566.0 39.3h1.3v53.5h-1.3zM567.0 139.3h1.3v11.5h-1.3zM567.0 19.0h1.3v5.5h-1.3zM568.0 135.3h1.3v15.6h-1.3zM568.0 54.1h1.3v31.8h-1.3zM569.0 139.3h1.3v11.5h-1.3zM569.0 18.3h1.3v2.8h-1.3zM570.0 135.3h1.3v15.6h-1.3zM571.0 88.6h1.2v35.2h-1.2zM571.0 15.6h1.2v0.7h-1.2zM571.9 90.6h1.2v38.6h-1.2zM571.9 17.6h1.2v0.7h-1.2zM572.8 114.3h1.2v6.8h-1.2zM572.8 16.3h1.2v0.7h-1.2zM573.7 85.2h1.2v43.3h-1.2zM574.6 106.9h1.2v13.6h-1.2zM576.4 94.7h1.2v30.5h-1.2zM576.4 19.0h1.2v8.2h-1.2zM577.3 89.3h1.2v35.9h-1.2zM577.3 23.7h1.2v1.4h-1.2zM578.2 95.4h1.2v27.1h-1.2zM579.1 92.0h1.2v28.4h-1.2zM580.0 73.7h1.2v26.4h-1.2zM580.0 34.5h1.2v7.5h-1.2zM580.0 15.6h1.2v0.7h-1.2zM580.9 73.7h1.2v21.7h-1.2zM580.9 23.0h1.2v7.5h-1.2zM581.8 69.0h1.2v31.1h-1.2zM581.8 17.0h1.2v0.7h-1.2zM581.8 15.6h1.2v0.7h-1.2zM582.7 71.7h1.2v23.0h-1.2zM582.7 17.6h1.2v19.7h-1.2zM582.7 15.6h1.2v0.7h-1.2zM583.6 74.4h1.2v24.4h-1.2zM583.6 23.7h1.2v21.0h-1.2zM583.6 17.0h1.2v0.7h-1.2zM584.5 69.7h1.2v25.1h-1.2zM584.5 28.4h1.2v12.2h-1.2zM584.5 15.6h1.2v0.7h-1.2zM585.5 65.6h1.2v17.0h-1.2zM585.5 17.6h1.2v0.7h-1.2zM586.4 69.7h1.2v46.0h-1.2zM586.4 18.3h1.2v3.4h-1.2zM587.3 64.9h1.2v29.1h-1.2zM587.3 18.3h1.2v0.7h-1.2zM588.2 82.5h1.2v10.9h-1.2zM588.2 17.0h1.2v0.7h-1.2zM589.1 72.4h1.2v29.1h-1.2zM589.1 42.0h1.2v4.8h-1.2zM589.1 17.6h1.2v0.7h-1.2zM589.1 15.6h1.2v0.7h-1.2zM590.0 17.6h1.2v0.7h-1.2zM590.0 16.3h1.2v0.7h-1.2zM590.9 27.1h1.2v14.9h-1.2zM590.9 17.6h1.2v0.7h-1.2zM590.9 16.3h1.2v0.7h-1.2zM591.7 46.7h1.2v5.5h-1.2zM591.7 17.0h1.2v0.7h-1.2zM592.6 39.9h1.2v39.3h-1.2zM593.4 24.4h1.2v9.5h-1.2zM593.4 17.0h1.2v0.7h-1.2zM593.4 15.6h1.2v0.7h-1.2zM595.1 17.0h1.2v0.7h-1.2zM595.1 15.6h1.2v0.7h-1.2zM596.0 56.8h1.3v25.7h-1.3zM597.0 51.4h1.3v31.8h-1.3zM597.0 18.3h1.3v12.9h-1.3zM598.0 59.5h1.3v22.4h-1.3zM598.0 17.6h1.3v0.7h-1.3zM598.0 16.3h1.3v0.7h-1.3zM599.0 50.1h1.3v38.6h-1.3zM599.0 15.6h1.3v0.7h-1.3zM600.0 17.0h1.3v0.7h-1.3zM601.0 18.3h1.3v0.7h-1.3zM602.0 15.6h1.3v0.7h-1.3zM603.0 44.7h1.3v12.9h-1.3zM603.0 15.6h1.3v1.4h-1.3zM604.0 17.6h1.3v0.7h-1.3zM606.0 19.0h1.3v7.5h-1.3zM607.0 18.3h1.3v0.7h-1.3zM608.0 16.3h1.3v0.7h-1.3zM610.0 18.3h1.3v0.7h-1.3zM613.6 19.0h1.2v6.1h-1.2zM614.5 50.1h1.2v39.9h-1.2zM614.5 17.0h1.2v0.7h-1.2zM615.4 19.0h1.2v4.1h-1.2zM616.2 34.5h1.2v6.8h-1.2zM617.1 18.3h1.2v0.7h-1.2zM618.0 17.6h1.2v0.7h-1.2zM618.9 46.0h1.2v11.5h-1.2zM619.8 17.6h1.2v0.7h-1.2zM620.7 17.6h1.2v0.7h-1.2zM620.7 16.3h1.2v0.7h-1.2zM621.6 19.0h1.2v12.9h-1.2zM624.4 29.8h1.2v11.5h-1.2zM624.4 17.6h1.2v0.7h-1.2zM624.4 16.3h1.2v0.7h-1.2zM625.3 25.7h1.2v8.8h-1.2zM626.2 34.5h1.2v14.9h-1.2zM626.2 17.6h1.2v0.7h-1.2zM627.1 23.0h1.2v10.2h-1.2zM629.8 17.6h1.2v35.2h-1.2zM631.7 18.3h1.2v0.7h-1.2zM633.5 19.0h1.2v11.5h-1.2zM635.4 15.6h1.2v0.7h-1.2zM636.3 32.5h1.2v17.0h-1.2zM636.3 18.3h1.2v0.7h-1.2zM637.2 38.6h1.2v15.6h-1.2zM637.2 19.0h1.2v4.1h-1.2zM637.2 16.3h1.2v0.7h-1.2zM638.2 17.0h1.2v2.1h-1.2zM639.1 15.6h1.2v0.7h-1.2zM640.0 19.0h1.2v4.8h-1.2zM641.8 42.0h1.2v6.1h-1.2zM644.4 54.8h1.2v9.5h-1.2zM645.3 17.6h1.2v0.7h-1.2zM646.2 17.6h1.2v0.7h-1.2zM648.0 76.4h1.3v12.2h-1.3zM648.0 18.3h1.3v5.5h-1.3zM652.9 17.0h1.2v0.7h-1.2zM653.7 43.3h1.2v8.8h-1.2zM653.7 18.3h1.2v0.7h-1.2zM658.1 16.3h1.2v0.7h-1.2zM660.7 27.8h1.2v10.9h-1.2zM660.7 19.0h1.2v4.8h-1.2z" shape-rendering="crispEdges"/>
<path fill="#8fdcc6" d="M519.0 17.0h1.3v0.7h-1.3zM520.0 17.0h1.3v0.7h-1.3zM521.0 15.6h1.3v0.7h-1.3zM522.0 17.0h1.2v0.7h-1.2zM522.9 17.6h1.2v0.7h-1.2zM522.9 15.6h1.2v0.7h-1.2zM523.8 18.3h1.2v0.7h-1.2zM523.8 15.6h1.2v0.7h-1.2zM524.7 18.3h1.2v0.7h-1.2zM526.4 17.0h1.2v0.7h-1.2zM526.4 15.6h1.2v0.7h-1.2zM527.3 17.6h1.2v0.7h-1.2zM528.2 16.3h1.2v0.7h-1.2zM529.1 15.6h1.2v1.4h-1.2zM530.0 17.0h1.2v0.7h-1.2zM530.9 17.0h1.2v0.7h-1.2zM530.9 15.6h1.2v0.7h-1.2zM532.7 17.0h1.2v0.7h-1.2zM533.6 17.6h1.2v0.7h-1.2zM535.3 15.6h1.2v1.4h-1.2zM539.0 16.3h1.3v1.4h-1.3zM540.0 18.3h1.3v0.7h-1.3zM540.0 17.0h1.3v0.7h-1.3zM541.0 18.3h1.3v0.7h-1.3zM541.0 15.6h1.3v2.1h-1.3zM542.9 17.0h1.2v0.7h-1.2zM546.4 18.3h1.2v0.7h-1.2zM546.4 15.6h1.2v0.7h-1.2zM549.1 18.3h1.2v0.7h-1.2zM550.0 18.3h1.2v0.7h-1.2zM550.0 16.3h1.2v0.7h-1.2zM550.9 17.6h1.2v1.4h-1.2zM552.7 17.6h1.2v0.7h-1.2zM553.6 17.0h1.2v0.7h-1.2zM554.4 18.3h1.2v0.7h-1.2zM555.3 17.0h1.2v0.7h-1.2zM557.1 17.0h1.2v0.7h-1.2zM558.0 17.0h1.3v0.7h-1.3zM560.0 15.6h1.3v0.7h-1.3zM561.0 17.6h1.3v0.7h-1.3zM561.0 15.6h1.3v1.4h-1.3zM562.0 17.6h1.3v0.7h-1.3zM564.0 16.3h1.3v1.4h-1.3zM566.0 17.0h1.3v0.7h-1.3zM567.0 18.3h1.3v0.7h-1.3zM568.0 16.3h1.3v1.4h-1.3zM570.0 16.3h1.3v2.1h-1.3zM571.0 18.3h1.2v0.7h-1.2zM571.9 17.0h1.2v0.7h-1.2zM574.6 18.3h1.2v0.7h-1.2zM574.6 16.3h1.2v0.7h-1.2zM575.5 15.6h1.2v0.7h-1.2zM576.4 18.3h1.2v0.7h-1.2zM577.3 15.6h1.2v1.4h-1.2zM579.1 17.0h1.2v0.7h-1.2zM580.0 18.3h1.2v0.7h-1.2zM581.8 18.3h1.2v0.7h-1.2zM583.6 18.3h1.2v0.7h-1.2zM584.5 17.6h1.2v0.7h-1.2zM585.5 17.0h1.2v0.7h-1.2zM586.4 17.6h1.2v0.7h-1.2zM586.4 16.3h1.2v0.7h-1.2zM587.3 15.6h1.2v0.7h-1.2zM588.2 18.3h1.2v0.7h-1.2zM588.2 15.6h1.2v0.7h-1.2zM589.1 18.3h1.2v0.7h-1.2zM590.0 18.3h1.2v0.7h-1.2zM591.7 17.6h1.2v1.4h-1.2zM591.7 15.6h1.2v0.7h-1.2zM592.6 17.6h1.2v0.7h-1.2zM592.6 16.3h1.2v0.7h-1.2zM593.4 18.3h1.2v0.7h-1.2zM594.3 17.0h1.2v2.1h-1.2zM595.1 18.3h1.2v0.7h-1.2zM597.0 17.6h1.3v0.7h-1.3zM601.0 17.0h1.3v0.7h-1.3zM602.0 16.3h1.3v1.4h-1.3zM603.0 18.3h1.3v0.7h-1.3zM603.0 17.0h1.3v0.7h-1.3zM604.0 18.3h1.3v0.7h-1.3zM604.0 15.6h1.3v0.7h-1.3zM605.0 16.3h1.3v0.7h-1.3zM607.0 17.6h1.3v0.7h-1.3zM607.0 15.6h1.3v1.4h-1.3zM608.0 17.6h1.3v0.7h-1.3zM609.0 16.3h1.3v0.7h-1.3zM610.0 15.6h1.3v0.7h-1.3zM611.0 17.6h1.2v0.7h-1.2zM611.9 16.3h1.2v0.7h-1.2zM615.4 18.3h1.2v0.7h-1.2zM615.4 16.3h1.2v0.7h-1.2zM617.1 17.0h1.2v0.7h-1.2zM618.0 17.0h1.2v0.7h-1.2zM618.9 16.3h1.2v1.4h-1.2zM619.8 16.3h1.2v1.4h-1.2zM621.6 15.6h1.2v1.4h-1.2zM622.5 18.3h1.2v0.7h-1.2zM622.5 17.0h1.2v0.7h-1.2zM622.5 15.6h1.2v0.7h-1.2zM623.5 16.3h1.2v1.4h-1.2zM625.3 17.6h1.2v0.7h-1.2zM626.2 16.3h1.2v0.7h-1.2zM628.0 18.3h1.2v0.7h-1.2zM628.0 17.0h1.2v0.7h-1.2zM628.9 17.6h1.2v0.7h-1.2zM628.9 16.3h1.2v0.7h-1.2zM629.8 17.0h1.2v0.7h-1.2zM629.8 15.6h1.2v0.7h-1.2zM630.8 17.6h1.2v1.4h-1.2zM631.7 17.0h1.2v1.4h-1.2zM631.7 15.6h1.2v0.7h-1.2zM632.6 17.6h1.2v1.4h-1.2zM632.6 15.6h1.2v0.7h-1.2zM634.5 17.0h1.2v2.1h-1.2zM635.4 16.3h1.2v0.7h-1.2zM636.3 15.6h1.2v0.7h-1.2zM638.2 15.6h1.2v0.7h-1.2zM639.1 18.3h1.2v0.7h-1.2zM640.0 18.3h1.2v0.7h-1.2zM640.0 16.3h1.2v0.7h-1.2zM640.9 16.3h1.2v1.4h-1.2zM641.8 15.6h1.2v0.7h-1.2zM644.4 16.3h1.2v1.4h-1.2zM646.2 18.3h1.2v0.7h-1.2zM646.2 17.0h1.2v0.7h-1.2zM647.1 17.6h1.2v0.7h-1.2zM647.1 16.3h1.2v0.7h-1.2zM648.0 15.6h1.3v0.7h-1.3zM649.0 18.3h1.3v0.7h-1.3zM650.0 17.6h1.3v0.7h-1.3zM651.0 18.3h1.3v0.7h-1.3zM651.0 17.0h1.3v0.7h-1.3zM651.0 15.6h1.3v0.7h-1.3zM652.9 16.3h1.2v0.7h-1.2zM655.5 18.3h1.2v0.7h-1.2zM655.5 17.0h1.2v0.7h-1.2zM656.4 17.6h1.2v0.7h-1.2zM657.2 17.6h1.2v0.7h-1.2zM657.2 16.3h1.2v0.7h-1.2zM659.0 17.6h1.2v0.7h-1.2zM659.9 17.6h1.2v0.7h-1.2z" shape-rendering="crispEdges"/>
<path fill="#f4f7b3" d="M519.0 16.3h1.3v0.7h-1.3zM522.9 18.3h1.2v0.7h-1.2zM523.8 16.3h1.2v0.7h-1.2zM525.6 17.6h1.2v0.7h-1.2zM526.4 18.3h1.2v0.7h-1.2zM528.2 18.3h1.2v0.7h-1.2zM530.9 17.6h1.2v0.7h-1.2zM530.9 16.3h1.2v0.7h-1.2zM532.7 17.6h1.2v0.7h-1.2zM533.6 18.3h1.2v0.7h-1.2zM534.4 17.0h1.2v0.7h-1.2zM536.2 17.0h1.2v0.7h-1.2zM538.0 17.0h1.3v0.7h-1.3zM540.0 16.3h1.3v0.7h-1.3zM542.9 18.3h1.2v0.7h-1.2zM542.9 15.6h1.2v0.7h-1.2zM544.7 17.6h1.2v0.7h-1.2zM544.7 15.6h1.2v0.7h-1.2zM546.4 17.0h1.2v0.7h-1.2zM547.3 17.0h1.2v0.7h-1.2zM548.2 15.6h1.2v0.7h-1.2zM552.7 18.3h1.2v0.7h-1.2zM552.7 16.3h1.2v1.4h-1.2zM553.6 18.3h1.2v0.7h-1.2zM554.4 15.6h1.2v0.7h-1.2zM556.2 17.0h1.2v0.7h-1.2zM557.1 17.6h1.2v0.7h-1.2zM558.0 17.6h1.3v0.7h-1.3zM559.0 18.3h1.3v0.7h-1.3zM560.0 16.3h1.3v0.7h-1.3zM561.0 17.0h1.3v0.7h-1.3zM564.0 15.6h1.3v0.7h-1.3zM566.0 92.7h1.3v58.2h-1.3zM566.0 17.6h1.3v21.7h-1.3zM566.0 15.6h1.3v0.7h-1.3zM568.0 15.6h1.3v0.7h-1.3zM569.0 15.6h1.3v1.4h-1.3zM571.9 15.6h1.2v0.7h-1.2zM572.8 17.6h1.2v1.4h-1.2zM574.6 15.6h1.2v0.7h-1.2zM575.5 16.3h1.2v0.7h-1.2zM576.4 17.0h1.2v0.7h-1.2zM577.3 17.0h1.2v0.7h-1.2zM578.2 17.0h1.2v1.4h-1.2zM580.9 17.0h1.2v0.7h-1.2zM580.9 15.6h1.2v0.7h-1.2zM581.8 16.3h1.2v0.7h-1.2zM582.7 17.0h1.2v0.7h-1.2zM587.3 16.3h1.2v0.7h-1.2zM592.6 17.0h1.2v0.7h-1.2zM594.3 16.3h1.2v0.7h-1.2zM595.1 16.3h1.2v0.7h-1.2zM596.0 16.3h1.3v1.4h-1.3zM597.0 17.0h1.3v0.7h-1.3zM598.0 18.3h1.3v0.7h-1.3zM598.0 17.0h1.3v0.7h-1.3zM599.0 17.6h1.3v0.7h-1.3zM600.0 16.3h1.3v0.7h-1.3zM604.0 16.3h1.3v0.7h-1.3zM605.0 17.0h1.3v0.7h-1.3zM607.0 17.0h1.3v0.7h-1.3zM608.0 17.0h1.3v0.7h-1.3zM608.0 15.6h1.3v0.7h-1.3zM610.0 17.0h1.3v0.7h-1.3zM611.0 16.3h1.2v0.7h-1.2zM616.2 16.3h1.2v0.7h-1.2zM617.1 16.3h1.2v0.7h-1.2zM618.0 16.3h1.2v0.7h-1.2zM618.9 15.6h1.2v0.7h-1.2zM623.5 18.3h1.2v0.7h-1.2zM628.0 17.6h1.2v0.7h-1.2zM629.8 16.3h1.2v0.7h-1.2zM630.8 17.0h1.2v0.7h-1.2zM634.5 16.3h1.2v0.7h-1.2zM635.4 17.0h1.2v0.7h-1.2zM637.2 18.3h1.2v0.7h-1.2zM640.9 18.3h1.2v0.7h-1.2zM642.7 17.0h1.2v0.7h-1.2zM645.3 15.6h1.2v0.7h-1.2zM649.0 17.0h1.3v0.7h-1.3zM650.0 15.6h1.3v0.7h-1.3zM654.6 15.6h1.2v1.4h-1.2zM655.5 16.3h1.2v0.7h-1.2zM657.2 15.6h1.2v0.7h-1.2zM660.7 17.0h1.2v0.7h-1.2z" shape-rendering="crispEdges"/>
<path fill="#f5c6e0" d="M519.0 15.6h1.3v0.7h-1.3zM520.0 15.6h1.3v0.7h-1.3zM521.0 38.6h1.3v4.8h-1.3zM521.0 17.6h1.3v1.4h-1.3zM524.7 17.0h1.2v0.7h-1.2zM525.6 17.0h1.2v0.7h-1.2zM528.2 17.6h1.2v0.7h-1.2zM530.0 27.1h1.2v95.4h-1.2zM530.9 26.4h1.2v94.0h-1.2zM531.8 23.0h1.2v98.1h-1.2zM532.7 26.4h1.2v93.3h-1.2zM533.6 29.8h1.2v87.3h-1.2zM533.6 16.3h1.2v0.7h-1.2zM534.4 68.3h1.2v54.8h-1.2zM534.4 25.1h1.2v18.3h-1.2zM535.3 26.4h1.2v91.3h-1.2zM535.3 17.0h1.2v0.7h-1.2zM536.2 69.7h1.2v53.5h-1.2zM536.2 31.1h1.2v19.0h-1.2zM536.2 15.6h1.2v0.7h-1.2zM537.1 33.9h1.2v83.2h-1.2zM539.0 49.4h1.3v6.8h-1.3zM539.0 19.0h1.3v16.3h-1.3zM540.0 15.6h1.3v0.7h-1.3zM541.0 19.0h1.3v21.7h-1.3zM542.0 17.6h1.2v0.7h-1.2zM542.0 16.3h1.2v0.7h-1.2zM542.9 16.3h1.2v0.7h-1.2zM543.8 18.3h1.2v0.7h-1.2zM544.7 18.3h1.2v0.7h-1.2zM545.6 19.0h1.2v0.7h-1.2zM546.4 16.3h1.2v0.7h-1.2zM547.3 41.3h1.2v7.5h-1.2zM547.3 17.6h1.2v0.7h-1.2zM547.3 16.3h1.2v0.7h-1.2zM549.1 19.0h1.2v3.4h-1.2zM549.1 15.6h1.2v0.7h-1.2zM550.0 20.3h1.2v6.8h-1.2zM550.9 15.6h1.2v0.7h-1.2zM551.8 24.4h1.2v10.2h-1.2zM553.6 35.2h1.2v4.1h-1.2zM556.2 38.6h1.2v10.9h-1.2zM556.2 17.6h1.2v1.4h-1.2zM557.1 18.3h1.2v0.7h-1.2zM558.0 60.9h1.3v13.6h-1.3zM558.0 19.0h1.3v10.2h-1.3zM558.0 15.6h1.3v0.7h-1.3zM559.0 26.4h1.3v12.2h-1.3zM560.0 19.0h1.3v8.8h-1.3zM561.0 21.0h1.3v4.8h-1.3zM562.0 18.3h1.3v0.7h-1.3zM563.0 104.2h1.3v25.7h-1.3zM563.0 16.3h1.3v1.4h-1.3zM565.0 18.3h1.3v0.7h-1.3zM569.0 17.0h1.3v0.7h-1.3zM570.0 18.3h1.3v0.7h-1.3zM570.0 15.6h1.3v0.7h-1.3zM571.0 25.7h1.2v14.2h-1.2zM571.0 17.6h1.2v0.7h-1.2zM571.9 19.0h1.2v21.7h-1.2zM572.8 19.0h1.2v23.0h-1.2zM572.8 15.6h1.2v0.7h-1.2zM573.7 31.8h1.2v10.9h-1.2zM573.7 17.6h1.2v0.7h-1.2zM573.7 16.3h1.2v0.7h-1.2zM574.6 33.2h1.2v12.2h-1.2zM574.6 19.0h1.2v3.4h-1.2zM574.6 17.6h1.2v0.7h-1.2zM575.5 30.5h1.2v18.3h-1.2zM575.5 17.6h1.2v1.4h-1.2zM576.4 27.1h1.2v19.7h-1.2zM576.4 15.6h1.2v0.7h-1.2zM577.3 34.5h1.2v14.9h-1.2zM578.2 26.4h1.2v21.7h-1.2zM578.2 18.3h1.2v0.7h-1.2zM578.2 16.3h1.2v0.7h-1.2zM579.1 25.1h1.2v5.5h-1.2zM580.0 42.0h1.2v31.8h-1.2zM580.0 19.0h1.2v15.6h-1.2zM580.0 16.3h1.2v0.7h-1.2zM580.9 45.3h1.2v28.4h-1.2zM580.9 19.0h1.2v4.1h-1.2zM580.9 17.6h1.2v0.7h-1.2zM581.8 68.3h1.2v0.7h-1.2zM582.7 41.3h1.2v30.5h-1.2zM583.6 110.9h1.2v16.3h-1.2zM583.6 44.7h1.2v29.8h-1.2zM583.6 15.6h1.2v0.7h-1.2zM584.5 40.6h1.2v29.1h-1.2zM584.5 18.3h1.2v0.7h-1.2zM584.5 16.3h1.2v0.7h-1.2zM585.5 43.3h1.2v22.4h-1.2zM585.5 19.0h1.2v13.6h-1.2zM586.4 38.6h1.2v31.1h-1.2zM587.3 19.0h1.2v46.0h-1.2zM588.2 44.7h1.2v21.0h-1.2zM589.1 46.7h1.2v25.7h-1.2zM591.7 16.3h1.2v0.7h-1.2zM592.6 19.0h1.2v6.8h-1.2zM594.3 36.6h1.2v6.8h-1.2zM594.3 15.6h1.2v0.7h-1.2zM595.1 35.9h1.2v7.5h-1.2zM596.0 17.6h1.3v1.4h-1.3zM598.0 33.2h1.3v8.2h-1.3zM599.0 18.3h1.3v0.7h-1.3zM600.0 50.8h1.3v10.9h-1.3zM600.0 15.6h1.3v0.7h-1.3zM601.0 44.7h1.3v5.5h-1.3zM603.0 22.4h1.3v15.6h-1.3zM605.0 17.6h1.3v0.7h-1.3zM608.0 18.3h1.3v0.7h-1.3zM610.0 17.6h1.3v0.7h-1.3zM611.9 17.6h1.2v0.7h-1.2zM612.8 19.0h1.2v14.9h-1.2zM613.6 18.3h1.2v0.7h-1.2zM614.5 15.6h1.2v0.7h-1.2zM615.4 15.6h1.2v0.7h-1.2zM618.0 37.9h1.2v16.3h-1.2zM618.0 15.6h1.2v0.7h-1.2zM618.9 19.0h1.2v14.2h-1.2zM620.7 19.0h1.2v15.6h-1.2zM623.5 21.0h1.2v10.9h-1.2zM624.4 21.0h1.2v8.8h-1.2zM624.4 15.6h1.2v0.7h-1.2zM625.3 18.3h1.2v0.7h-1.2zM625.3 15.6h1.2v0.7h-1.2zM626.2 17.0h1.2v0.7h-1.2zM627.1 15.6h1.2v1.4h-1.2zM628.0 56.2h1.2v31.1h-1.2zM628.9 57.5h1.2v27.8h-1.2zM628.9 37.9h1.2v11.5h-1.2zM628.9 19.0h1.2v8.2h-1.2zM629.8 52.8h1.2v29.8h-1.2zM630.8 51.4h1.2v39.9h-1.2zM630.8 30.5h1.2v7.5h-1.2zM630.8 15.6h1.2v0.7h-1.2zM631.7 51.4h1.2v37.2h-1.2zM631.7 19.0h1.2v9.5h-1.2zM631.7 16.3h1.2v0.7h-1.2zM632.6 56.2h1.2v33.2h-1.2zM632.6 44.0h1.2v8.2h-1.2zM632.6 25.1h1.2v4.1h-1.2zM633.5 58.9h1.2v20.3h-1.2zM634.5 102.8h1.2v19.7h-1.2zM634.5 50.1h1.2v32.5h-1.2zM635.4 90.6h1.2v8.8h-1.2zM635.4 53.5h1.2v27.1h-1.2zM636.3 49.4h1.2v27.8h-1.2zM636.3 19.0h1.2v13.6h-1.2zM637.2 58.2h1.2v23.7h-1.2zM638.2 61.6h1.2v18.3h-1.2zM639.1 55.5h1.2v17.0h-1.2zM640.0 23.7h1.2v14.9h-1.2zM643.6 16.3h1.2v1.4h-1.2zM644.4 36.6h1.2v18.3h-1.2zM644.4 19.0h1.2v8.8h-1.2zM646.2 42.0h1.2v25.1h-1.2zM647.1 18.3h1.2v0.7h-1.2zM647.1 17.0h1.2v0.7h-1.2zM647.1 15.6h1.2v0.7h-1.2zM648.0 16.3h1.3v0.7h-1.3zM649.0 24.4h1.3v2.1h-1.3zM650.0 17.0h1.3v0.7h-1.3zM652.0 39.9h1.2v17.6h-1.2zM652.0 17.6h1.2v0.7h-1.2zM652.0 15.6h1.2v0.7h-1.2zM652.9 50.1h1.2v20.3h-1.2zM652.9 18.3h1.2v7.5h-1.2zM656.4 36.6h1.2v5.5h-1.2zM657.2 27.1h1.2v14.9h-1.2zM657.2 17.0h1.2v0.7h-1.2zM658.1 17.0h1.2v0.7h-1.2zM658.1 15.6h1.2v0.7h-1.2zM659.0 37.2h1.2v19.7h-1.2zM659.0 16.3h1.2v0.7h-1.2zM660.7 38.6h1.2v18.3h-1.2zM660.7 15.6h1.2v0.7h-1.2z" shape-rendering="crispEdges"/>
<path fill="#a8d0e4" d="M521.0 19.0h1.3v8.2h-1.3zM524.7 16.3h1.2v0.7h-1.2zM525.6 15.6h1.2v0.7h-1.2zM530.0 122.4h1.2v25.7h-1.2zM530.9 120.4h1.2v19.7h-1.2zM531.8 121.1h1.2v19.0h-1.2zM531.8 18.3h1.2v0.7h-1.2zM532.7 119.7h1.2v26.4h-1.2zM532.7 18.3h1.2v0.7h-1.2zM533.6 117.0h1.2v24.4h-1.2zM533.6 19.0h1.2v10.9h-1.2zM533.6 17.0h1.2v0.7h-1.2zM534.4 123.1h1.2v26.4h-1.2zM534.4 15.6h1.2v0.7h-1.2zM535.3 117.7h1.2v27.8h-1.2zM536.2 123.1h1.2v10.9h-1.2zM536.2 19.0h1.2v3.4h-1.2zM537.1 117.0h1.2v18.3h-1.2zM537.1 15.6h1.2v0.7h-1.2zM538.0 18.3h1.3v0.7h-1.3zM539.0 15.6h1.3v0.7h-1.3zM540.0 23.7h1.3v12.9h-1.3zM542.0 15.6h1.2v0.7h-1.2zM543.8 17.6h1.2v0.7h-1.2zM543.8 15.6h1.2v0.7h-1.2zM544.7 35.2h1.2v7.5h-1.2zM544.7 17.0h1.2v0.7h-1.2zM545.6 15.6h1.2v2.1h-1.2zM548.2 17.6h1.2v1.4h-1.2zM549.1 27.8h1.2v6.1h-1.2zM550.9 19.0h1.2v10.2h-1.2zM553.6 39.3h1.2v6.8h-1.2zM554.4 47.4h1.2v5.5h-1.2zM554.4 16.3h1.2v0.7h-1.2zM555.3 18.3h1.2v0.7h-1.2zM557.1 19.0h1.2v5.5h-1.2zM558.0 110.9h1.3v33.9h-1.3zM558.0 18.3h1.3v0.7h-1.3zM559.0 114.3h1.3v30.5h-1.3zM559.0 19.0h1.3v7.5h-1.3zM560.0 110.2h1.3v36.6h-1.3zM560.0 27.8h1.3v26.4h-1.3zM561.0 111.6h1.3v38.6h-1.3zM561.0 18.3h1.3v0.7h-1.3zM562.0 15.6h1.3v0.7h-1.3zM563.0 18.3h1.3v0.7h-1.3zM563.0 15.6h1.3v0.7h-1.3zM565.0 94.0h1.3v21.7h-1.3zM567.0 17.6h1.3v0.7h-1.3zM569.0 17.6h1.3v0.7h-1.3zM571.0 123.8h1.2v25.1h-1.2zM571.9 129.2h1.2v19.7h-1.2zM572.8 121.1h1.2v24.4h-1.2zM572.8 64.3h1.2v50.1h-1.2zM572.8 17.0h1.2v0.7h-1.2zM573.7 128.5h1.2v21.0h-1.2zM573.7 17.0h1.2v0.7h-1.2zM574.6 120.4h1.2v22.4h-1.2zM575.5 86.6h1.2v60.2h-1.2zM575.5 19.0h1.2v2.8h-1.2zM576.4 125.1h1.2v20.3h-1.2zM577.3 125.1h1.2v23.0h-1.2zM578.2 122.4h1.2v25.1h-1.2zM578.2 15.6h1.2v0.7h-1.2zM579.1 120.4h1.2v25.1h-1.2zM579.1 30.5h1.2v45.3h-1.2zM579.1 17.6h1.2v0.7h-1.2zM580.0 100.1h1.2v25.7h-1.2zM580.9 95.4h1.2v27.1h-1.2zM580.9 30.5h1.2v14.9h-1.2zM581.8 100.1h1.2v21.0h-1.2zM581.8 21.0h1.2v10.9h-1.2zM582.7 94.7h1.2v25.1h-1.2zM582.7 37.2h1.2v4.1h-1.2zM583.6 98.7h1.2v12.2h-1.2zM584.5 94.7h1.2v28.4h-1.2zM584.5 19.0h1.2v9.5h-1.2zM585.5 82.5h1.2v50.1h-1.2zM586.4 115.6h1.2v1.4h-1.2zM586.4 21.7h1.2v17.0h-1.2zM587.3 94.0h1.2v32.5h-1.2zM588.2 93.3h1.2v31.8h-1.2zM588.2 17.6h1.2v0.7h-1.2zM589.1 101.5h1.2v19.7h-1.2zM590.0 37.2h1.2v17.6h-1.2zM590.9 17.0h1.2v0.7h-1.2zM591.7 34.5h1.2v12.2h-1.2zM592.6 25.7h1.2v10.9h-1.2zM594.3 27.8h1.2v8.8h-1.2zM596.0 23.0h1.3v33.9h-1.3zM596.0 15.6h1.3v0.7h-1.3zM597.0 43.3h1.3v8.2h-1.3zM597.0 15.6h1.3v1.4h-1.3zM598.0 41.3h1.3v18.3h-1.3zM598.0 19.0h1.3v14.2h-1.3zM600.0 27.8h1.3v10.9h-1.3zM601.0 23.0h1.3v4.8h-1.3zM602.0 42.0h1.3v4.8h-1.3zM602.0 18.3h1.3v0.7h-1.3zM603.0 37.9h1.3v6.8h-1.3zM603.0 17.6h1.3v0.7h-1.3zM604.0 19.0h1.3v0.7h-1.3zM611.0 18.3h1.2v6.8h-1.2zM611.0 17.0h1.2v0.7h-1.2zM611.9 15.6h1.2v0.7h-1.2zM613.6 17.6h1.2v0.7h-1.2zM614.5 19.0h1.2v10.9h-1.2zM614.5 16.3h1.2v0.7h-1.2zM616.2 17.6h1.2v2.8h-1.2zM617.1 15.6h1.2v0.7h-1.2zM618.0 54.1h1.2v89.3h-1.2zM618.9 57.5h1.2v87.9h-1.2zM619.8 55.5h1.2v90.6h-1.2zM619.8 37.9h1.2v12.9h-1.2zM619.8 19.0h1.2v3.4h-1.2zM620.7 52.8h1.2v87.3h-1.2zM620.7 34.5h1.2v6.1h-1.2zM621.6 89.3h1.2v60.9h-1.2zM621.6 54.8h1.2v17.0h-1.2zM622.5 33.9h1.2v112.3h-1.2zM622.5 19.0h1.2v4.8h-1.2zM623.5 31.8h1.2v111.6h-1.2zM623.5 19.0h1.2v2.1h-1.2zM624.4 51.4h1.2v94.0h-1.2zM624.4 18.3h1.2v2.8h-1.2zM625.3 48.7h1.2v96.7h-1.2zM625.3 17.0h1.2v0.7h-1.2zM626.2 49.4h1.2v98.1h-1.2zM626.2 18.3h1.2v0.7h-1.2zM627.1 33.2h1.2v108.9h-1.2zM627.1 17.6h1.2v0.7h-1.2zM628.0 87.3h1.2v52.8h-1.2zM628.0 42.6h1.2v13.6h-1.2zM628.9 85.2h1.2v40.6h-1.2zM629.8 82.5h1.2v59.5h-1.2zM630.8 91.3h1.2v37.2h-1.2zM631.7 88.6h1.2v27.1h-1.2zM631.7 28.4h1.2v2.1h-1.2zM632.6 89.3h1.2v41.3h-1.2zM632.6 19.0h1.2v6.1h-1.2zM632.6 16.3h1.2v0.7h-1.2zM633.5 79.1h1.2v57.5h-1.2zM633.5 30.5h1.2v11.5h-1.2zM634.5 122.4h1.2v8.8h-1.2zM634.5 82.5h1.2v20.3h-1.2zM634.5 39.9h1.2v10.2h-1.2zM635.4 99.4h1.2v42.6h-1.2zM635.4 80.5h1.2v10.2h-1.2zM635.4 19.0h1.2v27.8h-1.2zM636.3 77.1h1.2v45.3h-1.2zM636.3 17.0h1.2v1.4h-1.2zM637.2 81.8h1.2v39.3h-1.2zM637.2 54.1h1.2v4.1h-1.2zM637.2 17.6h1.2v0.7h-1.2zM638.2 79.8h1.2v44.7h-1.2zM639.1 72.4h1.2v56.8h-1.2zM639.1 19.0h1.2v36.6h-1.2zM639.1 16.3h1.2v0.7h-1.2zM640.9 50.1h1.2v4.8h-1.2zM640.9 17.6h1.2v0.7h-1.2zM640.9 15.6h1.2v0.7h-1.2zM641.8 16.3h1.2v0.7h-1.2zM642.7 19.0h1.2v2.1h-1.2zM642.7 15.6h1.2v0.7h-1.2zM645.3 18.3h1.2v0.7h-1.2zM645.3 17.0h1.2v0.7h-1.2zM646.2 67.0h1.2v4.1h-1.2zM646.2 16.3h1.2v0.7h-1.2zM648.0 70.4h1.3v6.1h-1.3zM649.0 19.0h1.3v5.5h-1.3zM650.0 19.0h1.3v7.5h-1.3zM651.0 17.6h1.3v0.7h-1.3zM652.0 25.7h1.2v7.5h-1.2zM652.0 16.3h1.2v0.7h-1.2zM652.9 42.6h1.2v7.5h-1.2zM653.7 15.6h1.2v1.4h-1.2zM654.6 17.0h1.2v0.7h-1.2zM656.4 50.8h1.2v6.8h-1.2zM656.4 18.3h1.2v9.5h-1.2zM656.4 15.6h1.2v0.7h-1.2zM657.2 42.0h1.2v11.5h-1.2zM658.1 46.0h1.2v12.9h-1.2zM658.1 19.0h1.2v14.9h-1.2zM659.0 19.0h1.2v18.3h-1.2zM659.9 18.3h1.2v0.7h-1.2z" shape-rendering="crispEdges"/>
<path fill="#bcb8dc" d="M522.0 17.6h1.2v0.7h-1.2zM522.0 16.3h1.2v0.7h-1.2zM527.3 18.3h1.2v0.7h-1.2zM528.2 17.0h1.2v0.7h-1.2zM528.2 15.6h1.2v0.7h-1.2zM529.1 18.3h1.2v0.7h-1.2zM529.1 17.0h1.2v0.7h-1.2zM530.0 17.6h1.2v0.7h-1.2zM531.8 16.3h1.2v1.4h-1.2zM532.7 15.6h1.2v1.4h-1.2zM536.2 16.3h1.2v0.7h-1.2zM537.1 16.3h1.2v0.7h-1.2zM538.0 17.6h1.3v0.7h-1.3zM538.0 16.3h1.3v0.7h-1.3zM539.0 18.3h1.3v0.7h-1.3zM540.0 17.6h1.3v0.7h-1.3zM542.9 17.6h1.2v0.7h-1.2zM546.4 17.6h1.2v0.7h-1.2zM547.3 18.3h1.2v0.7h-1.2zM548.2 16.3h1.2v0.7h-1.2zM550.0 17.0h1.2v0.7h-1.2zM551.8 17.6h1.2v1.4h-1.2zM551.8 16.3h1.2v0.7h-1.2zM553.6 17.6h1.2v0.7h-1.2zM553.6 16.3h1.2v0.7h-1.2zM554.4 17.6h1.2v0.7h-1.2zM555.3 17.6h1.2v0.7h-1.2zM559.0 17.6h1.3v0.7h-1.3zM563.0 17.6h1.3v0.7h-1.3zM565.0 17.6h1.3v0.7h-1.3zM565.0 16.3h1.3v0.7h-1.3zM567.0 15.6h1.3v0.7h-1.3zM568.0 17.6h1.3v0.7h-1.3zM571.0 16.3h1.2v0.7h-1.2zM571.9 18.3h1.2v0.7h-1.2zM573.7 18.3h1.2v0.7h-1.2zM576.4 16.3h1.2v0.7h-1.2zM577.3 18.3h1.2v0.7h-1.2zM579.1 15.6h1.2v0.7h-1.2zM580.0 17.6h1.2v0.7h-1.2zM580.9 18.3h1.2v0.7h-1.2zM580.9 16.3h1.2v0.7h-1.2zM581.8 17.6h1.2v0.7h-1.2zM585.5 18.3h1.2v0.7h-1.2zM586.4 17.0h1.2v0.7h-1.2zM587.3 17.6h1.2v0.7h-1.2zM589.1 16.3h1.2v0.7h-1.2zM590.0 15.6h1.2v0.7h-1.2zM590.9 15.6h1.2v0.7h-1.2zM593.4 16.3h1.2v0.7h-1.2zM599.0 16.3h1.3v1.4h-1.3zM600.0 17.6h1.3v1.4h-1.3zM601.0 17.6h1.3v0.7h-1.3zM605.0 18.3h1.3v0.7h-1.3zM605.0 15.6h1.3v0.7h-1.3zM606.0 17.0h1.3v0.7h-1.3zM606.0 15.6h1.3v0.7h-1.3zM609.0 18.3h1.3v0.7h-1.3zM609.0 15.6h1.3v0.7h-1.3zM611.9 17.0h1.2v0.7h-1.2zM612.8 17.6h1.2v0.7h-1.2zM612.8 15.6h1.2v0.7h-1.2zM613.6 16.3h1.2v0.7h-1.2zM618.9 17.6h1.2v0.7h-1.2zM619.8 18.3h1.2v0.7h-1.2zM620.7 18.3h1.2v0.7h-1.2zM620.7 15.6h1.2v0.7h-1.2zM621.6 17.6h1.2v0.7h-1.2zM624.4 17.0h1.2v0.7h-1.2zM626.2 15.6h1.2v0.7h-1.2zM627.1 18.3h1.2v0.7h-1.2zM627.1 17.0h1.2v0.7h-1.2zM628.0 15.6h1.2v0.7h-1.2zM628.9 18.3h1.2v0.7h-1.2zM632.6 17.0h1.2v0.7h-1.2zM633.5 17.6h1.2v1.4h-1.2zM634.5 15.6h1.2v0.7h-1.2zM635.4 18.3h1.2v0.7h-1.2zM637.2 15.6h1.2v0.7h-1.2zM639.1 17.0h1.2v0.7h-1.2zM640.0 15.6h1.2v0.7h-1.2zM641.8 17.0h1.2v2.1h-1.2zM642.7 16.3h1.2v0.7h-1.2zM643.6 17.6h1.2v0.7h-1.2zM645.3 16.3h1.2v0.7h-1.2zM646.2 15.6h1.2v0.7h-1.2zM648.0 17.0h1.3v1.4h-1.3zM649.0 17.6h1.3v0.7h-1.3zM652.0 18.3h1.2v0.7h-1.2zM652.9 17.6h1.2v0.7h-1.2zM654.6 17.6h1.2v0.7h-1.2zM656.4 17.0h1.2v0.7h-1.2zM659.0 18.3h1.2v0.7h-1.2zM659.9 17.0h1.2v0.7h-1.2zM659.9 15.6h1.2v0.7h-1.2zM660.7 17.6h1.2v0.7h-1.2z" shape-rendering="crispEdges"/>
<path fill="#e9a65b" d="M562.0 19.0h1.3v131.9h-1.3zM563.0 129.8h1.3v15.6h-1.3zM563.0 23.0h1.3v81.2h-1.3zM564.0 19.0h1.3v131.9h-1.3zM565.0 115.6h1.3v35.2h-1.3zM565.0 19.0h1.3v75.1h-1.3z" shape-rendering="crispEdges"/>
<path fill="#ef766d" d="M567.0 77.8h1.3v24.4h-1.3zM567.0 24.4h1.3v40.6h-1.3zM568.0 85.9h1.3v8.8h-1.3zM568.0 19.0h1.3v35.2h-1.3zM569.0 21.0h1.3v82.5h-1.3zM570.0 60.9h1.3v40.6h-1.3z" shape-rendering="crispEdges"/>
<path fill="#3f80bd" d="M590.0 54.8h1.2v83.2h-1.2zM590.9 50.8h1.2v98.7h-1.2zM591.7 52.1h1.2v93.3h-1.2zM592.6 79.1h1.2v67.0h-1.2zM593.4 59.5h1.2v87.3h-1.2zM594.3 56.8h1.2v90.0h-1.2zM595.1 54.8h1.2v90.0h-1.2zM600.0 61.6h1.3v58.2h-1.3zM601.0 50.1h1.3v81.2h-1.3zM602.0 72.4h1.3v65.6h-1.3zM603.0 57.5h1.3v61.6h-1.3zM611.0 123.1h1.2v10.2h-1.2zM611.9 119.7h1.2v26.4h-1.2zM612.8 123.8h1.2v23.0h-1.2zM613.6 125.1h1.2v19.0h-1.2zM614.5 129.2h1.2v3.4h-1.2zM615.4 128.5h1.2v11.5h-1.2zM616.2 122.4h1.2v13.6h-1.2zM617.1 127.1h1.2v10.2h-1.2z" shape-rendering="crispEdges"/>
<path fill="#7fb1d4" d="M604.0 19.7h1.3v117.7h-1.3zM605.0 110.9h1.3v29.1h-1.3zM605.0 25.1h1.3v54.8h-1.3zM606.0 26.4h1.3v112.3h-1.3zM607.0 19.0h1.3v115.0h-1.3z" shape-rendering="crispEdges"/>
<rect x="366.00" y="15.60" width="150.00" height="135.20" fill="none" stroke="#9a9a9a" stroke-width="0.8"/>
<rect x="519.00" y="15.60" width="142.60" height="135.20" fill="none" stroke="#9a9a9a" stroke-width="0.8"/>
<line x1="364.20" y1="150.80" x2="366.00" y2="150.80" stroke="#333" stroke-width="0.7"/>
<text x="362.00" y="153.20" font-size="6.8" font-weight="bold" text-anchor="end" fill="#222">0</text>
<line x1="364.20" y1="117.00" x2="366.00" y2="117.00" stroke="#333" stroke-width="0.7"/>
<text x="362.00" y="119.40" font-size="6.8" font-weight="bold" text-anchor="end" fill="#222">25</text>
<line x1="364.20" y1="83.20" x2="366.00" y2="83.20" stroke="#333" stroke-width="0.7"/>
<text x="362.00" y="85.60" font-size="6.8" font-weight="bold" text-anchor="end" fill="#222">50</text>
<line x1="364.20" y1="49.40" x2="366.00" y2="49.40" stroke="#333" stroke-width="0.7"/>
<text x="362.00" y="51.80" font-size="6.8" font-weight="bold" text-anchor="end" fill="#222">75</text>
<line x1="364.20" y1="15.60" x2="366.00" y2="15.60" stroke="#333" stroke-width="0.7"/>
<text x="362.00" y="18.00" font-size="6.8" font-weight="bold" text-anchor="end" fill="#222">100</text>
<text x="443.00" y="10.20" font-size="8.7" font-weight="bold" text-anchor="middle" fill="#111" textLength="68.30" lengthAdjust="spacingAndGlyphs">Healthy controls</text>
<text x="594.50" y="10.20" font-size="8.7" font-weight="bold" text-anchor="middle" fill="#111" textLength="51.30" lengthAdjust="spacingAndGlyphs">IBD patients</text>
<text x="337.80" y="82.60" font-size="8.9" font-weight="bold" text-anchor="middle" fill="#1a1a1a" transform="rotate(-90 337.80 82.60)" textLength="83.60" lengthAdjust="spacingAndGlyphs">Relative abundance</text>
<text x="347.80" y="83.00" font-size="8.9" font-weight="bold" text-anchor="middle" fill="#1a1a1a" transform="rotate(-90 347.80 83.00)" textLength="88.70" lengthAdjust="spacingAndGlyphs">at the genus level (%)</text>
<text x="318.90" y="10.90" font-size="14" font-weight="bold" text-anchor="start" fill="#111">b</text>
<rect x="337.00" y="155.50" width="10.30" height="8.60" fill="#4fae3a"/>
<text x="349.60" y="162.50" font-size="7.5" font-weight="bold" text-anchor="start" fill="#111">Pichia</text>
<rect x="337.00" y="165.10" width="10.30" height="8.60" fill="#b3e08b"/>
<text x="349.60" y="172.10" font-size="7.5" font-weight="bold" text-anchor="start" fill="#111">Aspergillus</text>
<rect x="337.00" y="174.70" width="10.30" height="8.60" fill="#3f80bd"/>
<text x="349.60" y="181.70" font-size="7.5" font-weight="bold" text-anchor="start" fill="#111">Rhizopus</text>
<rect x="391.00" y="155.50" width="10.30" height="8.60" fill="#a8d0e4"/>
<text x="403.60" y="162.50" font-size="7.5" font-weight="bold" text-anchor="start" fill="#111">Cyberlindnera</text>
<rect x="391.00" y="165.10" width="10.30" height="8.60" fill="#eff06c"/>
<text x="403.60" y="172.10" font-size="7.5" font-weight="bold" text-anchor="start" fill="#111">Aureobasidium</text>
<rect x="391.00" y="174.70" width="10.30" height="8.60" fill="#cbf0c6"/>
<text x="403.60" y="181.70" font-size="7.5" font-weight="bold" text-anchor="start" fill="#111">Pseudopithomyces</text>
<rect x="476.00" y="155.50" width="10.30" height="8.60" fill="#b97fcb"/>
<text x="488.60" y="162.50" font-size="7.5" font-weight="bold" text-anchor="start" fill="#111">other</text>
<rect x="476.00" y="165.10" width="10.30" height="8.60" fill="#d9d9d9"/>
<text x="488.60" y="172.10" font-size="7.5" font-weight="bold" text-anchor="start" fill="#111">Saccharomyces</text>
<rect x="476.00" y="174.70" width="10.30" height="8.60" fill="#f5c6e0"/>
<text x="488.60" y="181.70" font-size="7.5" font-weight="bold" text-anchor="start" fill="#111">Penicillium</text>
<rect x="547.50" y="155.50" width="10.30" height="8.60" fill="#b9e66d"/>
<text x="560.10" y="162.50" font-size="7.5" font-weight="bold" text-anchor="start" fill="#111">Fusarium</text>
<rect x="547.50" y="165.10" width="10.30" height="8.60" fill="#e9a65b"/>
<text x="560.10" y="172.10" font-size="7.5" font-weight="bold" text-anchor="start" fill="#111">Candida</text>
<rect x="547.50" y="174.70" width="10.30" height="8.60" fill="#7fb1d4"/>
<text x="560.10" y="181.70" font-size="7.5" font-weight="bold" text-anchor="start" fill="#111">Purpureocillium</text>
<rect x="619.50" y="155.50" width="10.30" height="8.60" fill="#ef766d"/>
<text x="632.10" y="162.50" font-size="7.5" font-weight="bold" text-anchor="start" fill="#111">Lodderomyces</text>
<rect x="619.50" y="165.10" width="10.30" height="8.60" fill="#bcb8dc"/>
<text x="632.10" y="172.10" font-size="7.5" font-weight="bold" text-anchor="start" fill="#111">Trametes</text>
<rect x="619.50" y="174.70" width="10.30" height="8.60" fill="#f4f7b3"/>
<text x="632.10" y="181.70" font-size="7.5" font-weight="bold" text-anchor="start" fill="#111">Phialophora</text>
<rect x="619.50" y="184.30" width="10.30" height="8.60" fill="#8fdcc6"/>
<text x="632.10" y="191.30" font-size="7.5" font-weight="bold" text-anchor="start" fill="#111">Barnettozyma</text>
<rect x="71.50" y="212.40" width="171.50" height="31.00" fill="none" stroke="#8c8c8c" stroke-width="0.7"/>
<rect x="71.50" y="245.40" width="171.50" height="23.60" fill="none" stroke="#8c8c8c" stroke-width="0.7"/>
<line x1="113.00" y1="217.50" x2="135.30" y2="217.50" stroke="#a9c4f0" stroke-width="0.6"/>
<line x1="158.00" y1="217.50" x2="186.70" y2="217.50" stroke="#a9c4f0" stroke-width="0.6"/>
<rect x="135.30" y="214.00" width="22.70" height="7.00" fill="#6a9ef2"/>
<line x1="140.70" y1="214.00" x2="140.70" y2="221.00" stroke="#333" stroke-width="0.6"/>
<rect x="192.10" y="216.70" width="1.80" height="1.60" fill="#222"/>
<rect x="203.10" y="216.70" width="1.80" height="1.60" fill="#222"/>
<rect x="212.10" y="216.70" width="1.80" height="1.60" fill="#222"/>
<rect x="216.10" y="216.70" width="1.80" height="1.60" fill="#222"/>
<rect x="220.10" y="216.70" width="1.80" height="1.60" fill="#222"/>
<line x1="79.40" y1="227.15" x2="109.20" y2="227.15" stroke="#9be39b" stroke-width="0.6"/>
<line x1="166.80" y1="227.15" x2="227.00" y2="227.15" stroke="#9be39b" stroke-width="0.6"/>
<rect x="109.20" y="223.80" width="57.60" height="6.70" fill="#44cc44"/>
<line x1="132.30" y1="223.80" x2="132.30" y2="230.50" stroke="#333" stroke-width="0.6"/>
<line x1="101.80" y1="237.05" x2="138.00" y2="237.05" stroke="#f0aaaa" stroke-width="0.6"/>
<line x1="205.30" y1="237.05" x2="235.00" y2="237.05" stroke="#f0aaaa" stroke-width="0.6"/>
<rect x="138.00" y="233.70" width="67.30" height="6.70" fill="#e86d6d"/>
<line x1="164.30" y1="233.70" x2="164.30" y2="240.40" stroke="#333" stroke-width="0.6"/>
<line x1="79.00" y1="251.70" x2="121.00" y2="251.70" stroke="#f2b19a" stroke-width="0.6"/>
<line x1="158.90" y1="251.70" x2="212.00" y2="251.70" stroke="#f2b19a" stroke-width="0.6"/>
<rect x="121.00" y="247.60" width="37.90" height="8.20" fill="#e8673f"/>
<line x1="137.00" y1="247.60" x2="137.00" y2="255.80" stroke="#333" stroke-width="0.6"/>
<rect x="216.10" y="250.90" width="1.80" height="1.60" fill="#222"/>
<rect x="221.10" y="250.90" width="1.80" height="1.60" fill="#222"/>
<rect x="225.10" y="250.90" width="1.80" height="1.60" fill="#222"/>
<rect x="230.10" y="250.90" width="1.80" height="1.60" fill="#222"/>
<line x1="81.40" y1="263.25" x2="124.00" y2="263.25" stroke="#b5d3e6" stroke-width="0.6"/>
<line x1="197.80" y1="263.25" x2="235.00" y2="263.25" stroke="#b5d3e6" stroke-width="0.6"/>
<rect x="124.00" y="259.00" width="73.80" height="8.50" fill="#79aed0"/>
<line x1="145.00" y1="259.00" x2="145.00" y2="267.50" stroke="#333" stroke-width="0.6"/>
<text x="232.50" y="228.00" font-size="4.2" font-weight="normal" text-anchor="middle" fill="#222" transform="rotate(90 232.50 228.00)">p=0.0003</text>
<text x="236.00" y="228.00" font-size="4.2" font-weight="normal" text-anchor="middle" fill="#222" transform="rotate(90 236.00 228.00)">p=0.0025</text>
<text x="239.50" y="228.00" font-size="4.2" font-weight="normal" text-anchor="middle" fill="#222" transform="rotate(90 239.50 228.00)">p=0.0003</text>
<text x="236.50" y="258.00" font-size="4.2" font-weight="normal" text-anchor="middle" fill="#222" transform="rotate(90 236.50 258.00)">p=0.0019</text>
<text x="69.00" y="220.80" font-size="8.8" font-weight="bold" text-anchor="end" fill="#111">WengY_2019</text>
<text x="69.00" y="231.00" font-size="8.8" font-weight="bold" text-anchor="end" fill="#111">YanQ_2024</text>
<text x="69.00" y="242.20" font-size="8.8" font-weight="bold" text-anchor="end" fill="#111">HeQ_2017</text>
<text x="69.00" y="255.60" font-size="8.8" font-weight="bold" text-anchor="end" fill="#111">IBD patients</text>
<text x="69.00" y="267.00" font-size="8.8" font-weight="bold" text-anchor="end" fill="#111">Healthy controls</text>
<text x="1.80" y="215.50" font-size="14" font-weight="bold" text-anchor="start" fill="#111">c</text>
<circle cx="253.90" cy="237.00" r="3.10" fill="#111"/>
<path d="M253.9 244.3L257.3 250.6L250.5 250.6Z" fill="#111"/>
<rect x="250.80" y="254.60" width="6.20" height="6.20" fill="#111"/>
<line x1="263.70" y1="232.00" x2="263.70" y2="241.00" stroke="#aaa" stroke-width="0.5"/>
<rect x="260.00" y="233.70" width="7.40" height="5.60" fill="#e86d6d" stroke="#bbb" stroke-width="0.3"/>
<line x1="260.00" y1="236.50" x2="267.40" y2="236.50" stroke="#555" stroke-width="0.4"/>
<text x="269.60" y="238.20" font-size="8.9" font-weight="bold" text-anchor="start" fill="#111" textLength="41.40" lengthAdjust="spacingAndGlyphs">HeQ_2017</text>
<line x1="263.70" y1="242.70" x2="263.70" y2="251.70" stroke="#aaa" stroke-width="0.5"/>
<rect x="260.00" y="244.40" width="7.40" height="5.60" fill="#44cc44" stroke="#bbb" stroke-width="0.3"/>
<line x1="260.00" y1="247.20" x2="267.40" y2="247.20" stroke="#555" stroke-width="0.4"/>
<text x="269.60" y="249.90" font-size="8.9" font-weight="bold" text-anchor="start" fill="#111" textLength="46.80" lengthAdjust="spacingAndGlyphs">YanQ_2024</text>
<line x1="263.70" y1="253.20" x2="263.70" y2="262.20" stroke="#aaa" stroke-width="0.5"/>
<rect x="260.00" y="254.90" width="7.40" height="5.60" fill="#6a9ef2" stroke="#bbb" stroke-width="0.3"/>
<line x1="260.00" y1="257.70" x2="267.40" y2="257.70" stroke="#555" stroke-width="0.4"/>
<text x="269.60" y="260.10" font-size="8.9" font-weight="bold" text-anchor="start" fill="#111" textLength="53.70" lengthAdjust="spacingAndGlyphs">WengY_2019</text>
<ellipse cx="157.7" cy="336.6" rx="60.3" ry="40.6" fill="#eaf3f9" stroke="#a8cde4" stroke-width="0.7" shape-rendering="auto"/>
<ellipse cx="141.3" cy="353.6" rx="48.3" ry="43" fill="#e86a42" fill-opacity="0.09" stroke="#eb916f" stroke-width="0.7" shape-rendering="auto"/>
<line x1="148.80" y1="270.60" x2="148.80" y2="408.00" stroke="#d0d0d0" stroke-width="0.6" stroke-dasharray="3,2"/>
<line x1="71.10" y1="346.00" x2="241.00" y2="346.00" stroke="#d0d0d0" stroke-width="0.6" stroke-dasharray="3,2"/>
<path d="M218.7 337.4L220.2 340.1L217.2 340.1Z" fill="#e8603c" stroke="#c0482a" stroke-width="0.4"/>
<rect x="103.10" y="361.70" width="2.60" height="2.60" fill="#6fa6cf" stroke="#4f86b0" stroke-width="0.4"/>
<path d="M220.7 317.0L222.2 319.7L219.2 319.7Z" fill="#6fa6cf" stroke="#4f86b0" stroke-width="0.4"/>
<circle cx="143.60" cy="383.40" r="1.45" fill="#e8603c" stroke="#c0482a" stroke-width="0.4"/>
<path d="M118.0 332.1L119.5 334.8L116.5 334.8Z" fill="#6fa6cf" stroke="#4f86b0" stroke-width="0.4"/>
<path d="M122.6 304.5L124.1 307.2L121.1 307.2Z" fill="#6fa6cf" stroke="#4f86b0" stroke-width="0.4"/>
<rect x="176.70" y="345.90" width="2.60" height="2.60" fill="#6fa6cf" stroke="#4f86b0" stroke-width="0.4"/>
<path d="M93.0 296.0L94.5 298.7L91.5 298.7Z" fill="#e8603c" stroke="#c0482a" stroke-width="0.4"/>
<path d="M172.1 366.0L173.6 368.7L170.6 368.7Z" fill="#6fa6cf" stroke="#4f86b0" stroke-width="0.4"/>
<rect x="185.90" y="357.80" width="2.60" height="2.60" fill="#6fa6cf" stroke="#4f86b0" stroke-width="0.4"/>
<path d="M98.9 313.0L100.4 315.7L97.4 315.7Z" fill="#6fa6cf" stroke="#4f86b0" stroke-width="0.4"/>
<circle cx="147.50" cy="382.00" r="1.45" fill="#e8603c" stroke="#c0482a" stroke-width="0.4"/>
<rect x="134.40" y="382.10" width="2.60" height="2.60" fill="#6fa6cf" stroke="#4f86b0" stroke-width="0.4"/>
<rect x="162.20" y="363.70" width="2.60" height="2.60" fill="#6fa6cf" stroke="#4f86b0" stroke-width="0.4"/>
<rect x="164.90" y="355.80" width="2.60" height="2.60" fill="#e8603c" stroke="#c0482a" stroke-width="0.4"/>
<circle cx="199.70" cy="355.80" r="1.45" fill="#e8603c" stroke="#c0482a" stroke-width="0.4"/>
<circle cx="166.20" cy="366.90" r="1.45" fill="#e8603c" stroke="#c0482a" stroke-width="0.4"/>
<rect x="137.00" y="384.70" width="2.60" height="2.60" fill="#e8603c" stroke="#c0482a" stroke-width="0.4"/>
<rect x="126.50" y="355.10" width="2.60" height="2.60" fill="#6fa6cf" stroke="#4f86b0" stroke-width="0.4"/>
<path d="M201.0 319.6L202.5 322.3L199.5 322.3Z" fill="#e8603c" stroke="#c0482a" stroke-width="0.4"/>
<rect x="155.70" y="368.90" width="2.60" height="2.60" fill="#e8603c" stroke="#c0482a" stroke-width="0.4"/>
<circle cx="134.40" cy="380.10" r="1.45" fill="#e8603c" stroke="#c0482a" stroke-width="0.4"/>
<path d="M118.6 286.8L120.1 289.5L117.1 289.5Z" fill="#6fa6cf" stroke="#4f86b0" stroke-width="0.4"/>
<path d="M153.8 316.1L155.3 318.8L152.3 318.8Z" fill="#6fa6cf" stroke="#4f86b0" stroke-width="0.4"/>
<path d="M122.6 345.6L124.1 348.3L121.1 348.3Z" fill="#e8603c" stroke="#c0482a" stroke-width="0.4"/>
<path d="M144.2 322.2L145.7 324.9L142.7 324.9Z" fill="#6fa6cf" stroke="#4f86b0" stroke-width="0.4"/>
<path d="M141.0 331.4L142.5 334.1L139.5 334.1Z" fill="#6fa6cf" stroke="#4f86b0" stroke-width="0.4"/>
<rect x="126.50" y="373.50" width="2.60" height="2.60" fill="#6fa6cf" stroke="#4f86b0" stroke-width="0.4"/>
<path d="M131.8 352.9L133.3 355.6L130.3 355.6Z" fill="#e8603c" stroke="#c0482a" stroke-width="0.4"/>
<path d="M102.6 327.5L104.1 330.2L101.1 330.2Z" fill="#e8603c" stroke="#c0482a" stroke-width="0.4"/>
<rect x="232.50" y="319.90" width="2.60" height="2.60" fill="#e8603c" stroke="#c0482a" stroke-width="0.4"/>
<path d="M104.8 324.9L106.3 327.6L103.3 327.6Z" fill="#6fa6cf" stroke="#4f86b0" stroke-width="0.4"/>
<rect x="118.60" y="389.30" width="2.60" height="2.60" fill="#6fa6cf" stroke="#4f86b0" stroke-width="0.4"/>
<path d="M98.2 339.1L99.7 341.8L96.7 341.8Z" fill="#e8603c" stroke="#c0482a" stroke-width="0.4"/>
<path d="M142.9 337.4L144.4 340.1L141.4 340.1Z" fill="#6fa6cf" stroke="#4f86b0" stroke-width="0.4"/>
<path d="M219.4 316.1L220.9 318.8L217.9 318.8Z" fill="#e8603c" stroke="#c0482a" stroke-width="0.4"/>
<rect x="185.20" y="350.50" width="2.60" height="2.60" fill="#e8603c" stroke="#c0482a" stroke-width="0.4"/>
<path d="M217.4 313.0L218.9 315.7L215.9 315.7Z" fill="#6fa6cf" stroke="#4f86b0" stroke-width="0.4"/>
<circle cx="121.90" cy="379.40" r="1.45" fill="#e8603c" stroke="#c0482a" stroke-width="0.4"/>
<path d="M204.3 339.1L205.8 341.8L202.8 341.8Z" fill="#e8603c" stroke="#c0482a" stroke-width="0.4"/>
<path d="M220.0 330.8L221.5 333.5L218.5 333.5Z" fill="#6fa6cf" stroke="#4f86b0" stroke-width="0.4"/>
<rect x="204.30" y="354.50" width="2.60" height="2.60" fill="#6fa6cf" stroke="#4f86b0" stroke-width="0.4"/>
<path d="M113.4 326.2L114.9 328.9L111.9 328.9Z" fill="#6fa6cf" stroke="#4f86b0" stroke-width="0.4"/>
<path d="M130.4 296.4L131.9 299.1L128.9 299.1Z" fill="#6fa6cf" stroke="#4f86b0" stroke-width="0.4"/>
<circle cx="193.80" cy="354.50" r="1.45" fill="#e8603c" stroke="#c0482a" stroke-width="0.4"/>
<path d="M197.0 350.9L198.5 353.6L195.5 353.6Z" fill="#6fa6cf" stroke="#4f86b0" stroke-width="0.4"/>
<path d="M227.9 316.3L229.4 319.0L226.4 319.0Z" fill="#6fa6cf" stroke="#4f86b0" stroke-width="0.4"/>
<circle cx="179.30" cy="352.50" r="1.45" fill="#e8603c" stroke="#c0482a" stroke-width="0.4"/>
<rect x="135.70" y="376.10" width="2.60" height="2.60" fill="#e8603c" stroke="#c0482a" stroke-width="0.4"/>
<rect x="138.30" y="377.50" width="2.60" height="2.60" fill="#6fa6cf" stroke="#4f86b0" stroke-width="0.4"/>
<circle cx="135.70" cy="372.80" r="1.45" fill="#e8603c" stroke="#c0482a" stroke-width="0.4"/>
<path d="M200.3 293.3L201.8 296.0L198.8 296.0Z" fill="#e8603c" stroke="#c0482a" stroke-width="0.4"/>
<path d="M200.3 334.1L201.8 336.8L198.8 336.8Z" fill="#6fa6cf" stroke="#4f86b0" stroke-width="0.4"/>
<path d="M181.3 297.9L182.8 300.6L179.8 300.6Z" fill="#6fa6cf" stroke="#4f86b0" stroke-width="0.4"/>
<path d="M231.2 317.6L232.7 320.3L229.7 320.3Z" fill="#6fa6cf" stroke="#4f86b0" stroke-width="0.4"/>
<path d="M117.3 354.2L118.8 356.9L115.8 356.9Z" fill="#e8603c" stroke="#c0482a" stroke-width="0.4"/>
<rect x="137.00" y="372.90" width="2.60" height="2.60" fill="#6fa6cf" stroke="#4f86b0" stroke-width="0.4"/>
<path d="M143.6 279.5L145.1 282.2L142.1 282.2Z" fill="#e8603c" stroke="#c0482a" stroke-width="0.4"/>
<circle cx="191.80" cy="353.80" r="1.45" fill="#e8603c" stroke="#c0482a" stroke-width="0.4"/>
<path d="M93.7 339.7L95.2 342.4L92.2 342.4Z" fill="#e8603c" stroke="#c0482a" stroke-width="0.4"/>
<rect x="199.00" y="353.20" width="2.60" height="2.60" fill="#e8603c" stroke="#c0482a" stroke-width="0.4"/>
<rect x="139.70" y="364.30" width="2.60" height="2.60" fill="#6fa6cf" stroke="#4f86b0" stroke-width="0.4"/>
<path d="M116.6 339.3L118.1 342.0L115.1 342.0Z" fill="#e8603c" stroke="#c0482a" stroke-width="0.4"/>
<path d="M125.2 330.1L126.7 332.8L123.7 332.8Z" fill="#6fa6cf" stroke="#4f86b0" stroke-width="0.4"/>
<circle cx="137.70" cy="383.40" r="1.45" fill="#e8603c" stroke="#c0482a" stroke-width="0.4"/>
<circle cx="127.80" cy="395.80" r="1.45" fill="#e8603c" stroke="#c0482a" stroke-width="0.4"/>
<path d="M125.8 352.2L127.3 354.9L124.3 354.9Z" fill="#e8603c" stroke="#c0482a" stroke-width="0.4"/>
<path d="M168.8 275.6L170.3 278.3L167.3 278.3Z" fill="#6fa6cf" stroke="#4f86b0" stroke-width="0.4"/>
<circle cx="148.80" cy="384.70" r="1.45" fill="#e8603c" stroke="#c0482a" stroke-width="0.4"/>
<path d="M156.7 290.7L158.2 293.4L155.2 293.4Z" fill="#6fa6cf" stroke="#4f86b0" stroke-width="0.4"/>
<path d="M210.2 326.8L211.7 329.5L208.7 329.5Z" fill="#e8603c" stroke="#c0482a" stroke-width="0.4"/>
<path d="M186.5 297.9L188.0 300.6L185.0 300.6Z" fill="#6fa6cf" stroke="#4f86b0" stroke-width="0.4"/>
<circle cx="141.60" cy="362.30" r="1.45" fill="#e8603c" stroke="#c0482a" stroke-width="0.4"/>
<circle cx="114.00" cy="368.90" r="1.45" fill="#e8603c" stroke="#c0482a" stroke-width="0.4"/>
<path d="M222.7 322.2L224.2 324.9L221.2 324.9Z" fill="#e8603c" stroke="#c0482a" stroke-width="0.4"/>
<path d="M233.2 319.0L234.7 321.7L231.7 321.7Z" fill="#6fa6cf" stroke="#4f86b0" stroke-width="0.4"/>
<path d="M133.1 350.9L134.6 353.6L131.6 353.6Z" fill="#e8603c" stroke="#c0482a" stroke-width="0.4"/>
<path d="M148.8 375.2L150.3 377.9L147.3 377.9Z" fill="#6fa6cf" stroke="#4f86b0" stroke-width="0.4"/>
<path d="M212.8 320.3L214.3 323.0L211.3 323.0Z" fill="#6fa6cf" stroke="#4f86b0" stroke-width="0.4"/>
<rect x="169.50" y="357.80" width="2.60" height="2.60" fill="#6fa6cf" stroke="#4f86b0" stroke-width="0.4"/>
<circle cx="123.90" cy="391.20" r="1.45" fill="#e8603c" stroke="#c0482a" stroke-width="0.4"/>
<path d="M87.1 286.1L88.6 288.8L85.6 288.8Z" fill="#e8603c" stroke="#c0482a" stroke-width="0.4"/>
<path d="M172.1 324.2L173.6 326.9L170.6 326.9Z" fill="#6fa6cf" stroke="#4f86b0" stroke-width="0.4"/>
<rect x="131.80" y="387.30" width="2.60" height="2.60" fill="#6fa6cf" stroke="#4f86b0" stroke-width="0.4"/>
<path d="M102.8 342.3L104.3 345.0L101.3 345.0Z" fill="#e8603c" stroke="#c0482a" stroke-width="0.4"/>
<path d="M98.2 338.4L99.7 341.1L96.7 341.1Z" fill="#e8603c" stroke="#c0482a" stroke-width="0.4"/>
<path d="M92.6 334.1L94.1 336.8L91.1 336.8Z" fill="#e8603c" stroke="#c0482a" stroke-width="0.4"/>
<path d="M116.0 348.3L117.5 351.0L114.5 351.0Z" fill="#6fa6cf" stroke="#4f86b0" stroke-width="0.4"/>
<path d="M89.7 337.4L91.2 340.1L88.2 340.1Z" fill="#e8603c" stroke="#c0482a" stroke-width="0.4"/>
<circle cx="141.00" cy="379.40" r="1.45" fill="#e8603c" stroke="#c0482a" stroke-width="0.4"/>
<path d="M137.7 298.3L139.2 301.0L136.2 301.0Z" fill="#6fa6cf" stroke="#4f86b0" stroke-width="0.4"/>
<circle cx="150.10" cy="369.60" r="1.45" fill="#e8603c" stroke="#c0482a" stroke-width="0.4"/>
<rect x="138.30" y="347.90" width="2.60" height="2.60" fill="#6fa6cf" stroke="#4f86b0" stroke-width="0.4"/>
<path d="M151.2 293.7L152.7 296.4L149.7 296.4Z" fill="#6fa6cf" stroke="#4f86b0" stroke-width="0.4"/>
<rect x="159.00" y="372.20" width="2.60" height="2.60" fill="#6fa6cf" stroke="#4f86b0" stroke-width="0.4"/>
<circle cx="158.90" cy="376.80" r="1.45" fill="#e8603c" stroke="#c0482a" stroke-width="0.4"/>
<circle cx="146.20" cy="368.20" r="1.45" fill="#e8603c" stroke="#c0482a" stroke-width="0.4"/>
<path d="M105.5 323.6L107.0 326.3L104.0 326.3Z" fill="#e8603c" stroke="#c0482a" stroke-width="0.4"/>
<path d="M217.4 332.1L218.9 334.8L215.9 334.8Z" fill="#6fa6cf" stroke="#4f86b0" stroke-width="0.4"/>
<path d="M175.4 342.3L176.9 345.0L173.9 345.0Z" fill="#6fa6cf" stroke="#4f86b0" stroke-width="0.4"/>
<circle cx="112.00" cy="369.60" r="1.45" fill="#e8603c" stroke="#c0482a" stroke-width="0.4"/>
<rect x="198.40" y="349.90" width="2.60" height="2.60" fill="#6fa6cf" stroke="#4f86b0" stroke-width="0.4"/>
<rect x="102.60" y="353.20" width="2.60" height="2.60" fill="#6fa6cf" stroke="#4f86b0" stroke-width="0.4"/>
<rect x="185.90" y="361.00" width="2.60" height="2.60" fill="#6fa6cf" stroke="#4f86b0" stroke-width="0.4"/>
<path d="M116.6 322.2L118.1 324.9L115.1 324.9Z" fill="#e8603c" stroke="#c0482a" stroke-width="0.4"/>
<rect x="160.90" y="370.20" width="2.60" height="2.60" fill="#e8603c" stroke="#c0482a" stroke-width="0.4"/>
<path d="M119.9 356.8L121.4 359.5L118.4 359.5Z" fill="#e8603c" stroke="#c0482a" stroke-width="0.4"/>
<path d="M112.0 284.8L113.5 287.5L110.5 287.5Z" fill="#6fa6cf" stroke="#4f86b0" stroke-width="0.4"/>
<rect x="150.80" y="374.20" width="2.60" height="2.60" fill="#6fa6cf" stroke="#4f86b0" stroke-width="0.4"/>
<path d="M112.0 356.1L113.5 358.8L110.5 358.8Z" fill="#e8603c" stroke="#c0482a" stroke-width="0.4"/>
<path d="M83.1 286.1L84.6 288.8L81.6 288.8Z" fill="#e8603c" stroke="#c0482a" stroke-width="0.4"/>
<path d="M229.9 318.3L231.4 321.0L228.4 321.0Z" fill="#6fa6cf" stroke="#4f86b0" stroke-width="0.4"/>
<rect x="121.90" y="391.90" width="2.60" height="2.60" fill="#6fa6cf" stroke="#4f86b0" stroke-width="0.4"/>
<path d="M109.4 336.0L110.9 338.7L107.9 338.7Z" fill="#e8603c" stroke="#c0482a" stroke-width="0.4"/>
<path d="M170.8 278.0L172.3 280.7L169.3 280.7Z" fill="#6fa6cf" stroke="#4f86b0" stroke-width="0.4"/>
<path d="M217.8 328.8L219.3 331.5L216.3 331.5Z" fill="#e8603c" stroke="#c0482a" stroke-width="0.4"/>
<circle cx="119.90" cy="379.40" r="1.45" fill="#e8603c" stroke="#c0482a" stroke-width="0.4"/>
<rect x="131.80" y="386.70" width="2.60" height="2.60" fill="#e8603c" stroke="#c0482a" stroke-width="0.4"/>
<rect x="144.20" y="381.40" width="2.60" height="2.60" fill="#e8603c" stroke="#c0482a" stroke-width="0.4"/>
<path d="M197.7 311.1L199.2 313.8L196.2 313.8Z" fill="#6fa6cf" stroke="#4f86b0" stroke-width="0.4"/>
<circle cx="125.80" cy="382.00" r="1.45" fill="#e8603c" stroke="#c0482a" stroke-width="0.4"/>
<path d="M178.7 332.8L180.2 335.5L177.2 335.5Z" fill="#6fa6cf" stroke="#4f86b0" stroke-width="0.4"/>
<rect x="180.00" y="363.00" width="2.60" height="2.60" fill="#e8603c" stroke="#c0482a" stroke-width="0.4"/>
<path d="M100.2 305.8L101.7 308.5L98.7 308.5Z" fill="#6fa6cf" stroke="#4f86b0" stroke-width="0.4"/>
<path d="M108.1 286.1L109.6 288.8L106.6 288.8Z" fill="#6fa6cf" stroke="#4f86b0" stroke-width="0.4"/>
<rect x="202.30" y="350.50" width="2.60" height="2.60" fill="#6fa6cf" stroke="#4f86b0" stroke-width="0.4"/>
<rect x="211.50" y="340.00" width="2.60" height="2.60" fill="#6fa6cf" stroke="#4f86b0" stroke-width="0.4"/>
<circle cx="139.60" cy="366.90" r="1.45" fill="#e8603c" stroke="#c0482a" stroke-width="0.4"/>
<rect x="125.20" y="389.30" width="2.60" height="2.60" fill="#e8603c" stroke="#c0482a" stroke-width="0.4"/>
<path d="M123.9 340.0L125.4 342.7L122.4 342.7Z" fill="#6fa6cf" stroke="#4f86b0" stroke-width="0.4"/>
<path d="M139.6 285.8L141.1 288.5L138.1 288.5Z" fill="#6fa6cf" stroke="#4f86b0" stroke-width="0.4"/>
<rect x="133.10" y="366.90" width="2.60" height="2.60" fill="#e8603c" stroke="#c0482a" stroke-width="0.4"/>
<circle cx="156.70" cy="370.20" r="1.45" fill="#e8603c" stroke="#c0482a" stroke-width="0.4"/>
<path d="M112.7 279.5L114.2 282.2L111.2 282.2Z" fill="#e8603c" stroke="#c0482a" stroke-width="0.4"/>
<rect x="143.60" y="374.20" width="2.60" height="2.60" fill="#e8603c" stroke="#c0482a" stroke-width="0.4"/>
<path d="M148.6 343.9L150.1 346.6L147.1 346.6Z" fill="#e8603c" stroke="#c0482a" stroke-width="0.4"/>
<path d="M209.5 336.0L211.0 338.7L208.0 338.7Z" fill="#6fa6cf" stroke="#4f86b0" stroke-width="0.4"/>
<path d="M128.5 363.4L130.0 366.1L127.0 366.1Z" fill="#e8603c" stroke="#c0482a" stroke-width="0.4"/>
<circle cx="193.10" cy="359.10" r="1.45" fill="#e8603c" stroke="#c0482a" stroke-width="0.4"/>
<circle cx="172.10" cy="359.10" r="1.45" fill="#e8603c" stroke="#c0482a" stroke-width="0.4"/>
<circle cx="121.20" cy="398.50" r="1.45" fill="#e8603c" stroke="#c0482a" stroke-width="0.4"/>
<path d="M91.7 286.1L93.2 288.8L90.2 288.8Z" fill="#e8603c" stroke="#c0482a" stroke-width="0.4"/>
<path d="M109.4 358.1L110.9 360.8L107.9 360.8Z" fill="#6fa6cf" stroke="#4f86b0" stroke-width="0.4"/>
<path d="M141.6 315.7L143.1 318.4L140.1 318.4Z" fill="#6fa6cf" stroke="#4f86b0" stroke-width="0.4"/>
<path d="M93.7 339.3L95.2 342.0L92.2 342.0Z" fill="#e8603c" stroke="#c0482a" stroke-width="0.4"/>
<path d="M115.3 292.4L116.8 295.1L113.8 295.1Z" fill="#6fa6cf" stroke="#4f86b0" stroke-width="0.4"/>
<path d="M224.6 334.1L226.1 336.8L223.1 336.8Z" fill="#6fa6cf" stroke="#4f86b0" stroke-width="0.4"/>
<path d="M91.0 306.5L92.5 309.2L89.5 309.2Z" fill="#e8603c" stroke="#c0482a" stroke-width="0.4"/>
<path d="M109.4 317.0L110.9 319.7L107.9 319.7Z" fill="#6fa6cf" stroke="#4f86b0" stroke-width="0.4"/>
<circle cx="116.60" cy="389.30" r="1.45" fill="#e8603c" stroke="#c0482a" stroke-width="0.4"/>
<path d="M227.9 327.5L229.4 330.2L226.4 330.2Z" fill="#6fa6cf" stroke="#4f86b0" stroke-width="0.4"/>
<path d="M123.2 358.8L124.7 361.5L121.7 361.5Z" fill="#e8603c" stroke="#c0482a" stroke-width="0.4"/>
<path d="M195.1 344.3L196.6 347.0L193.6 347.0Z" fill="#6fa6cf" stroke="#4f86b0" stroke-width="0.4"/>
<path d="M127.5 344.3L129.0 347.0L126.0 347.0Z" fill="#e8603c" stroke="#c0482a" stroke-width="0.4"/>
<path d="M91.0 291.4L92.5 294.1L89.5 294.1Z" fill="#e8603c" stroke="#c0482a" stroke-width="0.4"/>
<path d="M223.3 319.6L224.8 322.3L221.8 322.3Z" fill="#e8603c" stroke="#c0482a" stroke-width="0.4"/>
<path d="M226.6 324.2L228.1 326.9L225.1 326.9Z" fill="#6fa6cf" stroke="#4f86b0" stroke-width="0.4"/>
<path d="M110.7 324.9L112.2 327.6L109.2 327.6Z" fill="#6fa6cf" stroke="#4f86b0" stroke-width="0.4"/>
<rect x="152.80" y="364.30" width="2.60" height="2.60" fill="#6fa6cf" stroke="#4f86b0" stroke-width="0.4"/>
<circle cx="138.30" cy="393.20" r="1.45" fill="#e8603c" stroke="#c0482a" stroke-width="0.4"/>
<circle cx="164.90" cy="376.10" r="1.45" fill="#e8603c" stroke="#c0482a" stroke-width="0.4"/>
<path d="M97.6 311.1L99.1 313.8L96.1 313.8Z" fill="#6fa6cf" stroke="#4f86b0" stroke-width="0.4"/>
<path d="M162.2 314.4L163.7 317.1L160.7 317.1Z" fill="#e8603c" stroke="#c0482a" stroke-width="0.4"/>
<path d="M85.1 281.5L86.6 284.2L83.6 284.2Z" fill="#6fa6cf" stroke="#4f86b0" stroke-width="0.4"/>
<rect x="120.60" y="377.50" width="2.60" height="2.60" fill="#e8603c" stroke="#c0482a" stroke-width="0.4"/>
<path d="M123.9 301.2L125.4 303.9L122.4 303.9Z" fill="#e8603c" stroke="#c0482a" stroke-width="0.4"/>
<path d="M84.5 301.6L86.0 304.3L83.0 304.3Z" fill="#e8603c" stroke="#c0482a" stroke-width="0.4"/>
<path d="M140.3 328.8L141.8 331.5L138.8 331.5Z" fill="#e8603c" stroke="#c0482a" stroke-width="0.4"/>
<path d="M126.5 363.4L128.0 366.1L125.0 366.1Z" fill="#e8603c" stroke="#c0482a" stroke-width="0.4"/>
<path d="M88.4 294.0L89.9 296.7L86.9 296.7Z" fill="#6fa6cf" stroke="#4f86b0" stroke-width="0.4"/>
<path d="M111.0 328.8L112.5 331.5L109.5 331.5Z" fill="#e8603c" stroke="#c0482a" stroke-width="0.4"/>
<path d="M114.4 286.1L115.9 288.8L112.9 288.8Z" fill="#e8603c" stroke="#c0482a" stroke-width="0.4"/>
<circle cx="179.30" cy="363.00" r="1.45" fill="#e8603c" stroke="#c0482a" stroke-width="0.4"/>
<path d="M191.1 319.6L192.6 322.3L189.6 322.3Z" fill="#6fa6cf" stroke="#4f86b0" stroke-width="0.4"/>
<rect x="193.80" y="340.00" width="2.60" height="2.60" fill="#6fa6cf" stroke="#4f86b0" stroke-width="0.4"/>
<path d="M182.3 284.5L183.8 287.2L180.8 287.2Z" fill="#6fa6cf" stroke="#4f86b0" stroke-width="0.4"/>
<rect x="162.20" y="360.40" width="2.60" height="2.60" fill="#6fa6cf" stroke="#4f86b0" stroke-width="0.4"/>
<rect x="180.60" y="357.10" width="2.60" height="2.60" fill="#6fa6cf" stroke="#4f86b0" stroke-width="0.4"/>
<path d="M187.2 296.0L188.7 298.7L185.7 298.7Z" fill="#6fa6cf" stroke="#4f86b0" stroke-width="0.4"/>
<rect x="133.10" y="351.80" width="2.60" height="2.60" fill="#6fa6cf" stroke="#4f86b0" stroke-width="0.4"/>
<rect x="140.30" y="369.60" width="2.60" height="2.60" fill="#e8603c" stroke="#c0482a" stroke-width="0.4"/>
<path d="M159.6 337.4L161.1 340.1L158.1 340.1Z" fill="#e8603c" stroke="#c0482a" stroke-width="0.4"/>
<path d="M190.5 341.3L192.0 344.0L189.0 344.0Z" fill="#6fa6cf" stroke="#4f86b0" stroke-width="0.4"/>
<path d="M101.5 290.1L103.0 292.8L100.0 292.8Z" fill="#e8603c" stroke="#c0482a" stroke-width="0.4"/>
<path d="M175.4 341.9L176.9 344.6L173.9 344.6Z" fill="#6fa6cf" stroke="#4f86b0" stroke-width="0.4"/>
<rect x="119.30" y="380.70" width="2.60" height="2.60" fill="#6fa6cf" stroke="#4f86b0" stroke-width="0.4"/>
<path d="M87.1 288.1L88.6 290.8L85.6 290.8Z" fill="#e8603c" stroke="#c0482a" stroke-width="0.4"/>
<rect x="152.80" y="369.20" width="2.60" height="2.60" fill="#e8603c" stroke="#c0482a" stroke-width="0.4"/>
<circle cx="155.00" cy="378.80" r="1.45" fill="#e8603c" stroke="#c0482a" stroke-width="0.4"/>
<circle cx="121.90" cy="395.20" r="1.45" fill="#e8603c" stroke="#c0482a" stroke-width="0.4"/>
<rect x="114.70" y="368.90" width="2.60" height="2.60" fill="#6fa6cf" stroke="#4f86b0" stroke-width="0.4"/>
<circle cx="127.80" cy="386.60" r="1.45" fill="#e8603c" stroke="#c0482a" stroke-width="0.4"/>
<rect x="121.30" y="386.00" width="2.60" height="2.60" fill="#e8603c" stroke="#c0482a" stroke-width="0.4"/>
<path d="M195.1 339.3L196.6 342.0L193.6 342.0Z" fill="#6fa6cf" stroke="#4f86b0" stroke-width="0.4"/>
<path d="M84.5 289.4L86.0 292.1L83.0 292.1Z" fill="#e8603c" stroke="#c0482a" stroke-width="0.4"/>
<path d="M125.2 305.2L126.7 307.9L123.7 307.9Z" fill="#6fa6cf" stroke="#4f86b0" stroke-width="0.4"/>
<path d="M170.8 325.5L172.3 328.2L169.3 328.2Z" fill="#6fa6cf" stroke="#4f86b0" stroke-width="0.4"/>
<path d="M100.9 335.4L102.4 338.1L99.4 338.1Z" fill="#6fa6cf" stroke="#4f86b0" stroke-width="0.4"/>
<path d="M130.4 358.1L131.9 360.8L128.9 360.8Z" fill="#6fa6cf" stroke="#4f86b0" stroke-width="0.4"/>
<path d="M130.4 334.1L131.9 336.8L128.9 336.8Z" fill="#e8603c" stroke="#c0482a" stroke-width="0.4"/>
<path d="M146.9 288.1L148.4 290.8L145.4 290.8Z" fill="#e8603c" stroke="#c0482a" stroke-width="0.4"/>
<path d="M89.4 297.9L90.9 300.6L87.9 300.6Z" fill="#6fa6cf" stroke="#4f86b0" stroke-width="0.4"/>
<path d="M227.9 330.8L229.4 333.5L226.4 333.5Z" fill="#6fa6cf" stroke="#4f86b0" stroke-width="0.4"/>
<path d="M78.5 307.8L80.0 310.5L77.0 310.5Z" fill="#e8603c" stroke="#c0482a" stroke-width="0.4"/>
<rect x="122.60" y="341.30" width="2.60" height="2.60" fill="#6fa6cf" stroke="#4f86b0" stroke-width="0.4"/>
<circle cx="135.00" cy="370.90" r="1.45" fill="#e8603c" stroke="#c0482a" stroke-width="0.4"/>
<rect x="126.50" y="399.80" width="2.60" height="2.60" fill="#6fa6cf" stroke="#4f86b0" stroke-width="0.4"/>
<path d="M212.8 309.1L214.3 311.8L211.3 311.8Z" fill="#6fa6cf" stroke="#4f86b0" stroke-width="0.4"/>
<rect x="132.40" y="395.20" width="2.60" height="2.60" fill="#e8603c" stroke="#c0482a" stroke-width="0.4"/>
<circle cx="136.40" cy="385.30" r="1.45" fill="#e8603c" stroke="#c0482a" stroke-width="0.4"/>
<path d="M135.0 354.2L136.5 356.9L133.5 356.9Z" fill="#e8603c" stroke="#c0482a" stroke-width="0.4"/>
<path d="M187.6 310.8L189.1 313.5L186.1 313.5Z" fill="#6fa6cf" stroke="#4f86b0" stroke-width="0.4"/>
<path d="M159.6 342.6L161.1 345.3L158.1 345.3Z" fill="#6fa6cf" stroke="#4f86b0" stroke-width="0.4"/>
<path d="M222.0 333.4L223.5 336.1L220.5 336.1Z" fill="#6fa6cf" stroke="#4f86b0" stroke-width="0.4"/>
<rect x="133.10" y="355.80" width="2.60" height="2.60" fill="#6fa6cf" stroke="#4f86b0" stroke-width="0.4"/>
<path d="M156.1 339.3L157.6 342.0L154.6 342.0Z" fill="#6fa6cf" stroke="#4f86b0" stroke-width="0.4"/>
<rect x="189.20" y="340.70" width="2.60" height="2.60" fill="#6fa6cf" stroke="#4f86b0" stroke-width="0.4"/>
<circle cx="180.60" cy="356.40" r="1.45" fill="#e8603c" stroke="#c0482a" stroke-width="0.4"/>
<path d="M219.4 308.4L220.9 311.1L217.9 311.1Z" fill="#6fa6cf" stroke="#4f86b0" stroke-width="0.4"/>
<path d="M83.1 280.2L84.6 282.9L81.6 282.9Z" fill="#6fa6cf" stroke="#4f86b0" stroke-width="0.4"/>
<path d="M81.2 279.5L82.7 282.2L79.7 282.2Z" fill="#6fa6cf" stroke="#4f86b0" stroke-width="0.4"/>
<path d="M121.2 322.6L122.7 325.3L119.7 325.3Z" fill="#6fa6cf" stroke="#4f86b0" stroke-width="0.4"/>
<path d="M115.3 326.2L116.8 328.9L113.8 328.9Z" fill="#6fa6cf" stroke="#4f86b0" stroke-width="0.4"/>
<path d="M163.1 282.8L164.6 285.5L161.6 285.5Z" fill="#e8603c" stroke="#c0482a" stroke-width="0.4"/>
<rect x="143.60" y="365.00" width="2.60" height="2.60" fill="#6fa6cf" stroke="#4f86b0" stroke-width="0.4"/>
<circle cx="134.40" cy="392.60" r="1.45" fill="#e8603c" stroke="#c0482a" stroke-width="0.4"/>
<path d="M119.9 329.5L121.4 332.2L118.4 332.2Z" fill="#6fa6cf" stroke="#4f86b0" stroke-width="0.4"/>
<path d="M133.1 301.2L134.6 303.9L131.6 303.9Z" fill="#6fa6cf" stroke="#4f86b0" stroke-width="0.4"/>
<circle cx="174.10" cy="368.90" r="1.45" fill="#e8603c" stroke="#c0482a" stroke-width="0.4"/>
<circle cx="206.90" cy="348.50" r="1.45" fill="#e8603c" stroke="#c0482a" stroke-width="0.4"/>
<rect x="175.40" y="365.60" width="2.60" height="2.60" fill="#6fa6cf" stroke="#4f86b0" stroke-width="0.4"/>
<path d="M79.5 312.4L81.0 315.1L78.0 315.1Z" fill="#e8603c" stroke="#c0482a" stroke-width="0.4"/>
<rect x="210.90" y="344.20" width="2.60" height="2.60" fill="#e8603c" stroke="#c0482a" stroke-width="0.4"/>
<rect x="166.80" y="351.20" width="2.60" height="2.60" fill="#6fa6cf" stroke="#4f86b0" stroke-width="0.4"/>
<path d="M135.0 391.6L136.5 394.3L133.5 394.3Z" fill="#6fa6cf" stroke="#4f86b0" stroke-width="0.4"/>
<path d="M157.0 290.7L158.5 293.4L155.5 293.4Z" fill="#6fa6cf" stroke="#4f86b0" stroke-width="0.4"/>
<path d="M212.8 335.4L214.3 338.1L211.3 338.1Z" fill="#6fa6cf" stroke="#4f86b0" stroke-width="0.4"/>
<path d="M111.8 332.4L113.3 335.1L110.3 335.1Z" fill="#e8603c" stroke="#c0482a" stroke-width="0.4"/>
<path d="M218.7 313.7L220.2 316.4L217.2 316.4Z" fill="#6fa6cf" stroke="#4f86b0" stroke-width="0.4"/>
<rect x="109.40" y="372.90" width="2.60" height="2.60" fill="#e8603c" stroke="#c0482a" stroke-width="0.4"/>
<path d="M85.8 284.1L87.3 286.8L84.3 286.8Z" fill="#6fa6cf" stroke="#4f86b0" stroke-width="0.4"/>
<path d="M208.9 348.3L210.4 351.0L207.4 351.0Z" fill="#6fa6cf" stroke="#4f86b0" stroke-width="0.4"/>
<circle cx="204.30" cy="340.90" r="1.45" fill="#e8603c" stroke="#c0482a" stroke-width="0.4"/>
<path d="M117.3 312.4L118.8 315.1L115.8 315.1Z" fill="#6fa6cf" stroke="#4f86b0" stroke-width="0.4"/>
<path d="M132.4 358.1L133.9 360.8L130.9 360.8Z" fill="#e8603c" stroke="#c0482a" stroke-width="0.4"/>
<path d="M154.1 302.5L155.6 305.2L152.6 305.2Z" fill="#e8603c" stroke="#c0482a" stroke-width="0.4"/>
<path d="M214.8 324.2L216.3 326.9L213.3 326.9Z" fill="#6fa6cf" stroke="#4f86b0" stroke-width="0.4"/>
<path d="M133.1 373.9L134.6 376.6L131.6 376.6Z" fill="#6fa6cf" stroke="#4f86b0" stroke-width="0.4"/>
<path d="M229.9 322.9L231.4 325.6L228.4 325.6Z" fill="#e8603c" stroke="#c0482a" stroke-width="0.4"/>
<path d="M103.5 300.6L105.0 303.3L102.0 303.3Z" fill="#e8603c" stroke="#c0482a" stroke-width="0.4"/>
<path d="M103.5 322.9L105.0 325.6L102.0 325.6Z" fill="#6fa6cf" stroke="#4f86b0" stroke-width="0.4"/>
<path d="M142.0 340.0L143.5 342.7L140.5 342.7Z" fill="#6fa6cf" stroke="#4f86b0" stroke-width="0.4"/>
<path d="M129.1 383.7L130.6 386.4L127.6 386.4Z" fill="#6fa6cf" stroke="#4f86b0" stroke-width="0.4"/>
<path d="M96.9 317.6L98.4 320.3L95.4 320.3Z" fill="#6fa6cf" stroke="#4f86b0" stroke-width="0.4"/>
<rect x="140.30" y="381.40" width="2.60" height="2.60" fill="#e8603c" stroke="#c0482a" stroke-width="0.4"/>
<path d="M95.6 343.7L97.1 346.4L94.1 346.4Z" fill="#e8603c" stroke="#c0482a" stroke-width="0.4"/>
<path d="M181.3 351.5L182.8 354.2L179.8 354.2Z" fill="#6fa6cf" stroke="#4f86b0" stroke-width="0.4"/>
<path d="M100.5 320.3L102.0 323.0L99.0 323.0Z" fill="#6fa6cf" stroke="#4f86b0" stroke-width="0.4"/>
<circle cx="154.70" cy="379.40" r="1.45" fill="#e8603c" stroke="#c0482a" stroke-width="0.4"/>
<path d="M125.2 344.3L126.7 347.0L123.7 347.0Z" fill="#e8603c" stroke="#c0482a" stroke-width="0.4"/>
<rect x="71.10" y="270.60" width="169.90" height="137.40" fill="none" stroke="#8c8c8c" stroke-width="0.7"/>
<line x1="69.30" y1="380.00" x2="71.10" y2="380.00" stroke="#333" stroke-width="0.6"/>
<text x="68.50" y="382.60" font-size="7.4" font-weight="bold" text-anchor="end" fill="#222">-0.25</text>
<line x1="108.50" y1="408.00" x2="108.50" y2="409.80" stroke="#333" stroke-width="0.6"/>
<text x="108.50" y="417.00" font-size="7.4" font-weight="bold" text-anchor="middle" fill="#222">-0.25</text>
<line x1="69.30" y1="346.00" x2="71.10" y2="346.00" stroke="#333" stroke-width="0.6"/>
<text x="68.50" y="348.60" font-size="7.4" font-weight="bold" text-anchor="end" fill="#222">0.00</text>
<line x1="148.80" y1="408.00" x2="148.80" y2="409.80" stroke="#333" stroke-width="0.6"/>
<text x="148.80" y="417.00" font-size="7.4" font-weight="bold" text-anchor="middle" fill="#222">0.00</text>
<line x1="69.30" y1="312.00" x2="71.10" y2="312.00" stroke="#333" stroke-width="0.6"/>
<text x="68.50" y="314.60" font-size="7.4" font-weight="bold" text-anchor="end" fill="#222">0.25</text>
<line x1="189.10" y1="408.00" x2="189.10" y2="409.80" stroke="#333" stroke-width="0.6"/>
<text x="189.10" y="417.00" font-size="7.4" font-weight="bold" text-anchor="middle" fill="#222">0.25</text>
<line x1="69.30" y1="278.00" x2="71.10" y2="278.00" stroke="#333" stroke-width="0.6"/>
<text x="68.50" y="280.60" font-size="7.4" font-weight="bold" text-anchor="end" fill="#222">0.50</text>
<line x1="229.40" y1="408.00" x2="229.40" y2="409.80" stroke="#333" stroke-width="0.6"/>
<text x="229.40" y="417.00" font-size="7.4" font-weight="bold" text-anchor="middle" fill="#222">0.50</text>
<text x="183.50" y="402.30" font-size="5.0" font-weight="normal" text-anchor="start" fill="#333" textLength="49.50" lengthAdjust="spacingAndGlyphs">R² = 0.0306  p = 0.001</text>
<text x="160.00" y="429.30" font-size="8.9" font-weight="bold" text-anchor="middle" fill="#111" textLength="66.50" lengthAdjust="spacingAndGlyphs">PCoA1 (20.12%)</text>
<text x="42.90" y="341.20" font-size="8.9" font-weight="bold" text-anchor="middle" fill="#111" transform="rotate(-90 42.90 341.20)" textLength="69.00" lengthAdjust="spacingAndGlyphs">PCoA2 (16.66%)</text>
<rect x="68.50" y="434.70" width="7.90" height="8.00" fill="#eef4f9" stroke="#b8d4e8" stroke-width="0.5"/>
<circle cx="72.40" cy="438.70" r="1.20" fill="#6fa6cf"/>
<rect x="68.50" y="445.60" width="7.90" height="8.00" fill="#fbece6" stroke="#eba58d" stroke-width="0.5"/>
<circle cx="72.40" cy="449.60" r="1.20" fill="#e8603c"/>
<text x="79.60" y="442.00" font-size="8.8" font-weight="bold" text-anchor="start" fill="#111" textLength="68.40" lengthAdjust="spacingAndGlyphs">Healthy controls</text>
<text x="79.60" y="452.90" font-size="8.8" font-weight="bold" text-anchor="start" fill="#111">IBD patients</text>
<rect x="242.80" y="270.30" width="26.70" height="137.20" fill="none" stroke="#8c8c8c" stroke-width="0.7"/>
<rect x="270.60" y="270.30" width="38.90" height="137.20" fill="none" stroke="#8c8c8c" stroke-width="0.7"/>
<line x1="250.35" y1="278.00" x2="250.35" y2="318.00" stroke="#b5d3e6" stroke-width="0.6"/>
<line x1="250.35" y1="361.30" x2="250.35" y2="401.00" stroke="#b5d3e6" stroke-width="0.6"/>
<rect x="245.80" y="318.00" width="9.10" height="43.30" fill="#79aed0"/>
<line x1="245.80" y1="334.60" x2="254.90" y2="334.60" stroke="#333" stroke-width="0.6"/>
<line x1="262.30" y1="280.40" x2="262.30" y2="335.00" stroke="#f2b19a" stroke-width="0.6"/>
<line x1="262.30" y1="376.70" x2="262.30" y2="397.80" stroke="#f2b19a" stroke-width="0.6"/>
<rect x="257.70" y="335.00" width="9.20" height="41.70" fill="#e8673f"/>
<line x1="257.70" y1="361.50" x2="266.90" y2="361.50" stroke="#333" stroke-width="0.6"/>
<line x1="278.10" y1="299.00" x2="278.10" y2="335.00" stroke="#f0aaaa" stroke-width="0.6"/>
<line x1="278.10" y1="372.80" x2="278.10" y2="397.80" stroke="#f0aaaa" stroke-width="0.6"/>
<rect x="273.40" y="335.00" width="9.40" height="37.80" fill="#e86d6d"/>
<line x1="273.40" y1="359.20" x2="282.80" y2="359.20" stroke="#333" stroke-width="0.6"/>
<line x1="290.20" y1="281.00" x2="290.20" y2="302.60" stroke="#9be39b" stroke-width="0.6"/>
<line x1="290.20" y1="354.90" x2="290.20" y2="401.00" stroke="#9be39b" stroke-width="0.6"/>
<rect x="285.50" y="302.60" width="9.40" height="52.30" fill="#44cc44"/>
<line x1="285.50" y1="327.30" x2="294.90" y2="327.30" stroke="#333" stroke-width="0.6"/>
<line x1="302.30" y1="333.00" x2="302.30" y2="362.00" stroke="#a9c4f0" stroke-width="0.6"/>
<line x1="302.30" y1="381.90" x2="302.30" y2="395.00" stroke="#a9c4f0" stroke-width="0.6"/>
<rect x="297.70" y="362.00" width="9.20" height="19.90" fill="#6a9ef2"/>
<line x1="297.70" y1="374.50" x2="306.90" y2="374.50" stroke="#333" stroke-width="0.6"/>
<rect x="301.40" y="320.10" width="1.80" height="1.60" fill="#222"/>
<rect x="301.40" y="328.20" width="1.80" height="1.60" fill="#222"/>
<rect x="301.40" y="330.60" width="1.80" height="1.60" fill="#222"/>
<text x="256.00" y="278.60" font-size="4.8" font-weight="normal" text-anchor="middle" fill="#222">p&lt;0.0001</text>
<text x="295.50" y="273.30" font-size="4.8" font-weight="normal" text-anchor="middle" fill="#222">p&lt;0.0001</text>
<text x="285.00" y="278.80" font-size="4.8" font-weight="normal" text-anchor="middle" fill="#222">p&lt;0.0001</text>
<text x="297.50" y="285.00" font-size="4.8" font-weight="normal" text-anchor="middle" fill="#222">p&lt;0.0001</text>
<line x1="283.00" y1="287.00" x2="305.00" y2="287.00" stroke="#555" stroke-width="0.4"/>
<line x1="273.00" y1="281.00" x2="296.00" y2="281.00" stroke="#555" stroke-width="0.4"/>
<line x1="284.00" y1="275.00" x2="309.00" y2="275.00" stroke="#555" stroke-width="0.4"/>
<text x="253.80" y="412.50" font-size="9.3" font-weight="bold" text-anchor="end" fill="#111" transform="rotate(-45 253.80 412.50)">Healthy controls</text>
<text x="266.90" y="413.00" font-size="9.3" font-weight="bold" text-anchor="end" fill="#111" transform="rotate(-45 266.90 413.00)">IBD patients</text>
<text x="282.70" y="415.10" font-size="9.3" font-weight="bold" text-anchor="end" fill="#111" transform="rotate(-45 282.70 415.10)">HeQ_2017</text>
<text x="296.50" y="412.90" font-size="9.3" font-weight="bold" text-anchor="end" fill="#111" transform="rotate(-45 296.50 412.90)">YanQ_2024</text>
<text x="310.20" y="414.00" font-size="9.3" font-weight="bold" text-anchor="end" fill="#111" transform="rotate(-45 310.20 414.00)">WengY_2019</text>
<text x="319.00" y="215.00" font-size="14" font-weight="bold" text-anchor="start" fill="#111">d</text>
<text x="463.80" y="232.80" font-size="8.75" font-weight="bold" text-anchor="end" fill="#111" font-style="italic">Trametes sp. AH28−2</text>
<text x="463.80" y="247.40" font-size="8.75" font-weight="bold" text-anchor="end" fill="#111" font-style="italic">Pichia kudriavzevii</text>
<text x="463.80" y="262.00" font-size="8.75" font-weight="bold" text-anchor="end" fill="#f01e23" font-style="italic">Clavispora lusitaniae</text>
<text x="463.80" y="276.60" font-size="8.75" font-weight="bold" text-anchor="end" fill="#111" font-style="italic">Candida albicans B</text>
<text x="463.80" y="291.20" font-size="8.75" font-weight="bold" text-anchor="end" fill="#111" font-style="italic">Cyberlindnera jadinii</text>
<text x="463.80" y="305.80" font-size="8.75" font-weight="bold" text-anchor="end" fill="#111" font-style="italic">Candida parapsilosis</text>
<text x="463.80" y="320.40" font-size="8.75" font-weight="bold" text-anchor="end" fill="#111" font-style="italic">Penicillium sp. c23</text>
<text x="463.80" y="335.00" font-size="8.75" font-weight="bold" text-anchor="end" fill="#111" font-style="italic">Sporisorium graminicola</text>
<text x="463.80" y="349.60" font-size="8.75" font-weight="bold" text-anchor="end" fill="#111" font-style="italic">[Candida] intermedia</text>
<text x="463.80" y="364.20" font-size="8.75" font-weight="bold" text-anchor="end" fill="#111" font-style="italic">Trichophyton indotineae</text>
<text x="463.80" y="378.80" font-size="8.75" font-weight="bold" text-anchor="end" fill="#111" font-style="italic">Candida albicans A</text>
<text x="463.80" y="393.40" font-size="8.75" font-weight="bold" text-anchor="end" fill="#111" font-style="italic">Kazachstania servazzii</text>
<text x="463.80" y="408.00" font-size="8.75" font-weight="bold" text-anchor="end" fill="#111" font-style="italic">Microascales sp. c195</text>
<line x1="511.60" y1="220.70" x2="511.60" y2="413.30" stroke="#9a9a9a" stroke-width="0.9" stroke-dasharray="4,2.6"/>
<line x1="475.78" y1="229.60" x2="496.11" y2="229.60" stroke="#f08a8a" stroke-width="0.9"/>
<line x1="477.78" y1="229.60" x2="494.11" y2="229.60" stroke="#ee6b6b" stroke-width="0.5"/>
<line x1="471.68" y1="228.40" x2="474.08" y2="230.80" stroke="#b5b5b5" stroke-width="0.5"/>
<line x1="471.68" y1="230.80" x2="474.08" y2="228.40" stroke="#b5b5b5" stroke-width="0.5"/>
<circle cx="485.95" cy="229.60" r="1.50" fill="#111"/>
<line x1="478.20" y1="244.20" x2="498.53" y2="244.20" stroke="#f08a8a" stroke-width="0.9"/>
<line x1="480.20" y1="244.20" x2="496.53" y2="244.20" stroke="#ee6b6b" stroke-width="0.5"/>
<line x1="473.62" y1="243.00" x2="476.02" y2="245.40" stroke="#b5b5b5" stroke-width="0.5"/>
<line x1="473.62" y1="245.40" x2="476.02" y2="243.00" stroke="#b5b5b5" stroke-width="0.5"/>
<line x1="497.82" y1="243.00" x2="500.22" y2="245.40" stroke="#b5b5b5" stroke-width="0.5"/>
<line x1="497.82" y1="245.40" x2="500.22" y2="243.00" stroke="#b5b5b5" stroke-width="0.5"/>
<circle cx="488.37" cy="244.20" r="1.50" fill="#111"/>
<line x1="485.46" y1="258.80" x2="504.82" y2="258.80" stroke="#f08a8a" stroke-width="0.9"/>
<line x1="487.46" y1="258.80" x2="502.82" y2="258.80" stroke="#ee6b6b" stroke-width="0.5"/>
<circle cx="494.66" cy="258.80" r="1.50" fill="#111"/>
<line x1="520.31" y1="273.40" x2="539.67" y2="273.40" stroke="#f08a8a" stroke-width="0.9"/>
<line x1="522.31" y1="273.40" x2="537.67" y2="273.40" stroke="#ee6b6b" stroke-width="0.5"/>
<line x1="544.28" y1="272.20" x2="546.68" y2="274.60" stroke="#b5b5b5" stroke-width="0.5"/>
<line x1="544.28" y1="274.60" x2="546.68" y2="272.20" stroke="#b5b5b5" stroke-width="0.5"/>
<circle cx="529.99" cy="273.40" r="1.50" fill="#111"/>
<line x1="520.80" y1="288.00" x2="540.64" y2="288.00" stroke="#f08a8a" stroke-width="0.9"/>
<line x1="522.80" y1="288.00" x2="538.64" y2="288.00" stroke="#ee6b6b" stroke-width="0.5"/>
<line x1="511.37" y1="286.80" x2="513.77" y2="289.20" stroke="#b5b5b5" stroke-width="0.5"/>
<line x1="511.37" y1="289.20" x2="513.77" y2="286.80" stroke="#b5b5b5" stroke-width="0.5"/>
<circle cx="530.48" cy="288.00" r="1.50" fill="#111"/>
<line x1="520.80" y1="302.60" x2="545.96" y2="302.60" stroke="#f08a8a" stroke-width="0.9"/>
<line x1="522.80" y1="302.60" x2="543.96" y2="302.60" stroke="#ee6b6b" stroke-width="0.5"/>
<line x1="515.24" y1="301.40" x2="517.64" y2="303.80" stroke="#b5b5b5" stroke-width="0.5"/>
<line x1="515.24" y1="303.80" x2="517.64" y2="301.40" stroke="#b5b5b5" stroke-width="0.5"/>
<line x1="550.09" y1="301.40" x2="552.49" y2="303.80" stroke="#b5b5b5" stroke-width="0.5"/>
<line x1="550.09" y1="303.80" x2="552.49" y2="301.40" stroke="#b5b5b5" stroke-width="0.5"/>
<circle cx="532.90" cy="302.60" r="1.50" fill="#111"/>
<line x1="523.70" y1="317.20" x2="543.06" y2="317.20" stroke="#f08a8a" stroke-width="0.9"/>
<line x1="525.70" y1="317.20" x2="541.06" y2="317.20" stroke="#ee6b6b" stroke-width="0.5"/>
<line x1="500.72" y1="316.00" x2="503.12" y2="318.40" stroke="#b5b5b5" stroke-width="0.5"/>
<line x1="500.72" y1="318.40" x2="503.12" y2="316.00" stroke="#b5b5b5" stroke-width="0.5"/>
<line x1="545.25" y1="316.00" x2="547.65" y2="318.40" stroke="#b5b5b5" stroke-width="0.5"/>
<line x1="545.25" y1="318.40" x2="547.65" y2="316.00" stroke="#b5b5b5" stroke-width="0.5"/>
<circle cx="533.38" cy="317.20" r="1.50" fill="#111"/>
<line x1="522.73" y1="331.80" x2="546.45" y2="331.80" stroke="#f08a8a" stroke-width="0.9"/>
<line x1="524.73" y1="331.80" x2="544.45" y2="331.80" stroke="#ee6b6b" stroke-width="0.5"/>
<line x1="548.15" y1="330.60" x2="550.55" y2="333.00" stroke="#b5b5b5" stroke-width="0.5"/>
<line x1="548.15" y1="333.00" x2="550.55" y2="330.60" stroke="#b5b5b5" stroke-width="0.5"/>
<circle cx="534.35" cy="331.80" r="1.50" fill="#111"/>
<line x1="521.76" y1="346.40" x2="547.90" y2="346.40" stroke="#f08a8a" stroke-width="0.9"/>
<line x1="523.76" y1="346.40" x2="545.90" y2="346.40" stroke="#ee6b6b" stroke-width="0.5"/>
<line x1="549.12" y1="345.20" x2="551.52" y2="347.60" stroke="#b5b5b5" stroke-width="0.5"/>
<line x1="549.12" y1="347.60" x2="551.52" y2="345.20" stroke="#b5b5b5" stroke-width="0.5"/>
<circle cx="534.83" cy="346.40" r="1.50" fill="#111"/>
<line x1="523.22" y1="361.00" x2="547.90" y2="361.00" stroke="#f08a8a" stroke-width="0.9"/>
<line x1="525.22" y1="361.00" x2="545.90" y2="361.00" stroke="#ee6b6b" stroke-width="0.5"/>
<line x1="519.11" y1="359.80" x2="521.51" y2="362.20" stroke="#b5b5b5" stroke-width="0.5"/>
<line x1="519.11" y1="362.20" x2="521.51" y2="359.80" stroke="#b5b5b5" stroke-width="0.5"/>
<circle cx="535.80" cy="361.00" r="1.50" fill="#111"/>
<line x1="520.31" y1="375.60" x2="552.74" y2="375.60" stroke="#f08a8a" stroke-width="0.9"/>
<line x1="522.31" y1="375.60" x2="550.74" y2="375.60" stroke="#ee6b6b" stroke-width="0.5"/>
<line x1="564.61" y1="374.40" x2="567.01" y2="376.80" stroke="#b5b5b5" stroke-width="0.5"/>
<line x1="564.61" y1="376.80" x2="567.01" y2="374.40" stroke="#b5b5b5" stroke-width="0.5"/>
<circle cx="537.25" cy="375.60" r="1.50" fill="#111"/>
<line x1="528.06" y1="390.20" x2="547.90" y2="390.20" stroke="#f08a8a" stroke-width="0.9"/>
<line x1="530.06" y1="390.20" x2="545.90" y2="390.20" stroke="#ee6b6b" stroke-width="0.5"/>
<line x1="522.98" y1="389.00" x2="525.38" y2="391.40" stroke="#b5b5b5" stroke-width="0.5"/>
<line x1="522.98" y1="391.40" x2="525.38" y2="389.00" stroke="#b5b5b5" stroke-width="0.5"/>
<circle cx="537.74" cy="390.20" r="1.50" fill="#111"/>
<line x1="526.12" y1="404.80" x2="563.39" y2="404.80" stroke="#f08a8a" stroke-width="0.9"/>
<line x1="528.12" y1="404.80" x2="561.39" y2="404.80" stroke="#ee6b6b" stroke-width="0.5"/>
<line x1="515.24" y1="403.60" x2="517.64" y2="406.00" stroke="#b5b5b5" stroke-width="0.5"/>
<line x1="515.24" y1="406.00" x2="517.64" y2="403.60" stroke="#b5b5b5" stroke-width="0.5"/>
<line x1="565.09" y1="403.60" x2="567.49" y2="406.00" stroke="#b5b5b5" stroke-width="0.5"/>
<line x1="565.09" y1="406.00" x2="567.49" y2="403.60" stroke="#b5b5b5" stroke-width="0.5"/>
<circle cx="544.51" cy="404.80" r="1.50" fill="#111"/>
<rect x="468.40" y="220.70" width="103.20" height="192.60" fill="none" stroke="#9a9a9a" stroke-width="0.8"/>
<line x1="487.40" y1="413.30" x2="487.40" y2="415.10" stroke="#333" stroke-width="0.6"/>
<text x="487.40" y="423.30" font-size="7.4" font-weight="normal" text-anchor="middle" fill="#222">−0.5</text>
<line x1="511.60" y1="413.30" x2="511.60" y2="415.10" stroke="#333" stroke-width="0.6"/>
<text x="511.60" y="423.30" font-size="7.4" font-weight="normal" text-anchor="middle" fill="#222">0.0</text>
<line x1="535.80" y1="413.30" x2="535.80" y2="415.10" stroke="#333" stroke-width="0.6"/>
<text x="535.80" y="423.30" font-size="7.4" font-weight="normal" text-anchor="middle" fill="#222">0.5</text>
<line x1="560.00" y1="413.30" x2="560.00" y2="415.10" stroke="#333" stroke-width="0.6"/>
<text x="560.00" y="423.30" font-size="7.4" font-weight="normal" text-anchor="middle" fill="#222">1.0</text>
<text x="521.20" y="215.00" font-size="8.9" font-weight="bold" text-anchor="middle" fill="#111" textLength="58.30" lengthAdjust="spacingAndGlyphs">Meta-analysis</text>
<text x="524.40" y="434.00" font-size="9.6" font-weight="bold" text-anchor="middle" fill="#111">yi</text>
<rect x="577.60" y="221.30" width="14.76" height="14.71" fill="#7db2d6"/>
<rect x="592.36" y="221.30" width="14.76" height="14.71" fill="#7db2d6"/>
<rect x="607.12" y="221.30" width="14.76" height="14.71" fill="#7db2d6"/>
<rect x="621.88" y="221.30" width="14.76" height="14.71" fill="#7db2d6"/>
<rect x="636.64" y="221.30" width="14.76" height="14.71" fill="#7db2d6"/>
<rect x="577.60" y="236.01" width="14.76" height="14.71" fill="#7db2d6"/>
<rect x="592.36" y="236.01" width="14.76" height="14.71" fill="#7db2d6"/>
<rect x="607.12" y="236.01" width="14.76" height="14.71" fill="#7db2d6"/>
<rect x="621.88" y="236.01" width="14.76" height="14.71" fill="#7db2d6"/>
<rect x="636.64" y="236.01" width="14.76" height="14.71" fill="#7db2d6"/>
<rect x="577.60" y="250.72" width="14.76" height="14.71" fill="#7db2d6"/>
<rect x="592.36" y="250.72" width="14.76" height="14.71" fill="#7db2d6"/>
<rect x="607.12" y="250.72" width="14.76" height="14.71" fill="#7db2d6"/>
<rect x="621.88" y="250.72" width="14.76" height="14.71" fill="#7db2d6"/>
<rect x="636.64" y="250.72" width="14.76" height="14.71" fill="#ea6a45"/>
<rect x="577.60" y="265.42" width="14.76" height="14.71" fill="#ea6a45"/>
<rect x="592.36" y="265.42" width="14.76" height="14.71" fill="#ea6a45"/>
<rect x="607.12" y="265.42" width="14.76" height="14.71" fill="#ea6a45"/>
<rect x="621.88" y="265.42" width="14.76" height="14.71" fill="#7db2d6"/>
<rect x="636.64" y="265.42" width="14.76" height="14.71" fill="#ea6a45"/>
<rect x="577.60" y="280.13" width="14.76" height="14.71" fill="#7db2d6"/>
<rect x="592.36" y="280.13" width="14.76" height="14.71" fill="#7db2d6"/>
<rect x="607.12" y="280.13" width="14.76" height="14.71" fill="#ea6a45"/>
<rect x="621.88" y="280.13" width="14.76" height="14.71" fill="#ea6a45"/>
<rect x="636.64" y="280.13" width="14.76" height="14.71" fill="#ea6a45"/>
<rect x="577.60" y="294.84" width="14.76" height="14.71" fill="#ea6a45"/>
<rect x="592.36" y="294.84" width="14.76" height="14.71" fill="#ea6a45"/>
<rect x="607.12" y="294.84" width="14.76" height="14.71" fill="#ea6a45"/>
<rect x="621.88" y="294.84" width="14.76" height="14.71" fill="#7db2d6"/>
<rect x="636.64" y="294.84" width="14.76" height="14.71" fill="#7db2d6"/>
<rect x="577.60" y="309.55" width="14.76" height="14.71" fill="#ea6a45"/>
<rect x="592.36" y="309.55" width="14.76" height="14.71" fill="#ea6a45"/>
<rect x="607.12" y="309.55" width="14.76" height="14.71" fill="#ea6a45"/>
<rect x="621.88" y="309.55" width="14.76" height="14.71" fill="#ea6a45"/>
<rect x="636.64" y="309.55" width="14.76" height="14.71" fill="#ea6a45"/>
<rect x="577.60" y="324.25" width="14.76" height="14.71" fill="#ea6a45"/>
<rect x="592.36" y="324.25" width="14.76" height="14.71" fill="#ffffff"/>
<rect x="607.12" y="324.25" width="14.76" height="14.71" fill="#ffffff"/>
<rect x="621.88" y="324.25" width="14.76" height="14.71" fill="#ffffff"/>
<rect x="636.64" y="324.25" width="14.76" height="14.71" fill="#ffffff"/>
<rect x="577.60" y="338.96" width="14.76" height="14.71" fill="#ea6a45"/>
<rect x="592.36" y="338.96" width="14.76" height="14.71" fill="#ffffff"/>
<rect x="607.12" y="338.96" width="14.76" height="14.71" fill="#ffffff"/>
<rect x="621.88" y="338.96" width="14.76" height="14.71" fill="#ffffff"/>
<rect x="636.64" y="338.96" width="14.76" height="14.71" fill="#ffffff"/>
<rect x="577.60" y="353.67" width="14.76" height="14.71" fill="#ea6a45"/>
<rect x="592.36" y="353.67" width="14.76" height="14.71" fill="#ea6a45"/>
<rect x="607.12" y="353.67" width="14.76" height="14.71" fill="#ea6a45"/>
<rect x="621.88" y="353.67" width="14.76" height="14.71" fill="#ea6a45"/>
<rect x="636.64" y="353.67" width="14.76" height="14.71" fill="#7db2d6"/>
<rect x="577.60" y="368.38" width="14.76" height="14.71" fill="#ea6a45"/>
<rect x="592.36" y="368.38" width="14.76" height="14.71" fill="#ffffff"/>
<rect x="607.12" y="368.38" width="14.76" height="14.71" fill="#ffffff"/>
<rect x="621.88" y="368.38" width="14.76" height="14.71" fill="#ea6a45"/>
<rect x="636.64" y="368.38" width="14.76" height="14.71" fill="#ea6a45"/>
<rect x="577.60" y="383.08" width="14.76" height="14.71" fill="#ea6a45"/>
<rect x="592.36" y="383.08" width="14.76" height="14.71" fill="#ffffff"/>
<rect x="607.12" y="383.08" width="14.76" height="14.71" fill="#ea6a45"/>
<rect x="621.88" y="383.08" width="14.76" height="14.71" fill="#ea6a45"/>
<rect x="636.64" y="383.08" width="14.76" height="14.71" fill="#ea6a45"/>
<rect x="577.60" y="397.79" width="14.76" height="14.71" fill="#ea6a45"/>
<rect x="592.36" y="397.79" width="14.76" height="14.71" fill="#ea6a45"/>
<rect x="607.12" y="397.79" width="14.76" height="14.71" fill="#ea6a45"/>
<rect x="621.88" y="397.79" width="14.76" height="14.71" fill="#ea6a45"/>
<rect x="636.64" y="397.79" width="14.76" height="14.71" fill="#ea6a45"/>
<line x1="592.36" y1="221.30" x2="592.36" y2="412.50" stroke="#c4c4c4" stroke-width="0.5"/>
<line x1="607.12" y1="221.30" x2="607.12" y2="412.50" stroke="#c4c4c4" stroke-width="0.5"/>
<line x1="621.88" y1="221.30" x2="621.88" y2="412.50" stroke="#c4c4c4" stroke-width="0.5"/>
<line x1="636.64" y1="221.30" x2="636.64" y2="412.50" stroke="#c4c4c4" stroke-width="0.5"/>
<line x1="577.60" y1="236.01" x2="651.40" y2="236.01" stroke="#c4c4c4" stroke-width="0.5"/>
<line x1="577.60" y1="250.72" x2="651.40" y2="250.72" stroke="#c4c4c4" stroke-width="0.5"/>
<line x1="577.60" y1="265.42" x2="651.40" y2="265.42" stroke="#c4c4c4" stroke-width="0.5"/>
<line x1="577.60" y1="280.13" x2="651.40" y2="280.13" stroke="#c4c4c4" stroke-width="0.5"/>
<line x1="577.60" y1="294.84" x2="651.40" y2="294.84" stroke="#c4c4c4" stroke-width="0.5"/>
<line x1="577.60" y1="309.55" x2="651.40" y2="309.55" stroke="#c4c4c4" stroke-width="0.5"/>
<line x1="577.60" y1="324.25" x2="651.40" y2="324.25" stroke="#c4c4c4" stroke-width="0.5"/>
<line x1="577.60" y1="338.96" x2="651.40" y2="338.96" stroke="#c4c4c4" stroke-width="0.5"/>
<line x1="577.60" y1="353.67" x2="651.40" y2="353.67" stroke="#c4c4c4" stroke-width="0.5"/>
<line x1="577.60" y1="368.38" x2="651.40" y2="368.38" stroke="#c4c4c4" stroke-width="0.5"/>
<line x1="577.60" y1="383.08" x2="651.40" y2="383.08" stroke="#c4c4c4" stroke-width="0.5"/>
<line x1="577.60" y1="397.79" x2="651.40" y2="397.79" stroke="#c4c4c4" stroke-width="0.5"/>
<text x="584.98" y="232.85" font-size="8.5" font-weight="bold" text-anchor="middle" fill="#111">**</text>
<text x="644.02" y="232.85" font-size="8.5" font-weight="bold" text-anchor="middle" fill="#111">*</text>
<text x="584.98" y="262.27" font-size="8.5" font-weight="bold" text-anchor="middle" fill="#111">**</text>
<text x="614.50" y="262.27" font-size="8.5" font-weight="bold" text-anchor="middle" fill="#111">*</text>
<text x="584.98" y="321.10" font-size="8.5" font-weight="bold" text-anchor="middle" fill="#111">*</text>
<text x="629.26" y="321.10" font-size="8.5" font-weight="bold" text-anchor="middle" fill="#111">**</text>
<text x="584.98" y="379.93" font-size="8.5" font-weight="bold" text-anchor="middle" fill="#111">*</text>
<text x="644.02" y="379.93" font-size="8.5" font-weight="bold" text-anchor="middle" fill="#111">**</text>
<text x="584.98" y="394.64" font-size="8.5" font-weight="bold" text-anchor="middle" fill="#111">*</text>
<text x="629.26" y="394.64" font-size="8.5" font-weight="bold" text-anchor="middle" fill="#111">**</text>
<text x="644.02" y="394.64" font-size="8.5" font-weight="bold" text-anchor="middle" fill="#111">*</text>
<text x="584.98" y="409.35" font-size="8.5" font-weight="bold" text-anchor="middle" fill="#111">**</text>
<text x="644.02" y="409.35" font-size="8.5" font-weight="bold" text-anchor="middle" fill="#111">**</text>
<rect x="577.60" y="221.30" width="73.80" height="191.20" fill="none" stroke="#999" stroke-width="0.6"/>
<text x="618.00" y="215.00" font-size="8.8" font-weight="bold" text-anchor="middle" fill="#111" textLength="99.40" lengthAdjust="spacingAndGlyphs">Wilcoxon rank-sum test</text>
<text x="587.58" y="415.50" font-size="7.2" font-weight="bold" text-anchor="end" fill="#111" transform="rotate(-90 587.58 415.50)">YanQ_2024.UC</text>
<text x="602.34" y="415.50" font-size="7.2" font-weight="bold" text-anchor="end" fill="#111" transform="rotate(-90 602.34 415.50)">WengY_2019.UC</text>
<text x="617.10" y="415.50" font-size="7.2" font-weight="bold" text-anchor="end" fill="#111" transform="rotate(-90 617.10 415.50)">WengY_2019.CD</text>
<text x="631.86" y="415.50" font-size="7.2" font-weight="bold" text-anchor="end" fill="#111" transform="rotate(-90 631.86 415.50)">HeQ_2017.CD</text>
<text x="646.62" y="415.50" font-size="7.2" font-weight="bold" text-anchor="end" fill="#111" transform="rotate(-90 646.62 415.50)">YanQ_2024.CD</text>
<text x="378.00" y="443.20" font-size="8.7" font-weight="bold" text-anchor="start" fill="#111" textLength="47.20" lengthAdjust="spacingAndGlyphs">Enriched in</text>
<text x="378.00" y="456.90" font-size="8.9" font-weight="bold" text-anchor="start" fill="#111" textLength="76.00" lengthAdjust="spacingAndGlyphs">(fold change &gt;1.2)</text>
<rect x="457.70" y="437.70" width="10.30" height="9.60" fill="#7db2d6"/>
<rect x="457.70" y="448.30" width="10.30" height="9.60" fill="#ea6a45"/>
<text x="472.00" y="446.60" font-size="8.8" font-weight="bold" text-anchor="start" fill="#111" textLength="68.90" lengthAdjust="spacingAndGlyphs">Healthy controls</text>
<text x="472.00" y="456.60" font-size="8.8" font-weight="bold" text-anchor="start" fill="#111">IBD patients</text>
<text x="1.80" y="483.50" font-size="14" font-weight="bold" text-anchor="start" fill="#111">e</text>
<ellipse cx="24.4" cy="501.3" rx="3.3" ry="3.7" fill="#2d52b9"/>
<path d="M22.8 504.6L22.8 506.9Q17.5 507.2 16.6 509.6L15.2 518L13.4 527.5Q12.2 530 12.9 531.6Q14.6 532.2 15.3 530.2L16.6 527L18.4 518.5L18.9 514L19.4 519L19.6 525.5Q19.6 532 20.2 540L20.6 554.5L19.9 557L23.4 557L23.6 554L23.8 540L24.4 531.5L25 540L25.2 554L25.4 557L28.9 557L28.2 554.5L28.6 540Q29.2 532 29.2 525.5L29.4 519L29.9 514L30.4 518.5L32.2 527L33.5 530.2Q34.2 532.2 35.9 531.6Q36.6 530 35.4 527.5L33.6 518L32.2 509.6Q31.3 507.2 26 506.9L26 504.6Z" fill="#2d52b9"/>
<path d="M21.9 522.6L27 522.6Q27.8 522.6 27.8 523.8L27.8 526.4Q27.8 527.4 26.7 527.4L24.6 527.4L24.6 529M21.9 522.6L21.9 527.6" fill="none" stroke="#fff" stroke-width="1.0"/>
<path d="M42.4 543C42 539.6 43.6 537.3 46.6 537.2L61.4 537.2C64.4 537.3 65.9 539.6 65.1 543Z" fill="#e5a9b4" stroke="#c8384e" stroke-width="0.8"/>
<path d="M46.1 537.6C45.5 534.3 47.2 532.5 49.8 532.4L58 532.4C60.8 532.5 62.1 534.3 61.3 537.6Z" fill="#e5a9b4" stroke="#c8384e" stroke-width="0.8"/>
<path d="M48.5 532.8C47.9 529.6 50.3 527.7 52.9 527.5C53.4 526.9 53.6 526.3 53.3 525.6C55.6 526.2 56.9 527.3 57.1 528.3C58.7 529.1 59.1 531 58.5 532.8Z" fill="#e5a9b4" stroke="#c8384e" stroke-width="0.8"/>
<path d="M45 540.5Q53 539.2 62 540.3M48.6 535.3Q54 534.4 59 535.2M50.8 530.4Q53.5 529.6 56.5 530.2" fill="none" stroke="#f2d0d6" stroke-width="0.8"/>
<line x1="41.80" y1="543.20" x2="66.00" y2="543.20" stroke="#c8384e" stroke-width="0.9"/>
<text x="53.40" y="554.20" font-size="10.2" font-weight="bold" text-anchor="middle" fill="#2a2a2a" textLength="31.00" lengthAdjust="spacingAndGlyphs">Feces</text>
<path d="M70 536.6H87.6M79.0 532.0L87.6 536.6L79.0 541.2" fill="none" stroke="#1a1a1a" stroke-width="1.3" stroke-linejoin="miter"/>
<circle cx="107.80" cy="532.20" r="12.50" fill="#80d6c1" stroke="#4db89d" stroke-width="0.8"/>
<rect x="96.90" y="527.15" width="7.60" height="2.90" rx="1.45" fill="#bdeee2" stroke="#3aa589" stroke-width="0.75" transform="rotate(-45 100.70 528.60)"/>
<rect x="109.70" y="523.55" width="7.60" height="2.90" rx="1.45" fill="#bdeee2" stroke="#3aa589" stroke-width="0.75" transform="rotate(45 113.50 525.00)"/>
<rect x="103.10" y="530.25" width="7.60" height="2.90" rx="1.45" fill="#bdeee2" stroke="#3aa589" stroke-width="0.75" transform="rotate(80 106.90 531.70)"/>
<rect x="109.70" y="534.35" width="7.60" height="2.90" rx="1.45" fill="#bdeee2" stroke="#3aa589" stroke-width="0.75" transform="rotate(-60 113.50 535.80)"/>
<rect x="99.50" y="537.85" width="7.60" height="2.90" rx="1.45" fill="#bdeee2" stroke="#3aa589" stroke-width="0.75" transform="rotate(40 103.30 539.30)"/>
<circle cx="107.95" cy="538.85" r="0.35" fill="#bdeee2"/>
<circle cx="114.95" cy="530.92" r="0.35" fill="#bdeee2"/>
<circle cx="103.36" cy="532.70" r="0.35" fill="#bdeee2"/>
<circle cx="114.28" cy="539.81" r="0.35" fill="#bdeee2"/>
<circle cx="107.90" cy="528.20" r="0.35" fill="#bdeee2"/>
<circle cx="101.43" cy="527.92" r="0.35" fill="#bdeee2"/>
<circle cx="111.33" cy="529.84" r="0.35" fill="#bdeee2"/>
<circle cx="106.45" cy="535.43" r="0.35" fill="#bdeee2"/>
<circle cx="99.87" cy="527.20" r="0.35" fill="#bdeee2"/>
<circle cx="107.49" cy="529.10" r="0.35" fill="#bdeee2"/>
<line x1="127.30" y1="519.40" x2="120.70" y2="545.00" stroke="#111" stroke-width="1.3"/>
<circle cx="142.40" cy="532.20" r="12.30" fill="#6e6e6e" stroke="#3a3a3a" stroke-width="0.8"/>
<rect x="131.50" y="527.15" width="7.60" height="2.90" rx="1.45" fill="#a8a8a8" stroke="#222" stroke-width="0.75" transform="rotate(-45 135.30 528.60)"/>
<rect x="144.30" y="523.55" width="7.60" height="2.90" rx="1.45" fill="#a8a8a8" stroke="#222" stroke-width="0.75" transform="rotate(45 148.10 525.00)"/>
<rect x="137.70" y="530.25" width="7.60" height="2.90" rx="1.45" fill="#a8a8a8" stroke="#222" stroke-width="0.75" transform="rotate(80 141.50 531.70)"/>
<rect x="144.30" y="534.35" width="7.60" height="2.90" rx="1.45" fill="#a8a8a8" stroke="#222" stroke-width="0.75" transform="rotate(-60 148.10 535.80)"/>
<rect x="134.10" y="537.85" width="7.60" height="2.90" rx="1.45" fill="#a8a8a8" stroke="#222" stroke-width="0.75" transform="rotate(40 137.90 539.30)"/>
<circle cx="135.93" cy="528.52" r="0.35" fill="#a8a8a8"/>
<circle cx="136.53" cy="532.69" r="0.35" fill="#a8a8a8"/>
<circle cx="137.52" cy="539.37" r="0.35" fill="#a8a8a8"/>
<circle cx="142.19" cy="534.98" r="0.35" fill="#a8a8a8"/>
<circle cx="145.45" cy="537.89" r="0.35" fill="#a8a8a8"/>
<circle cx="146.65" cy="527.56" r="0.35" fill="#a8a8a8"/>
<circle cx="146.28" cy="533.17" r="0.35" fill="#a8a8a8"/>
<circle cx="146.06" cy="534.84" r="0.35" fill="#a8a8a8"/>
<circle cx="138.00" cy="540.34" r="0.35" fill="#a8a8a8"/>
<circle cx="133.90" cy="533.09" r="0.35" fill="#a8a8a8"/>
<text x="152.90" y="513.80" font-size="10.4" font-weight="bold" text-anchor="middle" fill="#111" textLength="66.30" lengthAdjust="spacingAndGlyphs">70 °C/30 min</text>
<text x="125.20" y="554.40" font-size="10.4" font-weight="bold" text-anchor="middle" fill="#111" textLength="40.90" lengthAdjust="spacingAndGlyphs">P4013B</text>
<path d="M168.1 536.8H185.7M177.1 532.1999999999999L185.7 536.8L177.1 541.4" fill="none" stroke="#1a1a1a" stroke-width="1.3" stroke-linejoin="miter"/>
<path d="M199.5 534Q197 526 203 521.5Q208 519 213 521.5Q218.5 525.5 216.2 534" fill="none" stroke="#222" stroke-width="0.75"/>
<path d="M205.8 520.8Q208 516.5 212 516.3Q216 516.3 220 519.5Q223 522 226.8 522.5" fill="none" stroke="#222" stroke-width="1.1"/>
<circle cx="201.20" cy="533.30" r="3.60" fill="#fff" stroke="#222" stroke-width="0.7"/>
<circle cx="214.60" cy="533.30" r="3.60" fill="#fff" stroke="#222" stroke-width="0.7"/>
<path d="M200.2 535.8Q201 540 205 541.5L207.4 543.6L209.8 541.5Q213.8 540 214.6 535.8" fill="#fff" stroke="#222" stroke-width="0.7"/>
<path d="M203.9 534.6Q201.6 531.5 200.2 534.5M211 534.6Q213.3 531.5 214.8 534.5" fill="none" stroke="#222" stroke-width="0.6"/>
<circle cx="205.00" cy="539.20" r="0.95" fill="#222"/>
<circle cx="210.00" cy="539.20" r="0.95" fill="#222"/>
<circle cx="207.40" cy="543.20" r="0.95" fill="#222"/>
<path d="M198.5 541.5L205 542.3M198.8 543.5L205 542.8M216.3 541.5L209.8 542.3M216 543.5L209.8 542.8" fill="none" stroke="#555" stroke-width="0.4"/>
<text x="208.40" y="554.10" font-size="10.4" font-weight="bold" text-anchor="middle" fill="#111" textLength="51.30" lengthAdjust="spacingAndGlyphs">SPF mice</text>
<rect x="118.00" y="567.70" width="156.80" height="11.60" fill="#7db4d8"/>
<rect x="229.50" y="580.00" width="45.30" height="12.60" fill="#ea6a44"/>
<text x="195.30" y="577.30" font-size="10.5" font-weight="bold" text-anchor="middle" fill="#111" textLength="149.00" lengthAdjust="spacingAndGlyphs">Live or Pasteurized P4013B</text>
<text x="252.20" y="591.50" font-size="10.9" font-weight="bold" text-anchor="middle" fill="#111">DSS</text>
<line x1="118.00" y1="563.50" x2="118.00" y2="599.60" stroke="#111" stroke-width="1.2"/>
<line x1="229.50" y1="580.00" x2="229.50" y2="599.60" stroke="#111" stroke-width="1.2"/>
<line x1="274.80" y1="563.50" x2="274.80" y2="599.60" stroke="#111" stroke-width="1.2"/>
<text x="120.40" y="612.30" font-size="10.6" font-weight="bold" text-anchor="middle" fill="#111">-14</text>
<text x="229.30" y="612.30" font-size="10.6" font-weight="bold" text-anchor="middle" fill="#111">0</text>
<text x="274.60" y="612.30" font-size="10.6" font-weight="bold" text-anchor="middle" fill="#111">7</text>
<text x="230.00" y="625.40" font-size="10.8" font-weight="bold" text-anchor="middle" fill="#111">Day</text>
<text x="287.50" y="483.50" font-size="14" font-weight="bold" text-anchor="start" fill="#111">f</text>
<line x1="342.00" y1="597.40" x2="342.00" y2="511.30" stroke="#000" stroke-width="1.6"/>
<line x1="341.20" y1="597.40" x2="426.60" y2="597.40" stroke="#000" stroke-width="1.6"/>
<line x1="339.50" y1="597.40" x2="342.00" y2="597.40" stroke="#111" stroke-width="1.1"/>
<text x="337.50" y="601.00" font-size="10" font-weight="bold" text-anchor="end" fill="#111">0</text>
<line x1="339.50" y1="568.80" x2="342.00" y2="568.80" stroke="#111" stroke-width="1.1"/>
<text x="337.50" y="572.40" font-size="10" font-weight="bold" text-anchor="end" fill="#111">5</text>
<line x1="339.50" y1="540.20" x2="342.00" y2="540.20" stroke="#111" stroke-width="1.1"/>
<text x="337.50" y="543.80" font-size="10" font-weight="bold" text-anchor="end" fill="#111">10</text>
<line x1="339.50" y1="511.60" x2="342.00" y2="511.60" stroke="#111" stroke-width="1.1"/>
<text x="337.50" y="515.20" font-size="10" font-weight="bold" text-anchor="end" fill="#111">15</text>
<line x1="342.00" y1="597.40" x2="342.00" y2="599.90" stroke="#111" stroke-width="1.1"/>
<text x="342.00" y="615.60" font-size="10" font-weight="bold" text-anchor="middle" fill="#111">0</text>
<line x1="363.10" y1="597.40" x2="363.10" y2="599.90" stroke="#111" stroke-width="1.1"/>
<text x="363.10" y="615.60" font-size="10" font-weight="bold" text-anchor="middle" fill="#111">2</text>
<line x1="384.20" y1="597.40" x2="384.20" y2="599.90" stroke="#111" stroke-width="1.1"/>
<text x="384.20" y="615.60" font-size="10" font-weight="bold" text-anchor="middle" fill="#111">4</text>
<line x1="405.30" y1="597.40" x2="405.30" y2="599.90" stroke="#111" stroke-width="1.1"/>
<text x="405.30" y="615.60" font-size="10" font-weight="bold" text-anchor="middle" fill="#111">6</text>
<line x1="426.40" y1="597.40" x2="426.40" y2="599.90" stroke="#111" stroke-width="1.1"/>
<text x="426.40" y="615.60" font-size="10" font-weight="bold" text-anchor="middle" fill="#111">8</text>
<line x1="352.55" y1="597.40" x2="352.55" y2="598.90" stroke="#111" stroke-width="1.0"/>
<line x1="373.65" y1="597.40" x2="373.65" y2="598.90" stroke="#111" stroke-width="1.0"/>
<line x1="394.75" y1="597.40" x2="394.75" y2="598.90" stroke="#111" stroke-width="1.0"/>
<line x1="415.85" y1="597.40" x2="415.85" y2="598.90" stroke="#111" stroke-width="1.0"/>
<text x="315.80" y="555.40" font-size="10" font-weight="bold" text-anchor="middle" fill="#111" transform="rotate(-90 315.80 555.40)">DAI</text>
<text x="385.00" y="626.30" font-size="10.5" font-weight="bold" text-anchor="middle" fill="#111" textLength="70.10" lengthAdjust="spacingAndGlyphs">Day after DSS</text>
<polyline points="342.0,597.4 352.6,597.4 363.1,597.4 373.6,597.4 384.2,596.8 394.8,595.7 405.3,596.3 415.9,594.5" fill="none" stroke="#7cb8dc" stroke-width="1.9"/>
<polyline points="342.0,597.4 352.6,597.4 363.1,582.5 373.6,582.5 384.2,564.2 394.8,542.5 405.3,535.6 415.9,529.9" fill="none" stroke="#ec6a43" stroke-width="1.9"/>
<polyline points="342.0,597.4 352.6,597.4 363.1,585.4 373.6,583.1 384.2,568.2 394.8,555.1 405.3,541.9 415.9,532.8" fill="none" stroke="#d690ef" stroke-width="1.9"/>
<polyline points="342.0,597.4 352.6,597.4 363.1,592.3 373.6,590.0 384.2,578.5 394.8,567.1 405.3,556.8 415.9,548.8" fill="none" stroke="#43c943" stroke-width="1.9"/>
<circle cx="342.00" cy="597.40" r="2.00" fill="#fff" stroke="#111" stroke-width="0.9"/>
<circle cx="352.55" cy="597.40" r="2.00" fill="#fff" stroke="#111" stroke-width="0.9"/>
<circle cx="363.10" cy="597.40" r="2.00" fill="#fff" stroke="#111" stroke-width="0.9"/>
<circle cx="373.65" cy="597.40" r="2.00" fill="#fff" stroke="#111" stroke-width="0.9"/>
<circle cx="384.20" cy="596.83" r="2.00" fill="#fff" stroke="#111" stroke-width="0.9"/>
<circle cx="394.75" cy="595.68" r="2.00" fill="#fff" stroke="#111" stroke-width="0.9"/>
<circle cx="405.30" cy="596.26" r="2.00" fill="#fff" stroke="#111" stroke-width="0.9"/>
<circle cx="415.85" cy="594.54" r="2.00" fill="#fff" stroke="#111" stroke-width="0.9"/>
<circle cx="342.00" cy="597.40" r="2.00" fill="#fff" stroke="#111" stroke-width="0.9"/>
<circle cx="352.55" cy="597.40" r="2.00" fill="#fff" stroke="#111" stroke-width="0.9"/>
<circle cx="363.10" cy="582.53" r="2.00" fill="#fff" stroke="#111" stroke-width="0.9"/>
<circle cx="373.65" cy="582.53" r="2.00" fill="#fff" stroke="#111" stroke-width="0.9"/>
<circle cx="384.20" cy="564.22" r="2.00" fill="#fff" stroke="#111" stroke-width="0.9"/>
<circle cx="394.75" cy="542.49" r="2.00" fill="#fff" stroke="#111" stroke-width="0.9"/>
<circle cx="405.30" cy="535.62" r="2.00" fill="#fff" stroke="#111" stroke-width="0.9"/>
<circle cx="415.85" cy="529.90" r="2.00" fill="#fff" stroke="#111" stroke-width="0.9"/>
<circle cx="342.00" cy="597.40" r="2.00" fill="#fff" stroke="#111" stroke-width="0.9"/>
<circle cx="352.55" cy="597.40" r="2.00" fill="#fff" stroke="#111" stroke-width="0.9"/>
<circle cx="363.10" cy="585.39" r="2.00" fill="#fff" stroke="#111" stroke-width="0.9"/>
<circle cx="373.65" cy="583.10" r="2.00" fill="#fff" stroke="#111" stroke-width="0.9"/>
<circle cx="384.20" cy="568.23" r="2.00" fill="#fff" stroke="#111" stroke-width="0.9"/>
<circle cx="394.75" cy="555.07" r="2.00" fill="#fff" stroke="#111" stroke-width="0.9"/>
<circle cx="405.30" cy="541.92" r="2.00" fill="#fff" stroke="#111" stroke-width="0.9"/>
<circle cx="415.85" cy="532.76" r="2.00" fill="#fff" stroke="#111" stroke-width="0.9"/>
<circle cx="342.00" cy="597.40" r="2.00" fill="#fff" stroke="#111" stroke-width="0.9"/>
<circle cx="352.55" cy="597.40" r="2.00" fill="#fff" stroke="#111" stroke-width="0.9"/>
<circle cx="363.10" cy="592.25" r="2.00" fill="#fff" stroke="#111" stroke-width="0.9"/>
<circle cx="373.65" cy="589.96" r="2.00" fill="#fff" stroke="#111" stroke-width="0.9"/>
<circle cx="384.20" cy="578.52" r="2.00" fill="#fff" stroke="#111" stroke-width="0.9"/>
<circle cx="394.75" cy="567.08" r="2.00" fill="#fff" stroke="#111" stroke-width="0.9"/>
<circle cx="405.30" cy="556.79" r="2.00" fill="#fff" stroke="#111" stroke-width="0.9"/>
<circle cx="415.85" cy="548.78" r="2.00" fill="#fff" stroke="#111" stroke-width="0.9"/>
<line x1="394.75" y1="539.06" x2="394.75" y2="545.92" stroke="#222" stroke-width="0.6"/>
<line x1="394.75" y1="552.21" x2="394.75" y2="557.93" stroke="#222" stroke-width="0.6"/>
<line x1="384.20" y1="561.94" x2="384.20" y2="566.51" stroke="#222" stroke-width="0.6"/>
<line x1="384.20" y1="576.24" x2="384.20" y2="580.81" stroke="#222" stroke-width="0.6"/>
<line x1="405.30" y1="533.34" x2="405.30" y2="537.91" stroke="#222" stroke-width="0.6"/>
<line x1="415.85" y1="546.49" x2="415.85" y2="551.07" stroke="#222" stroke-width="0.6"/>
<path d="M421.4 529H424V548.8H421.4" fill="none" stroke="#000" stroke-width="1.4"/>
<path d="M437 529H441V593.5H437" fill="none" stroke="#000" stroke-width="1.4"/>
<text x="427.30" y="546.80" font-size="8.3" font-weight="bold" text-anchor="middle" fill="#111" transform="rotate(90 427.30 546.80)" textLength="35.60" lengthAdjust="spacingAndGlyphs">P&lt;0.0001</text>
<text x="443.00" y="558.50" font-size="8.3" font-weight="bold" text-anchor="middle" fill="#111" transform="rotate(90 443.00 558.50)" textLength="35.60" lengthAdjust="spacingAndGlyphs">P&lt;0.0001</text>
<line x1="296.60" y1="484.50" x2="315.00" y2="484.50" stroke="#7cb8dc" stroke-width="2.0"/>
<circle cx="305.80" cy="484.50" r="2.00" fill="#fff" stroke="#111" stroke-width="0.9"/>
<text x="326.00" y="488.10" font-size="10.3" font-weight="bold" text-anchor="start" fill="#111">Vehicle</text>
<line x1="296.60" y1="498.90" x2="315.00" y2="498.90" stroke="#ec6a43" stroke-width="2.0"/>
<circle cx="305.80" cy="498.90" r="2.00" fill="#fff" stroke="#111" stroke-width="0.9"/>
<text x="326.00" y="502.50" font-size="10.3" font-weight="bold" text-anchor="start" fill="#111">DSS</text>
<line x1="372.80" y1="484.50" x2="391.20" y2="484.50" stroke="#43c943" stroke-width="2.0"/>
<circle cx="382.00" cy="484.50" r="2.00" fill="#fff" stroke="#111" stroke-width="0.9"/>
<text x="405.60" y="488.10" font-size="10.3" font-weight="bold" text-anchor="start" fill="#111">+ P4013B</text>
<line x1="372.80" y1="498.90" x2="391.20" y2="498.90" stroke="#d690ef" stroke-width="2.0"/>
<circle cx="382.00" cy="498.90" r="2.00" fill="#fff" stroke="#111" stroke-width="0.9"/>
<text x="405.60" y="502.50" font-size="10.3" font-weight="bold" text-anchor="start" fill="#111">+ P4013B*</text>
<text x="472.70" y="486.30" font-size="14" font-weight="bold" text-anchor="start" fill="#111">g</text>
<rect x="483.90" y="495.00" width="182.90" height="84.30" fill="#ebe7e7"/>
<path d="M485.7 495V579.3M494.5 495V579.3M503.3 495V579.3M512.1 495V579.3M520.9 495V579.3M529.7 495V579.3M538.5 495V579.3M547.3 495V579.3M556.1 495V579.3M564.9 495V579.3M573.7 495V579.3M582.5 495V579.3M591.3 495V579.3M600.1 495V579.3M608.9 495V579.3M617.7 495V579.3M626.5 495V579.3M635.3 495V579.3M644.1 495V579.3M652.9 495V579.3M661.7 495V579.3M483.9 504.7H666.8M483.9 513.5H666.8M483.9 522.2H666.8M483.9 530.9H666.8M483.9 539.7H666.8M483.9 548.4H666.8M483.9 557.2H666.8M483.9 565.9H666.8M483.9 574.7H666.8" fill="none" stroke="#ecdcd8" stroke-width="0.35"/>
<path d="M490.1 495V579.3M498.9 495V579.3M507.7 495V579.3M516.5 495V579.3M525.3 495V579.3M534.1 495V579.3M542.9 495V579.3M551.7 495V579.3M560.5 495V579.3M569.3 495V579.3M578.1 495V579.3M586.9 495V579.3M595.7 495V579.3M604.5 495V579.3M613.3 495V579.3M622.1 495V579.3M630.9 495V579.3M639.7 495V579.3M648.5 495V579.3M657.3 495V579.3M666.1 495V579.3M483.9 500.3H666.8M483.9 509.1H666.8M483.9 517.8H666.8M483.9 526.5H666.8M483.9 535.3H666.8M483.9 544.0H666.8M483.9 552.8H666.8M483.9 561.5H666.8M483.9 570.3H666.8M483.9 579.0H666.8" fill="none" stroke="#efbcae" stroke-width="0.6"/>
<path d="M489.5 503.3Q490.5 535.6 489.2 567" fill="none" stroke="#d9c9a8" stroke-width="3.0" stroke-linecap="round"/>
<path d="M489.1 506.3Q490.1 535.6 488.8 566" fill="none" stroke="#8a7060" stroke-width="0.5" opacity="0.5"/>
<ellipse cx="489.5" cy="518.5" rx="2.2" ry="3.6" fill="#5a3a22"/>
<ellipse cx="490.5" cy="571.8" rx="5.5" ry="4.8" fill="#86773a"/>
<ellipse cx="489.7" cy="571.3" rx="2.2" ry="1.6" fill="#d9c9a8" opacity="0.55"/>
<path d="M502.6 507.3Q503.6 537.6 502.3 567" fill="none" stroke="#d6c6a4" stroke-width="3.0" stroke-linecap="round"/>
<path d="M502.2 510.3Q503.2 537.6 501.9 566" fill="none" stroke="#8a7060" stroke-width="0.5" opacity="0.5"/>
<ellipse cx="502.6" cy="526.0" rx="1.9" ry="3" fill="#4a3020"/>
<ellipse cx="501.5" cy="571.8" rx="6.2" ry="4.8" fill="#8a7b3c"/>
<ellipse cx="500.7" cy="571.3" rx="2.2" ry="1.6" fill="#d6c6a4" opacity="0.55"/>
<path d="M515.5 497.2Q516.5 532.6 515.2 567" fill="none" stroke="#d5c39e" stroke-width="3.0" stroke-linecap="round"/>
<path d="M515.1 500.2Q516.1 532.6 514.8 566" fill="none" stroke="#8a7060" stroke-width="0.5" opacity="0.5"/>
<ellipse cx="515.5" cy="508.0" rx="1.9" ry="3.2" fill="#4a3020"/>
<ellipse cx="515.3" cy="522.5" rx="1.4" ry="1.5" fill="#4a3020"/>
<ellipse cx="514.6" cy="571.8" rx="7" ry="4.8" fill="#8f8040"/>
<ellipse cx="513.8" cy="571.3" rx="2.2" ry="1.6" fill="#d5c39e" opacity="0.55"/>
<path d="M536.9 526.6Q537.9 547.3 536.6 567" fill="none" stroke="#cdb9a6" stroke-width="3.0" stroke-linecap="round"/>
<path d="M536.5 529.6Q537.5 547.3 536.2 566" fill="none" stroke="#8a7060" stroke-width="0.5" opacity="0.5"/>
<ellipse cx="532.0" cy="571.8" rx="7.6" ry="4.8" fill="#2b2129"/>
<ellipse cx="531.2" cy="571.3" rx="2.2" ry="1.6" fill="#cdb9a6" opacity="0.55"/>
<path d="M548.0 532.2Q549.0 550.1 547.7 567" fill="none" stroke="#ccb8a6" stroke-width="3.0" stroke-linecap="round"/>
<path d="M547.6 535.2Q548.6 550.1 547.3 566" fill="none" stroke="#8a7060" stroke-width="0.5" opacity="0.5"/>
<ellipse cx="546.8" cy="571.8" rx="5.9" ry="4.8" fill="#2e232c"/>
<ellipse cx="546.0" cy="571.3" rx="2.2" ry="1.6" fill="#ccb8a6" opacity="0.55"/>
<path d="M559.9 535.8Q560.9 551.9 559.6 567" fill="none" stroke="#d2c0ac" stroke-width="3.0" stroke-linecap="round"/>
<path d="M559.5 538.8Q560.5 551.9 559.2 566" fill="none" stroke="#8a7060" stroke-width="0.5" opacity="0.5"/>
<ellipse cx="557.7" cy="571.8" rx="5" ry="4.8" fill="#302430"/>
<ellipse cx="556.9" cy="571.3" rx="2.2" ry="1.6" fill="#d2c0ac" opacity="0.55"/>
<path d="M578.5 522.7Q579.5 545.4 578.2 567" fill="none" stroke="#d4c0a6" stroke-width="3.0" stroke-linecap="round"/>
<path d="M578.1 525.7Q579.1 545.4 577.8 566" fill="none" stroke="#8a7060" stroke-width="0.5" opacity="0.5"/>
<ellipse cx="578.3" cy="537.0" rx="1.4" ry="2.5" fill="#6a4a3a"/>
<ellipse cx="578.5" cy="571.8" rx="5.5" ry="4.8" fill="#a08a78"/>
<ellipse cx="577.7" cy="571.3" rx="2.2" ry="1.6" fill="#d4c0a6" opacity="0.55"/>
<path d="M590.4 519.1Q591.4 543.5 590.1 567" fill="none" stroke="#b89a98" stroke-width="3.0" stroke-linecap="round"/>
<path d="M590.0 522.1Q591.0 543.5 589.7 566" fill="none" stroke="#8a7060" stroke-width="0.5" opacity="0.5"/>
<ellipse cx="590.4" cy="530.0" rx="1.3" ry="3" fill="#5a2a3a"/>
<ellipse cx="589.5" cy="571.8" rx="7" ry="4.8" fill="#4a2632"/>
<ellipse cx="588.7" cy="571.3" rx="2.2" ry="1.6" fill="#b89a98" opacity="0.55"/>
<path d="M606.2 519.1Q607.2 543.5 605.9 567" fill="none" stroke="#cdb8a8" stroke-width="3.0" stroke-linecap="round"/>
<path d="M605.8 522.1Q606.8 543.5 605.5 566" fill="none" stroke="#8a7060" stroke-width="0.5" opacity="0.5"/>
<ellipse cx="603.5" cy="571.8" rx="7" ry="4.8" fill="#6e5058"/>
<ellipse cx="602.7" cy="571.3" rx="2.2" ry="1.6" fill="#cdb8a8" opacity="0.55"/>
<path d="M631.2 527.4Q632.2 547.7 630.9 567" fill="none" stroke="#ddd2cc" stroke-width="3.0" stroke-linecap="round"/>
<path d="M630.8 530.4Q631.8 547.7 630.5 566" fill="none" stroke="#8a7060" stroke-width="0.5" opacity="0.5"/>
<ellipse cx="630.5" cy="571.8" rx="4.9" ry="4.8" fill="#3e3444"/>
<ellipse cx="629.7" cy="571.3" rx="2.2" ry="1.6" fill="#ddd2cc" opacity="0.55"/>
<path d="M643.7 535.0Q644.7 551.5 643.4 567" fill="none" stroke="#dbcfc8" stroke-width="3.0" stroke-linecap="round"/>
<path d="M643.3 538.0Q644.3 551.5 643.0 566" fill="none" stroke="#8a7060" stroke-width="0.5" opacity="0.5"/>
<ellipse cx="642.0" cy="571.8" rx="4.4" ry="4.8" fill="#463c4a"/>
<ellipse cx="641.2" cy="571.3" rx="2.2" ry="1.6" fill="#dbcfc8" opacity="0.55"/>
<path d="M659.7 527.4Q660.7 547.7 659.4 567" fill="none" stroke="#d2c2b8" stroke-width="3.0" stroke-linecap="round"/>
<path d="M659.3 530.4Q660.3 547.7 659.0 566" fill="none" stroke="#8a7060" stroke-width="0.5" opacity="0.5"/>
<ellipse cx="656.0" cy="571.8" rx="7" ry="4.8" fill="#40343e"/>
<ellipse cx="655.2" cy="571.3" rx="2.2" ry="1.6" fill="#d2c2b8" opacity="0.55"/>
<line x1="491.20" y1="585.00" x2="523.40" y2="585.00" stroke="#111" stroke-width="2.2"/>
<line x1="533.00" y1="585.00" x2="565.00" y2="585.00" stroke="#111" stroke-width="2.2"/>
<line x1="576.00" y1="585.00" x2="608.50" y2="585.00" stroke="#111" stroke-width="2.2"/>
<line x1="626.60" y1="585.00" x2="659.00" y2="585.00" stroke="#111" stroke-width="2.2"/>
<text x="510.50" y="595.54" font-size="11.3" font-weight="bold" text-anchor="end" fill="#111" transform="rotate(-45 510.50 595.54)">Vehicle</text>
<text x="557.20" y="596.79" font-size="11.3" font-weight="bold" text-anchor="end" fill="#111" transform="rotate(-45 557.20 596.79)">DSS</text>
<text x="599.50" y="596.79" font-size="11.3" font-weight="bold" text-anchor="end" fill="#111" transform="rotate(-45 599.50 596.79)">+ P4013B</text>
<text x="649.80" y="597.08" font-size="11.3" font-weight="bold" text-anchor="end" fill="#111" transform="rotate(-45 649.80 597.08)">+ P4013B*</text>
<text x="1.80" y="643.50" font-size="14" font-weight="bold" text-anchor="start" fill="#111">h</text>
<line x1="55.20" y1="753.50" x2="55.20" y2="650.20" stroke="#000" stroke-width="1.5"/>
<line x1="55.20" y1="752.80" x2="146.70" y2="752.80" stroke="#000" stroke-width="1.5"/>
<line x1="50.10" y1="738.30" x2="55.20" y2="738.30" stroke="#000" stroke-width="1.4"/>
<text x="47.60" y="742.20" font-size="10.8" font-weight="bold" text-anchor="end" fill="#111">4</text>
<line x1="50.10" y1="709.30" x2="55.20" y2="709.30" stroke="#000" stroke-width="1.4"/>
<text x="47.60" y="713.20" font-size="10.8" font-weight="bold" text-anchor="end" fill="#111">6</text>
<line x1="50.10" y1="680.30" x2="55.20" y2="680.30" stroke="#000" stroke-width="1.4"/>
<text x="47.60" y="684.20" font-size="10.8" font-weight="bold" text-anchor="end" fill="#111">8</text>
<line x1="50.10" y1="651.30" x2="55.20" y2="651.30" stroke="#000" stroke-width="1.4"/>
<text x="47.60" y="655.20" font-size="10.8" font-weight="bold" text-anchor="end" fill="#111">10</text>
<rect x="62.30" y="694.80" width="13.70" height="58.00" fill="#79afd0"/>
<rect x="83.40" y="731.05" width="13.60" height="21.75" fill="#e8673f"/>
<rect x="104.20" y="716.55" width="13.80" height="36.25" fill="#47cf47"/>
<rect x="125.00" y="727.42" width="14.00" height="25.38" fill="#d98ff0"/>
<line x1="69.20" y1="694.80" x2="69.20" y2="683.20" stroke="#111" stroke-width="1"/>
<line x1="66.00" y1="683.20" x2="72.40" y2="683.20" stroke="#111" stroke-width="1"/>
<circle cx="65.50" cy="686.50" r="2.00" fill="#fff" stroke="#111" stroke-width="1.0"/>
<circle cx="69.50" cy="685.30" r="2.00" fill="#fff" stroke="#111" stroke-width="1.0"/>
<circle cx="73.50" cy="686.30" r="2.00" fill="#fff" stroke="#111" stroke-width="1.0"/>
<circle cx="71.50" cy="690.50" r="2.00" fill="#fff" stroke="#111" stroke-width="1.0"/>
<circle cx="65.50" cy="709.50" r="2.00" fill="#fff" stroke="#111" stroke-width="1.0"/>
<circle cx="71.00" cy="708.50" r="2.00" fill="#fff" stroke="#111" stroke-width="1.0"/>
<circle cx="86.00" cy="729.50" r="2.00" fill="#fff" stroke="#111" stroke-width="1.0"/>
<circle cx="90.00" cy="727.50" r="2.00" fill="#fff" stroke="#111" stroke-width="1.0"/>
<circle cx="94.50" cy="727.80" r="2.00" fill="#fff" stroke="#111" stroke-width="1.0"/>
<circle cx="95.00" cy="732.00" r="2.00" fill="#fff" stroke="#111" stroke-width="1.0"/>
<circle cx="89.00" cy="734.50" r="2.00" fill="#fff" stroke="#111" stroke-width="1.0"/>
<circle cx="90.00" cy="739.50" r="2.00" fill="#fff" stroke="#111" stroke-width="1.0"/>
<circle cx="106.50" cy="711.00" r="2.00" fill="#fff" stroke="#111" stroke-width="1.0"/>
<circle cx="110.50" cy="712.00" r="2.00" fill="#fff" stroke="#111" stroke-width="1.0"/>
<circle cx="115.00" cy="711.50" r="2.00" fill="#fff" stroke="#111" stroke-width="1.0"/>
<circle cx="109.00" cy="716.00" r="2.00" fill="#fff" stroke="#111" stroke-width="1.0"/>
<circle cx="113.00" cy="719.00" r="2.00" fill="#fff" stroke="#111" stroke-width="1.0"/>
<circle cx="111.00" cy="726.50" r="2.00" fill="#fff" stroke="#111" stroke-width="1.0"/>
<circle cx="127.50" cy="726.00" r="2.00" fill="#fff" stroke="#111" stroke-width="1.0"/>
<circle cx="131.50" cy="723.50" r="2.00" fill="#fff" stroke="#111" stroke-width="1.0"/>
<circle cx="135.50" cy="724.50" r="2.00" fill="#fff" stroke="#111" stroke-width="1.0"/>
<circle cx="137.00" cy="726.50" r="2.00" fill="#fff" stroke="#111" stroke-width="1.0"/>
<circle cx="129.50" cy="731.50" r="2.00" fill="#fff" stroke="#111" stroke-width="1.0"/>
<circle cx="134.00" cy="731.00" r="2.00" fill="#fff" stroke="#111" stroke-width="1.0"/>
<path d="M68.5 677.4V674.8H90.5V677.4" fill="none" stroke="#111" stroke-width="1.6"/>
<text x="82.80" y="671.60" font-size="8.6" font-weight="bold" text-anchor="middle" fill="#111" textLength="36.80" lengthAdjust="spacingAndGlyphs">P&lt;0.0001</text>
<path d="M88.5 690.0V687.4H135.3V690.0" fill="none" stroke="#111" stroke-width="1.6"/>
<text x="109.30" y="685.00" font-size="8.8" font-weight="bold" text-anchor="middle" fill="#111">ns</text>
<path d="M88.5 706.4V703.8H111V706.4" fill="none" stroke="#111" stroke-width="1.6"/>
<text x="104.40" y="701.60" font-size="8.6" font-weight="bold" text-anchor="middle" fill="#111" textLength="37.20" lengthAdjust="spacingAndGlyphs">P=0.0060</text>
<text x="26.40" y="698.20" font-size="11.2" font-weight="bold" text-anchor="middle" fill="#111" transform="rotate(-90 26.40 698.20)" textLength="95.00" lengthAdjust="spacingAndGlyphs">Colon length (cm)</text>
<text x="71.40" y="769.54" font-size="11.3" font-weight="bold" text-anchor="end" fill="#111" transform="rotate(-45 71.40 769.54)">Vehicle</text>
<text x="92.50" y="769.59" font-size="11.3" font-weight="bold" text-anchor="end" fill="#111" transform="rotate(-45 92.50 769.59)">DSS</text>
<text x="114.20" y="769.59" font-size="11.3" font-weight="bold" text-anchor="end" fill="#111" transform="rotate(-45 114.20 769.59)">+ P4013B</text>
<text x="131.00" y="768.08" font-size="11.3" font-weight="bold" text-anchor="end" fill="#111" transform="rotate(-45 131.00 768.08)">+ P4013B*</text>
<text x="162.80" y="641.80" font-size="14" font-weight="bold" text-anchor="start" fill="#111">i</text>
<text x="179.60" y="678.40" font-size="10.6" font-weight="bold" text-anchor="middle" fill="#111" transform="rotate(-90 179.60 678.40)" textLength="67.00" lengthAdjust="spacingAndGlyphs">Colonoscopy</text>
<text x="179.60" y="737.90" font-size="10.5" font-weight="bold" text-anchor="middle" fill="#111" transform="rotate(-90 179.60 737.90)" textLength="22.20" lengthAdjust="spacingAndGlyphs">H&amp;E</text>
<defs><linearGradient id="c1a" x1="0" y1="0" x2="1" y2="0"><stop offset="0" stop-color="#bba6c8"/><stop offset="0.55" stop-color="#d0b0d4"/><stop offset="1" stop-color="#ecd2f0"/></linearGradient><linearGradient id="c1b" x1="0" y1="0" x2="0" y2="1"><stop offset="0" stop-color="#b88fc0" stop-opacity="0"/><stop offset="0.6" stop-color="#c07aa0" stop-opacity="0.25"/><stop offset="1" stop-color="#b0607f" stop-opacity="0.6"/></linearGradient><radialGradient id="c1w" cx="236" cy="646" r="26" gradientUnits="userSpaceOnUse"><stop offset="0" stop-color="#fff" stop-opacity="0.95"/><stop offset="0.5" stop-color="#f4e2f6" stop-opacity="0.6"/><stop offset="1" stop-color="#f0d8f0" stop-opacity="0"/></radialGradient><radialGradient id="c1h" cx="217.7" cy="673.5" r="15" gradientUnits="userSpaceOnUse"><stop offset="0" stop-color="#1e1020" stop-opacity="1"/><stop offset="0.12" stop-color="#3a2238" stop-opacity="1"/><stop offset="0.22" stop-color="#765472" stop-opacity="0.9"/><stop offset="0.55" stop-color="#94729a" stop-opacity="0.7"/><stop offset="0.75" stop-color="#a07ca0" stop-opacity="0.4"/><stop offset="1" stop-color="#a07ca0" stop-opacity="0"/></radialGradient><linearGradient id="c2a" x1="0" y1="0" x2="0" y2="1"><stop offset="0" stop-color="#fbeefa"/><stop offset="0.3" stop-color="#eccaea"/><stop offset="0.6" stop-color="#dc98b4"/><stop offset="1" stop-color="#d2707f"/></linearGradient><radialGradient id="c2h" cx="295.9" cy="681.9" r="14" gradientUnits="userSpaceOnUse"><stop offset="0" stop-color="#2e1830" stop-opacity="1"/><stop offset="0.3" stop-color="#4e2c4c" stop-opacity="1"/><stop offset="0.55" stop-color="#8a5a80" stop-opacity="0.9"/><stop offset="0.8" stop-color="#b07898" stop-opacity="0.5"/><stop offset="1" stop-color="#c08aa8" stop-opacity="0"/></radialGradient><linearGradient id="c2r" x1="0" y1="0" x2="1" y2="0"><stop offset="0" stop-color="#b46a8a" stop-opacity="0"/><stop offset="0.7" stop-color="#b46a8a" stop-opacity="0"/><stop offset="1" stop-color="#a85a7c" stop-opacity="0.5"/></linearGradient><linearGradient id="c3a" x1="0" y1="0" x2="1" y2="1"><stop offset="0" stop-color="#c496b4"/><stop offset="0.5" stop-color="#d4a6c6"/><stop offset="1" stop-color="#bc84a2"/></linearGradient><radialGradient id="c3w" cx="381" cy="648" r="32" gradientUnits="userSpaceOnUse"><stop offset="0" stop-color="#ffffff" stop-opacity="1"/><stop offset="0.35" stop-color="#fbf0fb" stop-opacity="0.9"/><stop offset="0.7" stop-color="#efd2ee" stop-opacity="0.5"/><stop offset="1" stop-color="#e8c8e8" stop-opacity="0"/></radialGradient><radialGradient id="c3h" cx="358.3" cy="667.2" r="14" gradientUnits="userSpaceOnUse"><stop offset="0" stop-color="#2a1428" stop-opacity="1"/><stop offset="0.22" stop-color="#4a2844" stop-opacity="1"/><stop offset="0.42" stop-color="#8a5672" stop-opacity="0.9"/><stop offset="0.75" stop-color="#a06a86" stop-opacity="0.6"/><stop offset="1" stop-color="#c090b0" stop-opacity="0"/></radialGradient><linearGradient id="c4a" x1="0" y1="0" x2="0" y2="1"><stop offset="0" stop-color="#fbf1f6"/><stop offset="0.2" stop-color="#f2d0dc"/><stop offset="0.5" stop-color="#e09aa4"/><stop offset="1" stop-color="#c47890"/></linearGradient><radialGradient id="c4r" cx="442" cy="672" r="24" gradientUnits="userSpaceOnUse"><stop offset="0" stop-color="#e06a70" stop-opacity="0"/><stop offset="0.35" stop-color="#e06a70" stop-opacity="0.2"/><stop offset="0.6" stop-color="#dd6870" stop-opacity="0.75"/><stop offset="0.85" stop-color="#e08a90" stop-opacity="0.4"/><stop offset="1" stop-color="#e8a0a8" stop-opacity="0"/></radialGradient><radialGradient id="c4h" cx="445" cy="670.3" r="8" gradientUnits="userSpaceOnUse"><stop offset="0" stop-color="#2a1020" stop-opacity="1"/><stop offset="0.4" stop-color="#4a2030" stop-opacity="0.95"/><stop offset="1" stop-color="#8a4a5a" stop-opacity="0"/></radialGradient></defs>
<rect x="184.00" y="644.90" width="69.70" height="66.90" fill="url(#c1a)"/>
<rect x="184.00" y="644.90" width="69.70" height="66.90" fill="url(#c1b)"/>
<rect x="184.00" y="644.90" width="69.70" height="66.90" fill="url(#c1w)"/>
<rect x="184.00" y="644.90" width="69.70" height="66.90" fill="url(#c1h)"/>
<circle cx="219.30" cy="674.00" r="2.20" fill="#1a0e18"/>
<circle cx="214.80" cy="675.80" r="1.60" fill="#e8d8e0" opacity="0.7"/>
<rect x="258.90" y="644.90" width="68.80" height="66.90" fill="url(#c2a)"/>
<rect x="258.90" y="644.90" width="68.80" height="66.90" fill="url(#c2r)"/>
<g filter="url(#blur2)"><ellipse cx="274.6" cy="698.7" rx="2.4" ry="1.5" fill="#d3404f" opacity="0.55"/><ellipse cx="298.6" cy="685.8" rx="1.5" ry="1.8" fill="#d3404f" opacity="0.55"/><ellipse cx="275.9" cy="690.3" rx="4.0" ry="1.4" fill="#d3404f" opacity="0.55"/><ellipse cx="311.6" cy="696.9" rx="3.1" ry="1.0" fill="#d3404f" opacity="0.55"/><ellipse cx="299.1" cy="707.4" rx="2.8" ry="1.7" fill="#d3404f" opacity="0.55"/><ellipse cx="301.4" cy="685.7" rx="3.4" ry="1.5" fill="#d3404f" opacity="0.55"/><ellipse cx="278.5" cy="684.8" rx="3.7" ry="1.4" fill="#d3404f" opacity="0.55"/><ellipse cx="304.3" cy="707.7" rx="3.3" ry="1.9" fill="#d3404f" opacity="0.55"/><ellipse cx="284.3" cy="705.6" rx="2.6" ry="1.9" fill="#d3404f" opacity="0.55"/><ellipse cx="314.2" cy="686.6" rx="1.8" ry="1.1" fill="#d3404f" opacity="0.55"/><ellipse cx="319.6" cy="695.8" rx="3.1" ry="1.2" fill="#d3404f" opacity="0.55"/><ellipse cx="291.2" cy="694.4" rx="2.4" ry="1.5" fill="#d3404f" opacity="0.55"/><ellipse cx="296.0" cy="708.4" rx="3.2" ry="1.9" fill="#d3404f" opacity="0.55"/><ellipse cx="312.8" cy="710.8" rx="3.2" ry="1.0" fill="#d3404f" opacity="0.55"/><ellipse cx="313.1" cy="710.0" rx="3.8" ry="1.5" fill="#d3404f" opacity="0.55"/><ellipse cx="304.0" cy="689.7" rx="3.6" ry="1.5" fill="#d3404f" opacity="0.55"/><ellipse cx="277.5" cy="685.7" rx="3.6" ry="2.0" fill="#d3404f" opacity="0.55"/><ellipse cx="265.4" cy="705.6" rx="2.5" ry="1.0" fill="#d3404f" opacity="0.55"/><ellipse cx="278.1" cy="704.8" rx="3.7" ry="0.9" fill="#d3404f" opacity="0.55"/><ellipse cx="297.9" cy="685.2" rx="3.3" ry="1.2" fill="#d3404f" opacity="0.55"/><ellipse cx="314.3" cy="710.5" rx="2.8" ry="2.0" fill="#d3404f" opacity="0.55"/><ellipse cx="279.0" cy="686.1" rx="3.0" ry="0.8" fill="#d3404f" opacity="0.55"/><ellipse cx="272.1" cy="695.0" rx="3.0" ry="1.0" fill="#d3404f" opacity="0.55"/><ellipse cx="262.5" cy="707.4" rx="2.3" ry="2.0" fill="#d3404f" opacity="0.55"/><ellipse cx="315.3" cy="694.2" rx="2.7" ry="1.4" fill="#d3404f" opacity="0.55"/><ellipse cx="299.7" cy="700.1" rx="2.9" ry="1.5" fill="#d3404f" opacity="0.55"/><ellipse cx="318.0" cy="697.7" rx="2.6" ry="1.7" fill="#d3404f" opacity="0.55"/><ellipse cx="274.6" cy="692.1" rx="3.9" ry="1.4" fill="#d3404f" opacity="0.55"/><ellipse cx="293.8" cy="684.3" rx="2.5" ry="1.5" fill="#d3404f" opacity="0.55"/><ellipse cx="261.1" cy="700.6" rx="3.1" ry="0.9" fill="#d3404f" opacity="0.55"/><ellipse cx="298.7" cy="696.6" rx="3.2" ry="1.2" fill="#d3404f" opacity="0.55"/><ellipse cx="303.6" cy="703.9" rx="1.6" ry="0.9" fill="#d3404f" opacity="0.55"/><ellipse cx="301.7" cy="710.0" rx="2.1" ry="1.3" fill="#d3404f" opacity="0.55"/><ellipse cx="296.5" cy="692.6" rx="2.4" ry="1.2" fill="#d3404f" opacity="0.55"/><ellipse cx="282.7" cy="700.1" rx="2.3" ry="1.3" fill="#d3404f" opacity="0.55"/><ellipse cx="307.6" cy="684.7" rx="2.9" ry="1.7" fill="#d3404f" opacity="0.55"/><ellipse cx="279.1" cy="690.0" rx="3.5" ry="1.1" fill="#d3404f" opacity="0.55"/><ellipse cx="271.5" cy="695.8" rx="3.2" ry="0.9" fill="#d3404f" opacity="0.55"/><ellipse cx="279.8" cy="693.0" rx="3.6" ry="1.3" fill="#d3404f" opacity="0.55"/><ellipse cx="312.8" cy="688.6" rx="2.3" ry="1.6" fill="#d3404f" opacity="0.55"/><ellipse cx="313.9" cy="665.4" rx="1.3" ry="0.7" fill="#d3404f" opacity="0.5"/><ellipse cx="301.1" cy="662.3" rx="2.2" ry="1.3" fill="#d3404f" opacity="0.5"/><ellipse cx="288.6" cy="663.3" rx="2.2" ry="1.1" fill="#d3404f" opacity="0.5"/><ellipse cx="311.0" cy="664.1" rx="1.2" ry="0.8" fill="#d3404f" opacity="0.5"/><ellipse cx="310.6" cy="663.3" rx="1.5" ry="0.9" fill="#d3404f" opacity="0.5"/><ellipse cx="297.1" cy="664.9" rx="2.4" ry="0.7" fill="#d3404f" opacity="0.5"/><ellipse cx="282.2" cy="671.3" rx="2.3" ry="1.4" fill="#d3404f" opacity="0.5"/><ellipse cx="297.6" cy="671.4" rx="2.4" ry="0.8" fill="#d3404f" opacity="0.5"/><ellipse cx="308.8" cy="670.0" rx="2.0" ry="1.0" fill="#d3404f" opacity="0.5"/><ellipse cx="292.4" cy="664.1" rx="1.3" ry="0.7" fill="#d3404f" opacity="0.5"/></g>
<rect x="258.90" y="644.90" width="68.80" height="66.90" fill="url(#c2h)"/>
<rect x="333.10" y="644.90" width="68.40" height="66.90" fill="url(#c3a)"/>
<rect x="333.10" y="644.90" width="68.40" height="66.90" fill="url(#c3w)"/>
<rect x="333.10" y="644.90" width="68.40" height="66.90" fill="url(#c3h)"/>
<circle cx="361.00" cy="689.50" r="1.40" fill="#f4e8f0" opacity="0.8"/>
<rect x="407.30" y="644.90" width="69.20" height="66.90" fill="url(#c4a)"/>
<rect x="407.30" y="644.90" width="69.20" height="66.90" fill="url(#c4r)"/>
<g filter="url(#blur2)"><ellipse cx="449.1" cy="665.6" rx="2.1" ry="0.6" fill="#d8505a" opacity="0.45"/><ellipse cx="463.6" cy="680.7" rx="2.3" ry="1.2" fill="#d8505a" opacity="0.45"/><ellipse cx="463.4" cy="676.3" rx="1.0" ry="1.1" fill="#d8505a" opacity="0.45"/><ellipse cx="429.9" cy="666.1" rx="1.9" ry="1.0" fill="#d8505a" opacity="0.45"/><ellipse cx="441.0" cy="689.7" rx="1.9" ry="0.8" fill="#d8505a" opacity="0.45"/><ellipse cx="433.6" cy="686.9" rx="1.7" ry="1.1" fill="#d8505a" opacity="0.45"/><ellipse cx="438.2" cy="662.3" rx="1.7" ry="1.2" fill="#d8505a" opacity="0.45"/><ellipse cx="429.9" cy="684.3" rx="2.3" ry="1.2" fill="#d8505a" opacity="0.45"/><ellipse cx="459.9" cy="655.3" rx="1.9" ry="1.2" fill="#d8505a" opacity="0.45"/><ellipse cx="424.3" cy="665.0" rx="1.4" ry="1.0" fill="#d8505a" opacity="0.45"/><ellipse cx="441.5" cy="672.5" rx="2.1" ry="0.6" fill="#d8505a" opacity="0.45"/><ellipse cx="424.5" cy="659.7" rx="1.2" ry="0.6" fill="#d8505a" opacity="0.45"/><ellipse cx="466.8" cy="686.6" rx="1.1" ry="1.0" fill="#d8505a" opacity="0.45"/><ellipse cx="436.5" cy="666.6" rx="1.5" ry="1.1" fill="#d8505a" opacity="0.45"/><ellipse cx="449.0" cy="668.4" rx="1.3" ry="0.8" fill="#d8505a" opacity="0.45"/><ellipse cx="427.7" cy="675.6" rx="2.0" ry="0.9" fill="#d8505a" opacity="0.45"/><ellipse cx="425.7" cy="661.6" rx="1.5" ry="1.0" fill="#d8505a" opacity="0.45"/><ellipse cx="458.0" cy="669.1" rx="2.1" ry="1.0" fill="#d8505a" opacity="0.45"/><ellipse cx="441.9" cy="668.8" rx="1.7" ry="1.1" fill="#d8505a" opacity="0.45"/><ellipse cx="441.3" cy="680.7" rx="1.6" ry="0.8" fill="#d8505a" opacity="0.45"/><ellipse cx="446.6" cy="680.7" rx="1.1" ry="0.9" fill="#d8505a" opacity="0.45"/><ellipse cx="441.6" cy="687.5" rx="2.3" ry="0.9" fill="#d8505a" opacity="0.45"/><ellipse cx="463.3" cy="684.3" rx="1.4" ry="0.9" fill="#d8505a" opacity="0.45"/><ellipse cx="427.7" cy="685.1" rx="1.9" ry="1.2" fill="#d8505a" opacity="0.45"/><ellipse cx="458.5" cy="679.7" rx="2.0" ry="1.0" fill="#d8505a" opacity="0.45"/><ellipse cx="426.7" cy="676.7" rx="1.0" ry="0.7" fill="#d8505a" opacity="0.45"/></g>
<ellipse cx="445" cy="670.3" rx="7" ry="4.5" fill="url(#c4h)"/>
<path d="M412.8 685.5L420 692.5L426.5 698L431 699L439.5 700.5L437 702.5L428 704.6L425.5 702.5L432 700.8L424.5 699.5L418 694L411.5 688Z" fill="#ffffff" opacity="0.9"/>
<path d="M407.3 670L410 668.5L410.8 672L408.5 674Z" fill="#fff" opacity="0.85"/>
<circle cx="414.60" cy="701.50" r="1.00" fill="#fff" opacity="0.8"/>
<defs><pattern id="hep" width="4" height="4" patternUnits="userSpaceOnUse"><rect width="4" height="4" fill="#b060b2"/><circle cx="1" cy="1" r="0.8" fill="#84389a"/><circle cx="3" cy="2.8" r="0.7" fill="#94449e"/><circle cx="3" cy="0.8" r="0.5" fill="#d08ac8"/></pattern><pattern id="hep2" width="3" height="3" patternUnits="userSpaceOnUse"><rect width="3" height="3" fill="#cc80c2"/><circle cx="0.8" cy="0.8" r="0.6" fill="#9a52aa"/><circle cx="2.2" cy="2.1" r="0.5" fill="#e6b0dc"/></pattern><pattern id="hep3" width="3" height="3" patternUnits="userSpaceOnUse"><rect width="3" height="3" fill="#dcaadc"/><circle cx="0.8" cy="0.8" r="0.55" fill="#a864b4"/><circle cx="2.2" cy="2.2" r="0.6" fill="#f4e0f2"/></pattern></defs>
<svg x="184" y="716" width="69.2" height="51.7" viewBox="0 0 69.2 51.7">
<rect x="0.00" y="0.00" width="69.20" height="51.70" fill="#fbf5fb"/>
<path d="M0 30L22 10L45 4L69.2 1V38L40 39L28 45L0 52Z" fill="url(#hep)"/>
<path d="M0 26L0 15L18 3L34 0L50 0L34 4L16 12Z" fill="#e0669e"/>
<path d="M0 29Q14 14 30 8Q46 4 58 4" fill="none" stroke="#fff" stroke-width="1.6"/>
<path d="M26 20L33 30L37 38L29 46M37 38L69 41" fill="none" stroke="#fff" stroke-width="2.6"/>
<path d="M4.0 30.0L2.0 50" fill="none" stroke="#f0e0f2" stroke-width="0.9"/>
<path d="M7.2 28.0L5.2 50" fill="none" stroke="#f0e0f2" stroke-width="0.9"/>
<path d="M10.4 26.0L8.4 50" fill="none" stroke="#f0e0f2" stroke-width="0.9"/>
<path d="M13.6 24.0L11.6 50" fill="none" stroke="#f0e0f2" stroke-width="0.9"/>
<path d="M16.8 22.0L14.8 50" fill="none" stroke="#f0e0f2" stroke-width="0.9"/>
<path d="M20.0 20.0L18.0 50" fill="none" stroke="#f0e0f2" stroke-width="0.9"/>
<path d="M23.2 18.0L21.2 50" fill="none" stroke="#f0e0f2" stroke-width="0.9"/>
<path d="M26.4 16.0L24.4 50" fill="none" stroke="#f0e0f2" stroke-width="0.9"/>
<path d="M38.0 8.0Q40.0 20 38.0 34" fill="none" stroke="#f0e0f2" stroke-width="0.9"/>
<path d="M41.6 7.6Q43.6 20 41.6 34" fill="none" stroke="#f0e0f2" stroke-width="0.9"/>
<path d="M45.2 7.2Q47.2 20 45.2 34" fill="none" stroke="#f0e0f2" stroke-width="0.9"/>
<path d="M48.8 6.8Q50.8 20 48.8 34" fill="none" stroke="#f0e0f2" stroke-width="0.9"/>
<path d="M52.4 6.4Q54.4 20 52.4 34" fill="none" stroke="#f0e0f2" stroke-width="0.9"/>
<path d="M56.0 6.0Q58.0 20 56.0 34" fill="none" stroke="#f0e0f2" stroke-width="0.9"/>
<path d="M59.6 5.6Q61.6 20 59.6 34" fill="none" stroke="#f0e0f2" stroke-width="0.9"/>
<path d="M63.2 5.2Q65.2 20 63.2 34" fill="none" stroke="#f0e0f2" stroke-width="0.9"/>
<path d="M66.8 4.8Q68.8 20 66.8 34" fill="none" stroke="#f0e0f2" stroke-width="0.9"/>
<path d="M30 48Q40 44 54 47L56 51.7H30Z" fill="url(#hep)"/>
<path d="M40 38L69 38V46L50 44Z" fill="#fbf5fb"/>
</svg>
<rect x="243.70" y="761.50" width="5.40" height="2.20" fill="#111"/>
<svg x="258.9" y="716" width="68.6" height="51.7" viewBox="0 0 68.6 51.7">
<rect x="0.00" y="0.00" width="68.60" height="51.70" fill="#fbf5fb"/>
<rect x="0.00" y="0.00" width="68.60" height="51.70" fill="url(#hep2)"/>
<path d="M42.5 0Q68.6 12 68.6 51.7V0Z" fill="#e0669e" opacity="0.85"/>
<path d="M52.1 0L68.6 0V14.5Q63.1 8 52.1 0Z" fill="#fbf5fb"/>
<path d="M22.0 0Q48.0 10 53.5 51.7" fill="none" stroke="#f6e0f2" stroke-width="1.3"/>
<path d="M0 32.1Q10 31.0 16 32.6Q22 36.2 28 40.3Q18 36.2 8 37.2L0 38.8Z" fill="#fbf5fb"/>
<rect x="0.00" y="47.70" width="37.73" height="4.00" fill="#f4e0f2"/>
</svg>
<rect x="318.00" y="761.50" width="5.40" height="2.20" fill="#111"/>
<svg x="332.9" y="716" width="68.6" height="51.7" viewBox="0 0 68.6 51.7">
<rect x="0.00" y="0.00" width="68.60" height="51.70" fill="#fbf5fb"/>
<path d="M0 51.7V10Q30 2 68.6 0V51.7Z" fill="url(#hep)"/>
<path d="M0 12V6Q28 0 46 0L50 2Q26 4 0 12Z" fill="#e0669e"/>
<path d="M5.0 15Q9.0 30 4.0 46" fill="none" stroke="#f2e4f4" stroke-width="1.2"/>
<path d="M11.8 17Q15.8 30 10.8 46" fill="none" stroke="#f2e4f4" stroke-width="1.2"/>
<path d="M18.6 19Q22.6 30 17.6 46" fill="none" stroke="#f2e4f4" stroke-width="1.2"/>
<path d="M25.4 15Q29.4 30 24.4 46" fill="none" stroke="#f2e4f4" stroke-width="1.2"/>
<path d="M32.2 17Q36.2 30 31.2 46" fill="none" stroke="#f2e4f4" stroke-width="1.2"/>
<path d="M39.0 19Q43.0 30 38.0 46" fill="none" stroke="#f2e4f4" stroke-width="1.2"/>
<path d="M45.8 15Q49.8 30 44.8 46" fill="none" stroke="#f2e4f4" stroke-width="1.2"/>
<path d="M55.6 6Q64.6 14 58.6 40L62.6 51.7H68.6V14Z" fill="#fbf5fb"/>
<path d="M0 45.7Q20 49.7 38 47.7L54.6 51.7H0Z" fill="#fbf5fb"/>
</svg>
<rect x="392.00" y="761.50" width="5.40" height="2.20" fill="#111"/>
<svg x="407.3" y="716" width="69.2" height="51.7" viewBox="0 0 69.2 51.7">
<rect x="0.00" y="0.00" width="69.20" height="51.70" fill="#fbf5fb"/>
<rect x="0.00" y="0.00" width="69.20" height="51.70" fill="url(#hep3)"/>
<path d="M0 41.7Q34.6 39.7 69.2 27.7V45.7Q55.4 49.7 48.4 51.7H0Z" fill="#e0669e"/>
<path d="M49.8 51.7Q58.8 48.7 69.2 45.7V51.7Z" fill="#fbf5fb"/>
<path d="M0 39.7Q34.6 37.7 69.2 25.7" fill="none" stroke="#fbf5fb" stroke-width="0.9"/>
<path d="M0 0H69.2V4Q55.4 8 48.4 2Q41.5 10 38.1 2Q27.7 8 20.8 1Q10.4 6 0 2Z" fill="#fbf5fb"/>
<path d="M8.0 2Q10.0 10 7.0 18" fill="none" stroke="#a450aa" stroke-width="2.2"/>
<path d="M16.0 2Q18.0 10 15.0 18" fill="none" stroke="#a450aa" stroke-width="2.2"/>
<path d="M24.0 2Q26.0 10 23.0 18" fill="none" stroke="#a450aa" stroke-width="2.2"/>
<path d="M32.0 2Q34.0 10 31.0 18" fill="none" stroke="#a450aa" stroke-width="2.2"/>
<path d="M40.0 2Q42.0 10 39.0 18" fill="none" stroke="#a450aa" stroke-width="2.2"/>
<path d="M48.0 2Q50.0 10 47.0 18" fill="none" stroke="#a450aa" stroke-width="2.2"/>
</svg>
<rect x="467.00" y="761.50" width="5.40" height="2.20" fill="#111"/>
<text x="218.85" y="781.20" font-size="11.4" font-weight="bold" text-anchor="middle" fill="#111">Vehicle</text>
<text x="293.30" y="781.20" font-size="11.4" font-weight="bold" text-anchor="middle" fill="#111">DSS</text>
<text x="367.40" y="781.20" font-size="11.4" font-weight="bold" text-anchor="middle" fill="#111">+ P4013B</text>
<text x="442.05" y="781.20" font-size="11.4" font-weight="bold" text-anchor="middle" fill="#111">+ P4013B*</text>
<text x="499.50" y="643.60" font-size="14" font-weight="bold" text-anchor="start" fill="#111">j</text>
<text x="669.80" y="656.20" font-size="11" font-weight="bold" text-anchor="middle" fill="#111" textLength="20.40" lengthAdjust="spacingAndGlyphs">kDa</text>
<rect x="542.30" y="661.00" width="117.90" height="17.40" fill="#fafafa"/>
<rect x="550.3" y="665.4" width="24.4" height="8.7" rx="3.0" fill="rgb(159,159,159)" filter="url(#blur1)"/>
<rect x="577.1" y="664.9" width="24.4" height="9.6" rx="3.0" fill="rgb(53,53,53)" filter="url(#blur1)"/>
<rect x="603.8" y="665.4" width="24.4" height="8.7" rx="3.0" fill="rgb(164,164,164)" filter="url(#blur1)"/>
<rect x="630.0" y="664.9" width="24.4" height="9.6" rx="3.0" fill="rgb(65,65,65)" filter="url(#blur1)"/>
<rect x="542.30" y="661.00" width="117.90" height="17.40" fill="none" stroke="#111" stroke-width="1.1"/>
<text x="536.90" y="673.60" font-size="11" font-weight="bold" text-anchor="end" fill="#111">p-p65</text>
<text x="660.60" y="675.30" font-size="10.6" font-weight="bold" text-anchor="start" fill="#111">-50</text>
<rect x="542.30" y="685.80" width="117.90" height="15.60" fill="#fafafa"/>
<rect x="550.3" y="691.3" width="24.4" height="4.7" rx="2.3" fill="rgb(53,53,53)" filter="url(#blur1)"/>
<rect x="577.1" y="691.3" width="24.4" height="4.7" rx="2.3" fill="rgb(53,53,53)" filter="url(#blur1)"/>
<rect x="603.8" y="691.3" width="24.4" height="4.7" rx="2.3" fill="rgb(53,53,53)" filter="url(#blur1)"/>
<rect x="630.0" y="691.3" width="24.4" height="4.7" rx="2.3" fill="rgb(53,53,53)" filter="url(#blur1)"/>
<rect x="542.30" y="685.80" width="117.90" height="15.60" fill="none" stroke="#111" stroke-width="1.1"/>
<text x="536.90" y="697.50" font-size="11" font-weight="bold" text-anchor="end" fill="#111">p65</text>
<text x="660.60" y="699.20" font-size="10.6" font-weight="bold" text-anchor="start" fill="#111">-50</text>
<rect x="542.30" y="708.90" width="117.90" height="15.90" fill="#fafafa"/>
<rect x="550.3" y="711.7" width="24.4" height="8.7" rx="3.0" fill="rgb(200,200,200)" filter="url(#blur1)"/>
<rect x="577.1" y="712.7" width="24.4" height="6.7" rx="3.0" fill="rgb(31,31,31)" filter="url(#blur1)"/>
<rect x="603.8" y="713.7" width="24.4" height="4.8" rx="2.4" fill="rgb(110,110,110)" filter="url(#blur1)"/>
<rect x="630.0" y="712.7" width="24.4" height="6.7" rx="3.0" fill="rgb(26,26,26)" filter="url(#blur1)"/>
<rect x="542.30" y="708.90" width="117.90" height="15.90" fill="none" stroke="#111" stroke-width="1.1"/>
<text x="536.90" y="720.75" font-size="11" font-weight="bold" text-anchor="end" fill="#111">IL6</text>
<text x="660.60" y="722.45" font-size="10.6" font-weight="bold" text-anchor="start" fill="#111">-20</text>
<rect x="542.30" y="732.20" width="117.90" height="16.50" fill="#fafafa"/>
<rect x="550.3" y="736.3" width="24.4" height="8.2" rx="3.0" fill="rgb(166,166,166)" filter="url(#blur1)"/>
<rect x="577.1" y="735.9" width="24.4" height="9.1" rx="3.0" fill="rgb(20,20,20)" filter="url(#blur1)"/>
<rect x="603.8" y="737.6" width="24.4" height="5.8" rx="2.9" fill="rgb(38,38,38)" filter="url(#blur1)"/>
<rect x="630.0" y="737.8" width="24.4" height="5.3" rx="2.6" fill="rgb(38,38,38)" filter="url(#blur1)"/>
<rect x="542.30" y="732.20" width="117.90" height="16.50" fill="none" stroke="#111" stroke-width="1.1"/>
<text x="536.90" y="744.35" font-size="11" font-weight="bold" text-anchor="end" fill="#111">TNF-α</text>
<text x="660.60" y="746.05" font-size="10.6" font-weight="bold" text-anchor="start" fill="#111">-25</text>
<rect x="542.30" y="754.70" width="117.90" height="14.10" fill="#fafafa"/>
<rect x="550.3" y="759.1" width="24.4" height="5.9" rx="3.0" fill="rgb(31,31,31)" filter="url(#blur1)"/>
<rect x="577.1" y="759.1" width="24.4" height="5.9" rx="3.0" fill="rgb(31,31,31)" filter="url(#blur1)"/>
<rect x="603.8" y="759.1" width="24.4" height="5.9" rx="3.0" fill="rgb(31,31,31)" filter="url(#blur1)"/>
<rect x="630.0" y="759.1" width="24.4" height="5.9" rx="3.0" fill="rgb(31,31,31)" filter="url(#blur1)"/>
<rect x="542.30" y="754.70" width="117.90" height="14.10" fill="none" stroke="#111" stroke-width="1.1"/>
<text x="536.90" y="765.65" font-size="11" font-weight="bold" text-anchor="end" fill="#111">β-actin</text>
<text x="660.60" y="767.35" font-size="10.6" font-weight="bold" text-anchor="start" fill="#111">-40</text>
<text x="565.20" y="781.74" font-size="11.3" font-weight="bold" text-anchor="end" fill="#111" transform="rotate(-45 565.20 781.74)">Vehicle</text>
<text x="591.40" y="782.99" font-size="11.3" font-weight="bold" text-anchor="end" fill="#111" transform="rotate(-45 591.40 782.99)">DSS</text>
<text x="620.10" y="783.09" font-size="11.3" font-weight="bold" text-anchor="end" fill="#111" transform="rotate(-45 620.10 783.09)">+ P4013B</text>
<text x="648.20" y="782.88" font-size="11.3" font-weight="bold" text-anchor="end" fill="#111" transform="rotate(-45 648.20 782.88)">+ P4013B*</text>
<text x="1.80" y="820.00" font-size="14" font-weight="bold" text-anchor="start" fill="#111">k</text>
<rect x="42.00" y="819.00" width="77.80" height="114.80" fill="#000"/>
<defs><radialGradient id="wellg"><stop offset="0.8" stop-color="#fff" stop-opacity="1"/><stop offset="1" stop-color="#fff" stop-opacity="0"/></radialGradient></defs>
<circle cx="53.40" cy="829.00" r="7.60" fill="#040a04"/>
<circle cx="53.40" cy="829.00" r="6.50" fill="rgb(6,21,5)"/>
<circle cx="71.60" cy="829.00" r="7.60" fill="#040a04"/>
<circle cx="71.60" cy="829.00" r="6.50" fill="rgb(20,112,14)"/>
<circle cx="89.90" cy="829.00" r="7.60" fill="#040a04"/>
<circle cx="89.90" cy="829.00" r="6.50" fill="rgb(15,88,12)"/>
<circle cx="108.10" cy="829.00" r="7.60" fill="#040a04"/>
<circle cx="108.10" cy="829.00" r="6.50" fill="rgb(80,255,28)"/>
<circle cx="53.40" cy="848.20" r="7.60" fill="#040a04"/>
<circle cx="53.40" cy="848.20" r="6.50" fill="rgb(6,17,4)"/>
<circle cx="71.60" cy="848.20" r="7.60" fill="#040a04"/>
<circle cx="71.60" cy="848.20" r="6.50" fill="rgb(17,100,13)"/>
<circle cx="89.90" cy="848.20" r="7.60" fill="#040a04"/>
<circle cx="89.90" cy="848.20" r="6.50" fill="rgb(6,27,5)"/>
<circle cx="108.10" cy="848.20" r="7.60" fill="#040a04"/>
<circle cx="108.10" cy="848.20" r="6.50" fill="rgb(28,137,17)"/>
<circle cx="53.40" cy="866.90" r="7.60" fill="#040a04"/>
<circle cx="53.40" cy="866.90" r="6.50" fill="rgb(6,17,4)"/>
<circle cx="71.60" cy="866.90" r="7.60" fill="#040a04"/>
<circle cx="71.60" cy="866.90" r="6.50" fill="rgb(80,255,28)"/>
<circle cx="89.90" cy="866.90" r="7.60" fill="#040a04"/>
<circle cx="89.90" cy="866.90" r="6.50" fill="rgb(6,17,4)"/>
<circle cx="108.10" cy="866.90" r="7.60" fill="#040a04"/>
<circle cx="108.10" cy="866.90" r="6.50" fill="rgb(80,255,28)"/>
<circle cx="53.40" cy="885.60" r="7.60" fill="#040a04"/>
<circle cx="53.40" cy="885.60" r="6.50" fill="rgb(8,53,8)"/>
<circle cx="71.60" cy="885.60" r="7.60" fill="#040a04"/>
<circle cx="71.60" cy="885.60" r="6.50" fill="rgb(80,255,28)"/>
<circle cx="89.90" cy="885.60" r="7.60" fill="#040a04"/>
<circle cx="89.90" cy="885.60" r="6.50" fill="rgb(12,76,11)"/>
<circle cx="108.10" cy="885.60" r="7.60" fill="#040a04"/>
<circle cx="108.10" cy="885.60" r="6.50" fill="rgb(80,255,28)"/>
<circle cx="53.40" cy="904.60" r="7.60" fill="#040a04"/>
<circle cx="53.40" cy="904.60" r="6.50" fill="rgb(6,17,4)"/>
<circle cx="71.60" cy="904.60" r="7.60" fill="#040a04"/>
<circle cx="71.60" cy="904.60" r="6.50" fill="rgb(80,255,28)"/>
<circle cx="89.90" cy="904.60" r="7.60" fill="#040a04"/>
<circle cx="89.90" cy="904.60" r="6.50" fill="rgb(47,189,22)"/>
<circle cx="108.10" cy="904.60" r="7.60" fill="#040a04"/>
<circle cx="108.10" cy="904.60" r="6.50" fill="rgb(17,100,13)"/>
<circle cx="53.40" cy="923.60" r="7.60" fill="#040a04"/>
<circle cx="53.40" cy="923.60" r="6.50" fill="rgb(8,53,8)"/>
<circle cx="71.60" cy="923.60" r="7.60" fill="#040a04"/>
<circle cx="71.60" cy="923.60" r="6.50" fill="rgb(80,255,28)"/>
<circle cx="89.90" cy="923.60" r="7.60" fill="#040a04"/>
<circle cx="89.90" cy="923.60" r="6.50" fill="rgb(17,100,13)"/>
<circle cx="108.10" cy="923.60" r="7.60" fill="#040a04"/>
<circle cx="108.10" cy="923.60" r="6.50" fill="rgb(80,255,28)"/>
<text x="56.20" y="945.84" font-size="11.3" font-weight="bold" text-anchor="end" fill="#111" transform="rotate(-45 56.20 945.84)">Vehicle</text>
<text x="76.20" y="946.29" font-size="11.3" font-weight="bold" text-anchor="end" fill="#111" transform="rotate(-45 76.20 946.29)">DSS</text>
<text x="94.70" y="947.09" font-size="11.3" font-weight="bold" text-anchor="end" fill="#111" transform="rotate(-45 94.70 947.09)">+ P4013B</text>
<text x="114.00" y="944.68" font-size="11.3" font-weight="bold" text-anchor="end" fill="#111" transform="rotate(-45 114.00 944.68)">+ P4013B*</text>
<line x1="174.60" y1="935.40" x2="174.60" y2="832.50" stroke="#000" stroke-width="1.5"/>
<line x1="174.60" y1="934.70" x2="265.90" y2="934.70" stroke="#000" stroke-width="1.5"/>
<line x1="169.40" y1="934.70" x2="174.60" y2="934.70" stroke="#000" stroke-width="1.4"/>
<text x="166.10" y="938.60" font-size="10.8" font-weight="bold" text-anchor="end" fill="#111">0</text>
<line x1="169.40" y1="914.34" x2="174.60" y2="914.34" stroke="#000" stroke-width="1.4"/>
<text x="166.10" y="918.24" font-size="10.8" font-weight="bold" text-anchor="end" fill="#111">10</text>
<line x1="169.40" y1="893.98" x2="174.60" y2="893.98" stroke="#000" stroke-width="1.4"/>
<text x="166.10" y="897.88" font-size="10.8" font-weight="bold" text-anchor="end" fill="#111">20</text>
<line x1="169.40" y1="873.62" x2="174.60" y2="873.62" stroke="#000" stroke-width="1.4"/>
<text x="166.10" y="877.52" font-size="10.8" font-weight="bold" text-anchor="end" fill="#111">30</text>
<line x1="169.40" y1="853.26" x2="174.60" y2="853.26" stroke="#000" stroke-width="1.4"/>
<text x="166.10" y="857.16" font-size="10.8" font-weight="bold" text-anchor="end" fill="#111">40</text>
<line x1="169.40" y1="832.90" x2="174.60" y2="832.90" stroke="#000" stroke-width="1.4"/>
<text x="166.10" y="836.80" font-size="10.8" font-weight="bold" text-anchor="end" fill="#111">50</text>
<rect x="181.00" y="932.46" width="14.00" height="2.24" fill="#79afd0"/>
<rect x="202.60" y="899.88" width="13.60" height="34.82" fill="#e8673f"/>
<rect x="223.00" y="928.18" width="13.30" height="6.52" fill="#47cf47"/>
<rect x="244.00" y="916.58" width="13.70" height="18.12" fill="#d98ff0"/>
<line x1="209.40" y1="899.88" x2="209.40" y2="887.67" stroke="#111" stroke-width="1.1"/>
<line x1="205.80" y1="887.67" x2="213.00" y2="887.67" stroke="#111" stroke-width="1.1"/>
<circle cx="184.50" cy="932.70" r="1.80" fill="#fff" stroke="#111" stroke-width="1.0"/>
<circle cx="186.50" cy="929.50" r="1.80" fill="#fff" stroke="#111" stroke-width="1.0"/>
<circle cx="190.50" cy="929.80" r="1.80" fill="#fff" stroke="#111" stroke-width="1.0"/>
<circle cx="190.80" cy="932.70" r="1.80" fill="#fff" stroke="#111" stroke-width="1.0"/>
<circle cx="193.50" cy="932.70" r="1.80" fill="#fff" stroke="#111" stroke-width="1.0"/>
<circle cx="209.00" cy="856.70" r="1.80" fill="#fff" stroke="#111" stroke-width="1.0"/>
<circle cx="209.00" cy="868.80" r="1.80" fill="#fff" stroke="#111" stroke-width="1.0"/>
<circle cx="209.00" cy="902.80" r="1.80" fill="#fff" stroke="#111" stroke-width="1.0"/>
<circle cx="205.00" cy="921.20" r="1.80" fill="#fff" stroke="#111" stroke-width="1.0"/>
<circle cx="214.50" cy="921.20" r="1.80" fill="#fff" stroke="#111" stroke-width="1.0"/>
<circle cx="209.00" cy="929.50" r="1.80" fill="#fff" stroke="#111" stroke-width="1.0"/>
<circle cx="225.50" cy="928.50" r="1.80" fill="#fff" stroke="#111" stroke-width="1.0"/>
<circle cx="229.00" cy="929.00" r="1.80" fill="#fff" stroke="#111" stroke-width="1.0"/>
<circle cx="233.00" cy="928.50" r="1.80" fill="#fff" stroke="#111" stroke-width="1.0"/>
<circle cx="230.00" cy="921.50" r="1.80" fill="#fff" stroke="#111" stroke-width="1.0"/>
<circle cx="226.00" cy="932.80" r="1.80" fill="#fff" stroke="#111" stroke-width="1.0"/>
<circle cx="235.00" cy="932.80" r="1.80" fill="#fff" stroke="#111" stroke-width="1.0"/>
<circle cx="246.00" cy="915.50" r="1.80" fill="#fff" stroke="#111" stroke-width="1.0"/>
<circle cx="250.00" cy="912.50" r="1.80" fill="#fff" stroke="#111" stroke-width="1.0"/>
<circle cx="254.00" cy="913.50" r="1.80" fill="#fff" stroke="#111" stroke-width="1.0"/>
<circle cx="256.00" cy="911.00" r="1.80" fill="#fff" stroke="#111" stroke-width="1.0"/>
<circle cx="247.00" cy="928.00" r="1.80" fill="#fff" stroke="#111" stroke-width="1.0"/>
<circle cx="253.00" cy="923.50" r="1.80" fill="#fff" stroke="#111" stroke-width="1.0"/>
<path d="M187.8 830.4V827.8H209.7V830.4" fill="none" stroke="#111" stroke-width="1.6"/>
<text x="202.00" y="824.50" font-size="8.6" font-weight="bold" text-anchor="middle" fill="#111">P=0.0116</text>
<path d="M208.7 837.6V835H255.7V837.6" fill="none" stroke="#111" stroke-width="1.6"/>
<text x="229.00" y="832.00" font-size="8.6" font-weight="bold" text-anchor="middle" fill="#111">ns</text>
<path d="M208.7 852.0V849.4H231.2V852.0" fill="none" stroke="#111" stroke-width="1.6"/>
<text x="225.00" y="847.50" font-size="8.6" font-weight="bold" text-anchor="middle" fill="#111">P=0.0218</text>
<text x="145.60" y="877.00" font-size="11.4" font-weight="bold" text-anchor="middle" fill="#111" transform="rotate(-90 145.60 877.00)" textLength="115.50" lengthAdjust="spacingAndGlyphs">FITC-dextran (µg/mL)</text>
<text x="191.60" y="950.94" font-size="11.3" font-weight="bold" text-anchor="end" fill="#111" transform="rotate(-45 191.60 950.94)">Vehicle</text>
<text x="212.50" y="950.29" font-size="11.3" font-weight="bold" text-anchor="end" fill="#111" transform="rotate(-45 212.50 950.29)">DSS</text>
<text x="232.20" y="952.19" font-size="11.3" font-weight="bold" text-anchor="end" fill="#111" transform="rotate(-45 232.20 952.19)">+ P4013B</text>
<text x="251.20" y="950.28" font-size="11.3" font-weight="bold" text-anchor="end" fill="#111" transform="rotate(-45 251.20 950.28)">+ P4013B*</text>
<text x="277.80" y="819.30" font-size="14" font-weight="bold" text-anchor="start" fill="#111">l</text>
<defs><pattern id="ifp" width="4" height="4" patternUnits="userSpaceOnUse"><rect width="4" height="4" fill="#4a0a05"/><rect x="0" y="0" width="1.5" height="1.5" fill="#f03a1c"/><rect x="2.2" y="1.8" width="1.3" height="1.3" fill="#d02e14"/><rect x="1" y="2.8" width="1" height="1" fill="#9a1e0c"/><rect x="2.8" y="0.2" width="0.9" height="0.9" fill="#d8301a"/></pattern><pattern id="ifp2" width="4" height="4" patternUnits="userSpaceOnUse"><rect width="4" height="4" fill="#1c0302"/><rect x="0" y="0" width="1.1" height="1.1" fill="#b42412"/><rect x="2.2" y="1.8" width="1" height="1" fill="#8a180a"/><rect x="1" y="2.8" width="0.8" height="0.8" fill="#6a1208"/></pattern><pattern id="ifp3" width="4" height="4" patternUnits="userSpaceOnUse"><rect width="4" height="4" fill="#120201"/><rect x="0.5" y="0.5" width="1" height="1" fill="#7a160a"/><rect x="2.5" y="2.5" width="0.8" height="0.8" fill="#5a1006"/></pattern></defs>
<svg x="293.4" y="810.4" width="73.8" height="54.6" viewBox="0 0 73.8 54.6">
<rect x="0.00" y="0.00" width="73.80" height="54.60" fill="#000"/>
<ellipse cx="30" cy="44" rx="46" ry="42" fill="url(#ifp3)"/>
<ellipse cx="30" cy="44" rx="42" ry="38" fill="url(#ifp2)"/>
<ellipse cx="29" cy="45" rx="36" ry="33" fill="url(#ifp)"/>
<path d="M34 25L40 30M38 28L30 38L24 44L20 50M30 38L36 46M24 44L16 42" fill="none" stroke="#000" stroke-width="2.2"/>
</svg>
<rect x="360.20" y="859.50" width="4.50" height="1.80" fill="#fff"/>
<svg x="370.7" y="810.4" width="73.9" height="54.6" viewBox="0 0 73.9 54.6">
<rect x="0.00" y="0.00" width="73.90" height="54.60" fill="#000"/>
<rect x="0.00" y="0.00" width="73.90" height="54.60" fill="url(#ifp2)"/>
<path d="M0 0H20Q8 6 0 14Z" fill="#000"/>
<path d="M20 2Q50 4 73.9 18" fill="none" stroke="#8a1c0c" stroke-width="3" opacity="0.8"/>
<path d="M63.9 0H73.9V10Z" fill="#000"/>
</svg>
<rect x="437.60" y="859.50" width="4.50" height="1.80" fill="#fff"/>
<svg x="293.4" y="879" width="73.8" height="55.0" viewBox="0 0 73.8 55.0">
<rect x="0.00" y="0.00" width="73.80" height="55.00" fill="#000"/>
<path d="M0 55.0V8Q35 -2 73.8 8V55.0Z" fill="url(#ifp2)"/>
<path d="M0 55.0V18Q35 6 73.8 18V55.0Z" fill="url(#ifp)"/>
<path d="M22 55.0L28 46L34 40L40 46L46 55.0Z" fill="#000"/>
<path d="M28 46L16 34M34 40L32 24M40 46L52 36M31 43L22 30" fill="none" stroke="#000" stroke-width="1.5"/>
</svg>
<rect x="360.20" y="928.50" width="4.50" height="1.80" fill="#fff"/>
<svg x="370.7" y="879" width="73.9" height="55.0" viewBox="0 0 73.9 55.0">
<rect x="0.00" y="0.00" width="73.90" height="55.00" fill="#000"/>
<rect x="0.00" y="0.00" width="73.90" height="55.00" fill="url(#ifp3)"/>
<path d="M0 55.0V40Q30 4 73.9 0V55.0Z" fill="url(#ifp2)"/>
<path d="M0 40Q30 4 73.9 0" fill="none" stroke="#b82a14" stroke-width="2.2" opacity="0.8"/>
<path d="M0 55.0V30Q20 4 44.3 0H0Z" fill="#000"/>
<path d="M34 55.0Q55 38 67.9 26Q60 44 40 55.0Z" fill="#000"/>
</svg>
<rect x="437.60" y="928.50" width="4.50" height="1.80" fill="#fff"/>
<text x="334.20" y="876.20" font-size="11.6" font-weight="bold" text-anchor="middle" fill="#111">Vehicle</text>
<text x="408.70" y="876.20" font-size="11.6" font-weight="bold" text-anchor="middle" fill="#111">DSS</text>
<text x="332.80" y="945.90" font-size="11.6" font-weight="bold" text-anchor="middle" fill="#111">+ P4013B</text>
<text x="405.80" y="945.90" font-size="11.6" font-weight="bold" text-anchor="middle" fill="#111">+ P4013B*</text>
<text x="465.00" y="819.00" font-size="14" font-weight="bold" text-anchor="start" fill="#111">m</text>
<text x="669.20" y="848.00" font-size="11" font-weight="bold" text-anchor="middle" fill="#111" textLength="20.40" lengthAdjust="spacingAndGlyphs">kDa</text>
<rect x="542.10" y="850.80" width="117.30" height="15.40" fill="#fafafa"/>
<rect x="550.3" y="854.6" width="24.4" height="4.6" rx="2.3" fill="rgb(20,20,20)" filter="url(#blur1)"/>
<rect x="577.1" y="855.4" width="24.4" height="3.1" rx="1.5" fill="rgb(155,155,155)" filter="url(#blur1)"/>
<rect x="603.8" y="855.0" width="24.4" height="3.9" rx="1.9" fill="rgb(53,53,53)" filter="url(#blur1)"/>
<rect x="630.0" y="855.4" width="24.4" height="3.1" rx="1.5" fill="rgb(177,177,177)" filter="url(#blur1)"/>
<rect x="542.10" y="850.80" width="117.30" height="15.40" fill="none" stroke="#111" stroke-width="1.1"/>
<text x="537.20" y="862.40" font-size="11.4" font-weight="bold" text-anchor="end" fill="#111">E-cadherin</text>
<text x="659.80" y="865.90" font-size="10.6" font-weight="bold" text-anchor="start" fill="#111">-100</text>
<rect x="542.10" y="874.10" width="117.30" height="15.10" fill="#fafafa"/>
<rect x="550.3" y="878.8" width="24.4" height="4.2" rx="2.1" fill="rgb(20,20,20)" filter="url(#blur1)"/>
<rect x="577.1" y="879.2" width="24.4" height="3.3" rx="1.7" fill="rgb(132,132,132)" filter="url(#blur1)"/>
<rect x="603.8" y="878.9" width="24.4" height="3.9" rx="2.0" fill="rgb(42,42,42)" filter="url(#blur1)"/>
<rect x="630.0" y="879.4" width="24.4" height="3.0" rx="1.5" fill="rgb(143,143,143)" filter="url(#blur1)"/>
<rect x="542.10" y="874.10" width="117.30" height="15.10" fill="none" stroke="#111" stroke-width="1.1"/>
<text x="537.20" y="885.55" font-size="11.4" font-weight="bold" text-anchor="end" fill="#111">β-catenin</text>
<text x="659.80" y="889.05" font-size="10.6" font-weight="bold" text-anchor="start" fill="#111">-70</text>
<rect x="542.10" y="897.40" width="117.30" height="15.10" fill="#fafafa"/>
<rect x="550.3" y="902.2" width="24.4" height="4.5" rx="2.3" fill="rgb(24,24,24)" filter="url(#blur1)"/>
<rect x="577.1" y="902.5" width="24.4" height="3.9" rx="2.0" fill="rgb(98,98,98)" filter="url(#blur1)"/>
<rect x="603.8" y="902.4" width="24.4" height="4.2" rx="2.1" fill="rgb(47,47,47)" filter="url(#blur1)"/>
<rect x="630.0" y="902.8" width="24.4" height="3.3" rx="1.7" fill="rgb(150,150,150)" filter="url(#blur1)"/>
<rect x="542.10" y="897.40" width="117.30" height="15.10" fill="none" stroke="#111" stroke-width="1.1"/>
<text x="537.20" y="908.85" font-size="11.4" font-weight="bold" text-anchor="end" fill="#111">Occludin</text>
<text x="659.80" y="912.35" font-size="10.6" font-weight="bold" text-anchor="start" fill="#111">-50</text>
<rect x="542.10" y="920.40" width="117.30" height="13.20" fill="#fafafa"/>
<rect x="550.3" y="924.5" width="24.4" height="5.5" rx="2.8" fill="rgb(20,20,20)" filter="url(#blur1)"/>
<rect x="577.1" y="924.8" width="24.4" height="5.0" rx="2.5" fill="rgb(26,26,26)" filter="url(#blur1)"/>
<rect x="603.8" y="924.6" width="24.4" height="5.3" rx="2.6" fill="rgb(24,24,24)" filter="url(#blur1)"/>
<rect x="630.0" y="924.5" width="24.4" height="5.5" rx="2.8" fill="rgb(20,20,20)" filter="url(#blur1)"/>
<rect x="542.10" y="920.40" width="117.30" height="13.20" fill="none" stroke="#111" stroke-width="1.1"/>
<text x="537.20" y="930.90" font-size="11.4" font-weight="bold" text-anchor="end" fill="#111">β-actin</text>
<text x="659.80" y="934.40" font-size="10.6" font-weight="bold" text-anchor="start" fill="#111">-40</text>
<text x="567.00" y="945.64" font-size="11.3" font-weight="bold" text-anchor="end" fill="#111" transform="rotate(-45 567.00 945.64)">Vehicle</text>
<text x="591.60" y="946.19" font-size="11.3" font-weight="bold" text-anchor="end" fill="#111" transform="rotate(-45 591.60 946.19)">DSS</text>
<text x="617.20" y="946.19" font-size="11.3" font-weight="bold" text-anchor="end" fill="#111" transform="rotate(-45 617.20 946.19)">+ P4013B</text>
<text x="644.20" y="945.38" font-size="11.3" font-weight="bold" text-anchor="end" fill="#111" transform="rotate(-45 644.20 945.38)">+ P4013B*</text>
</svg></body></html>
